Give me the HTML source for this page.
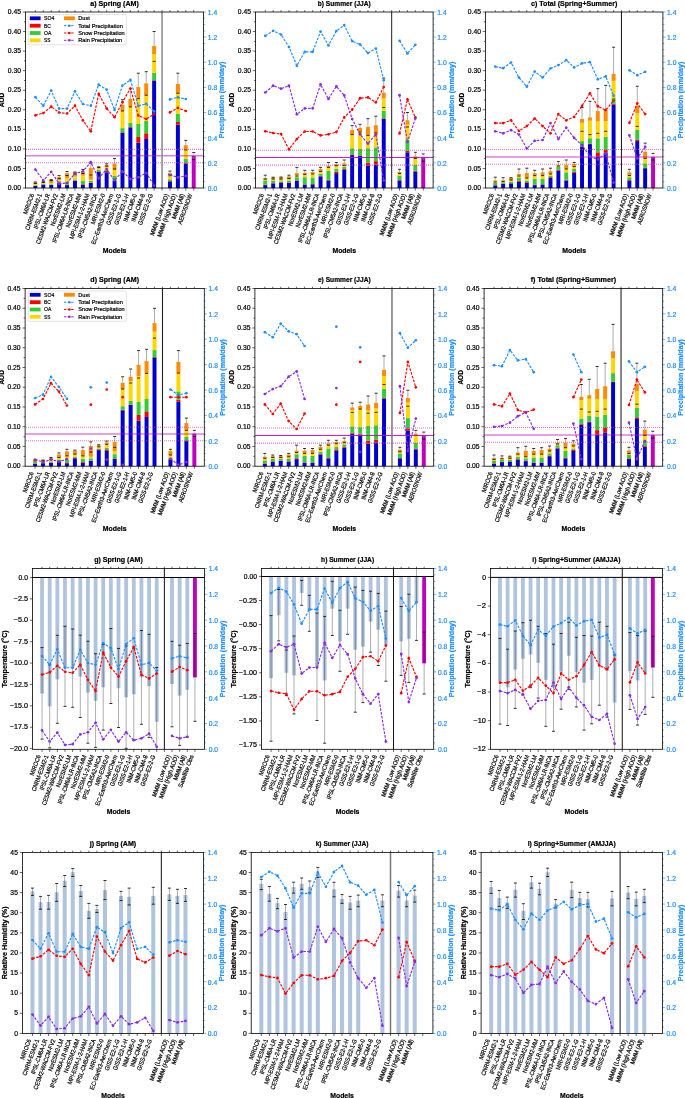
<!DOCTYPE html>
<html><head><meta charset="utf-8"><title>Figure</title>
<style>html,body{margin:0;padding:0;background:#fff;}svg{display:block;font-family:"Liberation Sans",sans-serif;will-change:transform;}</style>
</head><body>
<svg width="685" height="1098" viewBox="0 0 685 1098" font-family="Liberation Sans, sans-serif">
<rect width="685" height="1098" fill="#fff"/>
<path d="M35.39 188.00v2.6 M35.39 12.00v-1.8 M43.31 188.00v2.6 M43.31 12.00v-1.8 M51.23 188.00v2.6 M51.23 12.00v-1.8 M59.14 188.00v2.6 M59.14 12.00v-1.8 M67.06 188.00v2.6 M67.06 12.00v-1.8 M74.97 188.00v2.6 M74.97 12.00v-1.8 M82.89 188.00v2.6 M82.89 12.00v-1.8 M90.80 188.00v2.6 M90.80 12.00v-1.8 M98.72 188.00v2.6 M98.72 12.00v-1.8 M106.63 188.00v2.6 M106.63 12.00v-1.8 M114.55 188.00v2.6 M114.55 12.00v-1.8 M122.47 188.00v2.6 M122.47 12.00v-1.8 M130.38 188.00v2.6 M130.38 12.00v-1.8 M138.30 188.00v2.6 M138.30 12.00v-1.8 M146.21 188.00v2.6 M146.21 12.00v-1.8 M154.13 188.00v2.6 M154.13 12.00v-1.8 M162.04 188.00v2.6 M162.04 12.00v-1.8 M169.96 188.00v2.6 M169.96 12.00v-1.8 M177.87 188.00v2.6 M177.87 12.00v-1.8 M185.79 188.00v2.6 M185.79 12.00v-1.8 M193.71 188.00v2.6 M193.71 12.00v-1.8 M25.50 188.00h-2.6 M25.50 168.44h-2.6 M25.50 148.89h-2.6 M25.50 129.33h-2.6 M25.50 109.78h-2.6 M25.50 90.22h-2.6 M25.50 70.67h-2.6 M25.50 51.11h-2.6 M25.50 31.56h-2.6 M25.50 12.00h-2.6 M25.50 178.22h-1.5 M25.50 158.67h-1.5 M25.50 139.11h-1.5 M25.50 119.56h-1.5 M25.50 100.00h-1.5 M25.50 80.44h-1.5 M25.50 60.89h-1.5 M25.50 41.33h-1.5 M25.50 21.78h-1.5" stroke="#000" stroke-width="0.6" fill="none"/>
<path d="M203.60 188.00h2.6 M203.60 162.86h2.6 M203.60 137.71h2.6 M203.60 112.57h2.6 M203.60 87.43h2.6 M203.60 62.29h2.6 M203.60 37.14h2.6 M203.60 12.00h2.6 M203.60 181.71h1.5 M203.60 175.43h1.5 M203.60 169.14h1.5 M203.60 156.57h1.5 M203.60 150.29h1.5 M203.60 144.00h1.5 M203.60 131.43h1.5 M203.60 125.14h1.5 M203.60 118.86h1.5 M203.60 106.29h1.5 M203.60 100.00h1.5 M203.60 93.71h1.5 M203.60 81.14h1.5 M203.60 74.86h1.5 M203.60 68.57h1.5 M203.60 56.00h1.5 M203.60 49.71h1.5 M203.60 43.43h1.5 M203.60 30.86h1.5 M203.60 24.57h1.5 M203.60 18.29h1.5" stroke="#1e90ff" stroke-width="0.6" fill="none"/>
<text x="21.00" y="190.10" font-size="6.49" text-anchor="end" fill="#000" stroke="#000" stroke-width="0.2" textLength="13.14" lengthAdjust="spacingAndGlyphs">0.00</text>
<text x="21.00" y="170.54" font-size="6.49" text-anchor="end" fill="#000" stroke="#000" stroke-width="0.2" textLength="13.14" lengthAdjust="spacingAndGlyphs">0.05</text>
<text x="21.00" y="150.99" font-size="6.49" text-anchor="end" fill="#000" stroke="#000" stroke-width="0.2" textLength="13.14" lengthAdjust="spacingAndGlyphs">0.10</text>
<text x="21.00" y="131.43" font-size="6.49" text-anchor="end" fill="#000" stroke="#000" stroke-width="0.2" textLength="13.14" lengthAdjust="spacingAndGlyphs">0.15</text>
<text x="21.00" y="111.88" font-size="6.49" text-anchor="end" fill="#000" stroke="#000" stroke-width="0.2" textLength="13.14" lengthAdjust="spacingAndGlyphs">0.20</text>
<text x="21.00" y="92.32" font-size="6.49" text-anchor="end" fill="#000" stroke="#000" stroke-width="0.2" textLength="13.14" lengthAdjust="spacingAndGlyphs">0.25</text>
<text x="21.00" y="72.77" font-size="6.49" text-anchor="end" fill="#000" stroke="#000" stroke-width="0.2" textLength="13.14" lengthAdjust="spacingAndGlyphs">0.30</text>
<text x="21.00" y="53.21" font-size="6.49" text-anchor="end" fill="#000" stroke="#000" stroke-width="0.2" textLength="13.14" lengthAdjust="spacingAndGlyphs">0.35</text>
<text x="21.00" y="33.66" font-size="6.49" text-anchor="end" fill="#000" stroke="#000" stroke-width="0.2" textLength="13.14" lengthAdjust="spacingAndGlyphs">0.40</text>
<text x="21.00" y="14.10" font-size="6.49" text-anchor="end" fill="#000" stroke="#000" stroke-width="0.2" textLength="13.14" lengthAdjust="spacingAndGlyphs">0.45</text>
<text x="207.80" y="190.90" font-size="6.49" text-anchor="start" fill="#1e90ff" stroke="#1e90ff" stroke-width="0.2" textLength="9.38" lengthAdjust="spacingAndGlyphs">0.0</text>
<text x="207.80" y="165.76" font-size="6.49" text-anchor="start" fill="#1e90ff" stroke="#1e90ff" stroke-width="0.2" textLength="9.38" lengthAdjust="spacingAndGlyphs">0.2</text>
<text x="207.80" y="140.61" font-size="6.49" text-anchor="start" fill="#1e90ff" stroke="#1e90ff" stroke-width="0.2" textLength="9.38" lengthAdjust="spacingAndGlyphs">0.4</text>
<text x="207.80" y="115.47" font-size="6.49" text-anchor="start" fill="#1e90ff" stroke="#1e90ff" stroke-width="0.2" textLength="9.38" lengthAdjust="spacingAndGlyphs">0.6</text>
<text x="207.80" y="90.33" font-size="6.49" text-anchor="start" fill="#1e90ff" stroke="#1e90ff" stroke-width="0.2" textLength="9.38" lengthAdjust="spacingAndGlyphs">0.8</text>
<text x="207.80" y="65.19" font-size="6.49" text-anchor="start" fill="#1e90ff" stroke="#1e90ff" stroke-width="0.2" textLength="9.38" lengthAdjust="spacingAndGlyphs">1.0</text>
<text x="207.80" y="40.04" font-size="6.49" text-anchor="start" fill="#1e90ff" stroke="#1e90ff" stroke-width="0.2" textLength="9.38" lengthAdjust="spacingAndGlyphs">1.2</text>
<text x="207.80" y="14.90" font-size="6.49" text-anchor="start" fill="#1e90ff" stroke="#1e90ff" stroke-width="0.2" textLength="9.38" lengthAdjust="spacingAndGlyphs">1.4</text>
<rect x="33.42" y="186.00" width="3.96" height="2.00" fill="#0000cd"/>
<rect x="33.42" y="185.80" width="3.96" height="0.20" fill="#ff0000"/>
<rect x="33.42" y="185.20" width="3.96" height="0.60" fill="#32cd32"/>
<rect x="33.42" y="184.20" width="3.96" height="1.00" fill="#ffd700"/>
<rect x="33.42" y="182.30" width="3.96" height="1.90" fill="#ff8c00"/>
<line x1="35.39" y1="182.30" x2="35.39" y2="182.00" stroke="#000" stroke-opacity="0.55" stroke-width="0.6"/>
<line x1="33.89" y1="182.00" x2="36.89" y2="182.00" stroke="#000" stroke-width="0.8"/>
<line x1="33.89" y1="183.50" x2="36.89" y2="183.50" stroke="#000" stroke-width="0.8"/>
<rect x="41.33" y="184.70" width="3.96" height="3.30" fill="#0000cd"/>
<rect x="41.33" y="184.50" width="3.96" height="0.20" fill="#ff0000"/>
<rect x="41.33" y="183.80" width="3.96" height="0.70" fill="#32cd32"/>
<rect x="41.33" y="183.00" width="3.96" height="0.80" fill="#ffd700"/>
<rect x="41.33" y="181.60" width="3.96" height="1.40" fill="#ff8c00"/>
<line x1="43.31" y1="181.60" x2="43.31" y2="181.30" stroke="#000" stroke-opacity="0.55" stroke-width="0.6"/>
<line x1="41.81" y1="181.30" x2="44.81" y2="181.30" stroke="#000" stroke-width="0.8"/>
<line x1="41.81" y1="182.50" x2="44.81" y2="182.50" stroke="#000" stroke-width="0.8"/>
<rect x="49.25" y="184.90" width="3.96" height="3.10" fill="#0000cd"/>
<rect x="49.25" y="184.70" width="3.96" height="0.20" fill="#ff0000"/>
<rect x="49.25" y="184.30" width="3.96" height="0.40" fill="#32cd32"/>
<rect x="49.25" y="183.10" width="3.96" height="1.20" fill="#ffd700"/>
<rect x="49.25" y="179.80" width="3.96" height="3.30" fill="#ff8c00"/>
<line x1="51.23" y1="179.80" x2="51.23" y2="179.60" stroke="#000" stroke-opacity="0.55" stroke-width="0.6"/>
<line x1="49.73" y1="179.60" x2="52.73" y2="179.60" stroke="#000" stroke-width="0.8"/>
<line x1="49.73" y1="180.50" x2="52.73" y2="180.50" stroke="#000" stroke-width="0.8"/>
<rect x="57.16" y="182.70" width="3.96" height="5.30" fill="#0000cd"/>
<rect x="57.16" y="182.30" width="3.96" height="0.40" fill="#ff0000"/>
<rect x="57.16" y="181.20" width="3.96" height="1.10" fill="#32cd32"/>
<rect x="57.16" y="179.80" width="3.96" height="1.40" fill="#ffd700"/>
<rect x="57.16" y="177.10" width="3.96" height="2.70" fill="#ff8c00"/>
<line x1="59.14" y1="177.10" x2="59.14" y2="175.60" stroke="#000" stroke-opacity="0.55" stroke-width="0.6"/>
<line x1="57.64" y1="175.60" x2="60.64" y2="175.60" stroke="#000" stroke-width="0.8"/>
<line x1="57.64" y1="178.50" x2="60.64" y2="178.50" stroke="#000" stroke-width="0.8"/>
<rect x="65.08" y="185.10" width="3.96" height="2.90" fill="#0000cd"/>
<rect x="65.08" y="184.70" width="3.96" height="0.40" fill="#ff0000"/>
<rect x="65.08" y="182.00" width="3.96" height="2.70" fill="#32cd32"/>
<rect x="65.08" y="178.00" width="3.96" height="4.00" fill="#ffd700"/>
<rect x="65.08" y="173.20" width="3.96" height="4.80" fill="#ff8c00"/>
<line x1="67.06" y1="173.20" x2="67.06" y2="171.50" stroke="#000" stroke-opacity="0.55" stroke-width="0.6"/>
<line x1="65.56" y1="171.50" x2="68.56" y2="171.50" stroke="#000" stroke-width="0.8"/>
<line x1="65.56" y1="175.50" x2="68.56" y2="175.50" stroke="#000" stroke-width="0.8"/>
<rect x="72.99" y="180.70" width="3.96" height="7.30" fill="#0000cd"/>
<rect x="72.99" y="180.40" width="3.96" height="0.30" fill="#ff0000"/>
<rect x="72.99" y="179.40" width="3.96" height="1.00" fill="#32cd32"/>
<rect x="72.99" y="176.50" width="3.96" height="2.90" fill="#ffd700"/>
<rect x="72.99" y="172.10" width="3.96" height="4.40" fill="#ff8c00"/>
<line x1="74.97" y1="172.10" x2="74.97" y2="172.00" stroke="#000" stroke-opacity="0.55" stroke-width="0.6"/>
<line x1="73.47" y1="172.00" x2="76.47" y2="172.00" stroke="#000" stroke-width="0.8"/>
<line x1="73.47" y1="174.00" x2="76.47" y2="174.00" stroke="#000" stroke-width="0.8"/>
<rect x="80.91" y="184.80" width="3.96" height="3.20" fill="#0000cd"/>
<rect x="80.91" y="184.20" width="3.96" height="0.60" fill="#ff0000"/>
<rect x="80.91" y="180.90" width="3.96" height="3.30" fill="#32cd32"/>
<rect x="80.91" y="175.60" width="3.96" height="5.30" fill="#ffd700"/>
<rect x="80.91" y="171.70" width="3.96" height="3.90" fill="#ff8c00"/>
<line x1="82.89" y1="171.70" x2="82.89" y2="169.40" stroke="#000" stroke-opacity="0.55" stroke-width="0.6"/>
<line x1="81.39" y1="169.40" x2="84.39" y2="169.40" stroke="#000" stroke-width="0.8"/>
<line x1="81.39" y1="173.50" x2="84.39" y2="173.50" stroke="#000" stroke-width="0.8"/>
<rect x="88.82" y="182.80" width="3.96" height="5.20" fill="#0000cd"/>
<rect x="88.82" y="182.50" width="3.96" height="0.30" fill="#ff0000"/>
<rect x="88.82" y="180.90" width="3.96" height="1.60" fill="#32cd32"/>
<rect x="88.82" y="179.60" width="3.96" height="1.30" fill="#ffd700"/>
<rect x="88.82" y="168.10" width="3.96" height="11.50" fill="#ff8c00"/>
<line x1="90.80" y1="168.10" x2="90.80" y2="163.10" stroke="#000" stroke-opacity="0.55" stroke-width="0.6"/>
<line x1="89.30" y1="163.10" x2="92.30" y2="163.10" stroke="#000" stroke-width="0.8"/>
<line x1="89.30" y1="175.00" x2="92.30" y2="175.00" stroke="#000" stroke-width="0.8"/>
<rect x="96.74" y="171.70" width="3.96" height="16.30" fill="#0000cd"/>
<rect x="96.74" y="171.30" width="3.96" height="0.40" fill="#ff0000"/>
<rect x="96.74" y="169.70" width="3.96" height="1.60" fill="#32cd32"/>
<rect x="96.74" y="168.40" width="3.96" height="1.30" fill="#ffd700"/>
<rect x="96.74" y="167.10" width="3.96" height="1.30" fill="#ff8c00"/>
<line x1="98.72" y1="167.10" x2="98.72" y2="166.80" stroke="#000" stroke-opacity="0.55" stroke-width="0.6"/>
<line x1="97.22" y1="166.80" x2="100.22" y2="166.80" stroke="#000" stroke-width="0.8"/>
<line x1="97.22" y1="167.50" x2="100.22" y2="167.50" stroke="#000" stroke-width="0.8"/>
<rect x="104.66" y="172.30" width="3.96" height="15.70" fill="#0000cd"/>
<rect x="104.66" y="171.00" width="3.96" height="1.30" fill="#ff0000"/>
<rect x="104.66" y="169.50" width="3.96" height="1.50" fill="#32cd32"/>
<rect x="104.66" y="167.10" width="3.96" height="2.40" fill="#ffd700"/>
<rect x="104.66" y="165.10" width="3.96" height="2.00" fill="#ff8c00"/>
<line x1="106.63" y1="165.10" x2="106.63" y2="163.80" stroke="#000" stroke-opacity="0.55" stroke-width="0.6"/>
<line x1="105.13" y1="163.80" x2="108.13" y2="163.80" stroke="#000" stroke-width="0.8"/>
<line x1="105.13" y1="166.00" x2="108.13" y2="166.00" stroke="#000" stroke-width="0.8"/>
<rect x="112.57" y="180.70" width="3.96" height="7.30" fill="#0000cd"/>
<rect x="112.57" y="180.50" width="3.96" height="0.20" fill="#ff0000"/>
<rect x="112.57" y="175.90" width="3.96" height="4.60" fill="#32cd32"/>
<rect x="112.57" y="170.00" width="3.96" height="5.90" fill="#ffd700"/>
<rect x="112.57" y="163.60" width="3.96" height="6.40" fill="#ff8c00"/>
<line x1="114.55" y1="163.60" x2="114.55" y2="158.60" stroke="#000" stroke-opacity="0.55" stroke-width="0.6"/>
<line x1="113.05" y1="158.60" x2="116.05" y2="158.60" stroke="#000" stroke-width="0.8"/>
<line x1="113.05" y1="169.00" x2="116.05" y2="169.00" stroke="#000" stroke-width="0.8"/>
<rect x="120.49" y="132.60" width="3.96" height="55.40" fill="#0000cd"/>
<rect x="120.49" y="132.20" width="3.96" height="0.40" fill="#ff0000"/>
<rect x="120.49" y="128.10" width="3.96" height="4.10" fill="#32cd32"/>
<rect x="120.49" y="111.00" width="3.96" height="17.10" fill="#ffd700"/>
<rect x="120.49" y="104.90" width="3.96" height="6.10" fill="#ff8c00"/>
<line x1="122.47" y1="104.90" x2="122.47" y2="99.70" stroke="#000" stroke-opacity="0.55" stroke-width="0.6"/>
<line x1="120.97" y1="99.70" x2="123.97" y2="99.70" stroke="#000" stroke-width="0.8"/>
<line x1="120.97" y1="111.00" x2="123.97" y2="111.00" stroke="#000" stroke-width="0.8"/>
<rect x="128.40" y="127.40" width="3.96" height="60.60" fill="#0000cd"/>
<rect x="128.40" y="127.00" width="3.96" height="0.40" fill="#ff0000"/>
<rect x="128.40" y="122.90" width="3.96" height="4.10" fill="#32cd32"/>
<rect x="128.40" y="106.90" width="3.96" height="16.00" fill="#ffd700"/>
<rect x="128.40" y="99.00" width="3.96" height="7.90" fill="#ff8c00"/>
<line x1="130.38" y1="99.00" x2="130.38" y2="88.50" stroke="#000" stroke-opacity="0.55" stroke-width="0.6"/>
<line x1="128.88" y1="88.50" x2="131.88" y2="88.50" stroke="#000" stroke-width="0.8"/>
<line x1="128.88" y1="106.90" x2="131.88" y2="106.90" stroke="#000" stroke-width="0.8"/>
<rect x="136.32" y="142.70" width="3.96" height="45.30" fill="#0000cd"/>
<rect x="136.32" y="137.00" width="3.96" height="5.70" fill="#ff0000"/>
<rect x="136.32" y="124.00" width="3.96" height="13.00" fill="#32cd32"/>
<rect x="136.32" y="98.70" width="3.96" height="25.30" fill="#ffd700"/>
<rect x="136.32" y="87.10" width="3.96" height="11.60" fill="#ff8c00"/>
<line x1="138.30" y1="87.10" x2="138.30" y2="73.20" stroke="#000" stroke-opacity="0.55" stroke-width="0.6"/>
<line x1="136.80" y1="73.20" x2="139.80" y2="73.20" stroke="#000" stroke-width="0.8"/>
<line x1="136.80" y1="98.70" x2="139.80" y2="98.70" stroke="#000" stroke-width="0.8"/>
<rect x="144.23" y="139.00" width="3.96" height="49.00" fill="#0000cd"/>
<rect x="144.23" y="133.30" width="3.96" height="5.70" fill="#ff0000"/>
<rect x="144.23" y="120.90" width="3.96" height="12.40" fill="#32cd32"/>
<rect x="144.23" y="95.30" width="3.96" height="25.60" fill="#ffd700"/>
<rect x="144.23" y="83.40" width="3.96" height="11.90" fill="#ff8c00"/>
<line x1="146.21" y1="83.40" x2="146.21" y2="71.70" stroke="#000" stroke-opacity="0.55" stroke-width="0.6"/>
<line x1="144.71" y1="71.70" x2="147.71" y2="71.70" stroke="#000" stroke-width="0.8"/>
<line x1="144.71" y1="95.30" x2="147.71" y2="95.30" stroke="#000" stroke-width="0.8"/>
<rect x="152.15" y="80.90" width="3.96" height="107.10" fill="#0000cd"/>
<rect x="152.15" y="80.20" width="3.96" height="0.70" fill="#ff0000"/>
<rect x="152.15" y="72.80" width="3.96" height="7.40" fill="#32cd32"/>
<rect x="152.15" y="54.10" width="3.96" height="18.70" fill="#ffd700"/>
<rect x="152.15" y="46.00" width="3.96" height="8.10" fill="#ff8c00"/>
<line x1="154.13" y1="46.00" x2="154.13" y2="31.50" stroke="#000" stroke-opacity="0.55" stroke-width="0.6"/>
<line x1="152.63" y1="31.50" x2="155.63" y2="31.50" stroke="#000" stroke-width="0.8"/>
<line x1="152.63" y1="61.40" x2="155.63" y2="61.40" stroke="#000" stroke-width="0.8"/>
<rect x="167.98" y="181.40" width="3.96" height="6.60" fill="#0000cd"/>
<rect x="167.98" y="181.00" width="3.96" height="0.40" fill="#ff0000"/>
<rect x="167.98" y="179.30" width="3.96" height="1.70" fill="#32cd32"/>
<rect x="167.98" y="176.60" width="3.96" height="2.70" fill="#ffd700"/>
<rect x="167.98" y="173.20" width="3.96" height="3.40" fill="#ff8c00"/>
<line x1="169.96" y1="173.20" x2="169.96" y2="171.10" stroke="#000" stroke-opacity="0.55" stroke-width="0.6"/>
<line x1="168.46" y1="171.10" x2="171.46" y2="171.10" stroke="#000" stroke-width="0.8"/>
<line x1="168.46" y1="174.50" x2="171.46" y2="174.50" stroke="#000" stroke-width="0.8"/>
<rect x="175.90" y="124.70" width="3.96" height="63.30" fill="#0000cd"/>
<rect x="175.90" y="122.00" width="3.96" height="2.70" fill="#ff0000"/>
<rect x="175.90" y="113.80" width="3.96" height="8.20" fill="#32cd32"/>
<rect x="175.90" y="93.30" width="3.96" height="20.50" fill="#ffd700"/>
<rect x="175.90" y="84.00" width="3.96" height="9.30" fill="#ff8c00"/>
<line x1="177.87" y1="84.00" x2="177.87" y2="73.20" stroke="#000" stroke-opacity="0.55" stroke-width="0.6"/>
<line x1="176.37" y1="73.20" x2="179.37" y2="73.20" stroke="#000" stroke-width="0.8"/>
<line x1="176.37" y1="93.30" x2="179.37" y2="93.30" stroke="#000" stroke-width="0.8"/>
<rect x="183.81" y="163.60" width="3.96" height="24.40" fill="#0000cd"/>
<rect x="183.81" y="163.00" width="3.96" height="0.60" fill="#ff0000"/>
<rect x="183.81" y="158.90" width="3.96" height="4.10" fill="#32cd32"/>
<rect x="183.81" y="150.00" width="3.96" height="8.90" fill="#ffd700"/>
<rect x="183.81" y="145.20" width="3.96" height="4.80" fill="#ff8c00"/>
<line x1="185.79" y1="145.20" x2="185.79" y2="140.40" stroke="#000" stroke-opacity="0.55" stroke-width="0.6"/>
<line x1="184.29" y1="140.40" x2="187.29" y2="140.40" stroke="#000" stroke-width="0.8"/>
<line x1="184.29" y1="150.00" x2="187.29" y2="150.00" stroke="#000" stroke-width="0.8"/>
<rect x="191.73" y="155.80" width="3.96" height="32.20" fill="#bf00bf"/>
<line x1="193.71" y1="152.50" x2="193.71" y2="159.50" stroke="#808080" stroke-opacity="0.55" stroke-width="0.8"/>
<line x1="192.21" y1="152.50" x2="195.21" y2="152.50" stroke="#000" stroke-width="0.8"/>
<line x1="192.21" y1="159.50" x2="195.21" y2="159.50" stroke="#000" stroke-width="0.8"/>
<line x1="26.00" y1="149.40" x2="203.60" y2="149.40" stroke="#cc33cc" stroke-opacity="0.7" stroke-width="1.1" stroke-dasharray="1 1"/>
<line x1="26.00" y1="162.70" x2="203.60" y2="162.70" stroke="#cc33cc" stroke-opacity="0.7" stroke-width="1.1" stroke-dasharray="1 1"/>
<line x1="25.50" y1="155.80" x2="203.60" y2="155.80" stroke="#bf00bf" stroke-opacity="0.5" stroke-width="1.6"/>
<line x1="162.04" y1="12.00" x2="162.04" y2="188.00" stroke="#888" stroke-width="1.5"/>
<path d="M35.39 97.20 L43.31 105.70 L51.23 90.60 L59.14 108.60 L67.06 108.60 L74.97 91.30 L82.89 104.00 L90.80 105.70 L98.72 84.70 L106.63 89.60 L114.55 109.90 L122.47 85.50 L130.38 79.90 L138.30 105.80 L146.21 103.90 L154.13 111.40" fill="none" stroke="#1e90ff" stroke-width="1.15" stroke-dasharray="2.6 1.3"/>
<path d="M169.96 99.40 L177.87 97.40 L185.79 99.00" fill="none" stroke="#1e90ff" stroke-width="1.15" stroke-dasharray="2.6 1.3"/>
<circle cx="35.39" cy="97.20" r="1.35" fill="#1e90ff"/>
<circle cx="43.31" cy="105.70" r="1.35" fill="#1e90ff"/>
<circle cx="51.23" cy="90.60" r="1.35" fill="#1e90ff"/>
<circle cx="59.14" cy="108.60" r="1.35" fill="#1e90ff"/>
<circle cx="67.06" cy="108.60" r="1.35" fill="#1e90ff"/>
<circle cx="74.97" cy="91.30" r="1.35" fill="#1e90ff"/>
<circle cx="82.89" cy="104.00" r="1.35" fill="#1e90ff"/>
<circle cx="90.80" cy="105.70" r="1.35" fill="#1e90ff"/>
<circle cx="98.72" cy="84.70" r="1.35" fill="#1e90ff"/>
<circle cx="106.63" cy="89.60" r="1.35" fill="#1e90ff"/>
<circle cx="114.55" cy="109.90" r="1.35" fill="#1e90ff"/>
<circle cx="122.47" cy="85.50" r="1.35" fill="#1e90ff"/>
<circle cx="130.38" cy="79.90" r="1.35" fill="#1e90ff"/>
<circle cx="138.30" cy="105.80" r="1.35" fill="#1e90ff"/>
<circle cx="146.21" cy="103.90" r="1.35" fill="#1e90ff"/>
<circle cx="154.13" cy="111.40" r="1.35" fill="#1e90ff"/>
<circle cx="169.96" cy="99.40" r="1.35" fill="#1e90ff"/>
<circle cx="177.87" cy="97.40" r="1.35" fill="#1e90ff"/>
<circle cx="185.79" cy="99.00" r="1.35" fill="#1e90ff"/>
<path d="M35.39 115.30 L43.31 113.10 L51.23 106.70 L59.14 112.50 L67.06 113.50 L74.97 105.70 L82.89 120.40 L90.80 131.30 L98.72 93.90 L106.63 108.40 L114.55 117.20 L122.47 102.20 L130.38 88.50 L138.30 115.50 L146.21 119.00 L154.13 114.20" fill="none" stroke="#ff0000" stroke-width="1.15" stroke-dasharray="2.6 1.3"/>
<path d="M169.96 112.40 L177.87 107.90 L185.79 111.00" fill="none" stroke="#ff0000" stroke-width="1.15" stroke-dasharray="2.6 1.3"/>
<circle cx="35.39" cy="115.30" r="1.35" fill="#ff0000"/>
<circle cx="43.31" cy="113.10" r="1.35" fill="#ff0000"/>
<circle cx="51.23" cy="106.70" r="1.35" fill="#ff0000"/>
<circle cx="59.14" cy="112.50" r="1.35" fill="#ff0000"/>
<circle cx="67.06" cy="113.50" r="1.35" fill="#ff0000"/>
<circle cx="74.97" cy="105.70" r="1.35" fill="#ff0000"/>
<circle cx="82.89" cy="120.40" r="1.35" fill="#ff0000"/>
<circle cx="90.80" cy="131.30" r="1.35" fill="#ff0000"/>
<circle cx="98.72" cy="93.90" r="1.35" fill="#ff0000"/>
<circle cx="106.63" cy="108.40" r="1.35" fill="#ff0000"/>
<circle cx="114.55" cy="117.20" r="1.35" fill="#ff0000"/>
<circle cx="122.47" cy="102.20" r="1.35" fill="#ff0000"/>
<circle cx="130.38" cy="88.50" r="1.35" fill="#ff0000"/>
<circle cx="138.30" cy="115.50" r="1.35" fill="#ff0000"/>
<circle cx="146.21" cy="119.00" r="1.35" fill="#ff0000"/>
<circle cx="154.13" cy="114.20" r="1.35" fill="#ff0000"/>
<circle cx="169.96" cy="112.40" r="1.35" fill="#ff0000"/>
<circle cx="177.87" cy="107.90" r="1.35" fill="#ff0000"/>
<circle cx="185.79" cy="111.00" r="1.35" fill="#ff0000"/>
<path d="M35.39 169.60 L43.31 180.40 L51.23 171.80 L59.14 183.70 L67.06 183.00 L74.97 173.50 L82.89 171.40 L90.80 162.20 L98.72 178.30 L106.63 169.10 L114.55 180.50 L122.47 171.40 L130.38 179.10 L138.30 177.30 L146.21 172.80 L154.13 185.50" fill="none" stroke="#8a2be2" stroke-width="1.15" stroke-dasharray="2.6 1.3"/>
<path d="M169.96 175.00 L177.87 177.30 L185.79 175.90" fill="none" stroke="#8a2be2" stroke-width="1.15" stroke-dasharray="2.6 1.3"/>
<circle cx="35.39" cy="169.60" r="1.35" fill="#8a2be2"/>
<circle cx="43.31" cy="180.40" r="1.35" fill="#8a2be2"/>
<circle cx="51.23" cy="171.80" r="1.35" fill="#8a2be2"/>
<circle cx="59.14" cy="183.70" r="1.35" fill="#8a2be2"/>
<circle cx="67.06" cy="183.00" r="1.35" fill="#8a2be2"/>
<circle cx="74.97" cy="173.50" r="1.35" fill="#8a2be2"/>
<circle cx="82.89" cy="171.40" r="1.35" fill="#8a2be2"/>
<circle cx="90.80" cy="162.20" r="1.35" fill="#8a2be2"/>
<circle cx="98.72" cy="178.30" r="1.35" fill="#8a2be2"/>
<circle cx="106.63" cy="169.10" r="1.35" fill="#8a2be2"/>
<circle cx="114.55" cy="180.50" r="1.35" fill="#8a2be2"/>
<circle cx="122.47" cy="171.40" r="1.35" fill="#8a2be2"/>
<circle cx="130.38" cy="179.10" r="1.35" fill="#8a2be2"/>
<circle cx="138.30" cy="177.30" r="1.35" fill="#8a2be2"/>
<circle cx="146.21" cy="172.80" r="1.35" fill="#8a2be2"/>
<circle cx="154.13" cy="185.50" r="1.35" fill="#8a2be2"/>
<circle cx="169.96" cy="175.00" r="1.35" fill="#8a2be2"/>
<circle cx="177.87" cy="177.30" r="1.35" fill="#8a2be2"/>
<circle cx="185.79" cy="175.90" r="1.35" fill="#8a2be2"/>
<rect x="25.50" y="12.00" width="178.10" height="176.00" fill="none" stroke="#000" stroke-width="0.8"/>
<text x="114.55" y="5.80" font-size="6.49" font-weight="bold" text-anchor="middle" fill="#000" stroke="#000" stroke-width="0.2" textLength="48.44" lengthAdjust="spacingAndGlyphs">a) Spring (AM)</text>
<text x="4.46" y="100.00" font-size="6.49" font-weight="bold" text-anchor="middle" fill="#000" stroke="#000" stroke-width="0.2" textLength="14.48" lengthAdjust="spacingAndGlyphs" transform="rotate(-90 4.46 100.00)">AOD</text>
<text x="224.10" y="100.00" font-size="6.49" font-weight="bold" text-anchor="middle" fill="#1e90ff" stroke="#1e90ff" stroke-width="0.2" textLength="76.67" lengthAdjust="spacingAndGlyphs" transform="rotate(-90 224.10 100.00)">Precipitation (mm/day)</text>
<text x="114.55" y="252.80" font-size="6.49" font-weight="bold" text-anchor="middle" fill="#000" stroke="#000" stroke-width="0.2" textLength="23.68" lengthAdjust="spacingAndGlyphs">Models</text>
<text x="34.19" y="194.70" font-size="6.21" text-anchor="end" fill="#000" stroke="#000" stroke-width="0.2" textLength="21.26" lengthAdjust="spacingAndGlyphs" transform="rotate(-70 34.19 194.70)">MIROC6</text>
<text x="42.11" y="194.70" font-size="6.21" text-anchor="end" fill="#000" stroke="#000" stroke-width="0.2" textLength="38.13" lengthAdjust="spacingAndGlyphs" transform="rotate(-70 42.11 194.70)">CNRM-ESM2-1</text>
<text x="50.03" y="194.70" font-size="6.21" text-anchor="end" fill="#000" stroke="#000" stroke-width="0.2" textLength="36.94" lengthAdjust="spacingAndGlyphs" transform="rotate(-70 50.03 194.70)">IPSL-CM6A-LR</text>
<text x="57.94" y="194.70" font-size="6.21" text-anchor="end" fill="#000" stroke="#000" stroke-width="0.2" textLength="52.97" lengthAdjust="spacingAndGlyphs" transform="rotate(-70 57.94 194.70)">CESM2-WACCM-FV2</text>
<text x="65.86" y="194.70" font-size="6.21" text-anchor="end" fill="#000" stroke="#000" stroke-width="0.2" textLength="33.80" lengthAdjust="spacingAndGlyphs" transform="rotate(-70 65.86 194.70)">NorESM2-LM</text>
<text x="73.77" y="194.70" font-size="6.21" text-anchor="end" fill="#000" stroke="#000" stroke-width="0.2" textLength="51.63" lengthAdjust="spacingAndGlyphs" transform="rotate(-70 73.77 194.70)">IPSL-CM6A-LR-INCA</text>
<text x="81.69" y="194.70" font-size="6.21" text-anchor="end" fill="#000" stroke="#000" stroke-width="0.2" textLength="35.43" lengthAdjust="spacingAndGlyphs" transform="rotate(-70 81.69 194.70)">NorESM2-MM</text>
<text x="89.60" y="194.70" font-size="6.21" text-anchor="end" fill="#000" stroke="#000" stroke-width="0.2" textLength="47.64" lengthAdjust="spacingAndGlyphs" transform="rotate(-70 89.60 194.70)">MPI-ESM-1-2-HAM</text>
<text x="97.52" y="194.70" font-size="6.21" text-anchor="end" fill="#000" stroke="#000" stroke-width="0.2" textLength="46.74" lengthAdjust="spacingAndGlyphs" transform="rotate(-70 97.52 194.70)">IPSL-CM5A2-INCA</text>
<text x="105.43" y="194.70" font-size="6.21" text-anchor="end" fill="#000" stroke="#000" stroke-width="0.2" textLength="31.97" lengthAdjust="spacingAndGlyphs" transform="rotate(-70 105.43 194.70)">MRI-ESM2-0</text>
<text x="113.35" y="194.70" font-size="6.21" text-anchor="end" fill="#000" stroke="#000" stroke-width="0.2" textLength="53.30" lengthAdjust="spacingAndGlyphs" transform="rotate(-70 113.35 194.70)">EC-Earth3-AerChem</text>
<text x="121.27" y="194.70" font-size="6.21" text-anchor="end" fill="#000" stroke="#000" stroke-width="0.2" textLength="32.84" lengthAdjust="spacingAndGlyphs" transform="rotate(-70 121.27 194.70)">GISS-E2-1-G</text>
<text x="129.18" y="194.70" font-size="6.21" text-anchor="end" fill="#000" stroke="#000" stroke-width="0.2" textLength="32.52" lengthAdjust="spacingAndGlyphs" transform="rotate(-70 129.18 194.70)">GISS-E2-1-H</text>
<text x="137.10" y="194.70" font-size="6.21" text-anchor="end" fill="#000" stroke="#000" stroke-width="0.2" textLength="29.22" lengthAdjust="spacingAndGlyphs" transform="rotate(-70 137.10 194.70)">INM-CM5-0</text>
<text x="145.01" y="194.70" font-size="6.21" text-anchor="end" fill="#000" stroke="#000" stroke-width="0.2" textLength="29.22" lengthAdjust="spacingAndGlyphs" transform="rotate(-70 145.01 194.70)">INM-CM4-8</text>
<text x="152.93" y="194.70" font-size="6.21" text-anchor="end" fill="#000" stroke="#000" stroke-width="0.2" textLength="32.84" lengthAdjust="spacingAndGlyphs" transform="rotate(-70 152.93 194.70)">GISS-E2-2-G</text>
<text x="168.76" y="194.70" font-size="6.21" text-anchor="end" fill="#000" stroke="#000" stroke-width="0.2" textLength="43.86" lengthAdjust="spacingAndGlyphs" transform="rotate(-70 168.76 194.70)">MMM (Low AOD)</text>
<text x="176.67" y="194.70" font-size="6.21" text-anchor="end" fill="#000" stroke="#000" stroke-width="0.2" textLength="45.62" lengthAdjust="spacingAndGlyphs" transform="rotate(-70 176.67 194.70)">MMM (High AOD)</text>
<text x="184.59" y="194.70" font-size="6.21" text-anchor="end" fill="#000" stroke="#000" stroke-width="0.2" textLength="26.36" lengthAdjust="spacingAndGlyphs" transform="rotate(-70 184.59 194.70)">MMM (All)</text>
<text x="192.51" y="194.70" font-size="6.21" text-anchor="end" fill="#000" stroke="#000" stroke-width="0.2" textLength="31.87" lengthAdjust="spacingAndGlyphs" transform="rotate(-70 192.51 194.70)">AEROSNOW</text>
<rect x="28.2" y="14.60" width="98.10" height="30.20" rx="1" fill="#fff" fill-opacity="0.8" stroke="#d0d0d0" stroke-width="0.6"/>
<rect x="29.80" y="16.40" width="10.80" height="3.80" fill="#0000cd"/>
<text x="44.00" y="20.10" font-size="5.50" text-anchor="start" fill="#000" stroke="#000" stroke-width="0.2" textLength="10.29" lengthAdjust="spacingAndGlyphs">SO4</text>
<rect x="29.80" y="23.80" width="10.80" height="3.80" fill="#ff0000"/>
<text x="44.00" y="27.50" font-size="5.50" text-anchor="start" fill="#000" stroke="#000" stroke-width="0.2" textLength="6.83" lengthAdjust="spacingAndGlyphs">BC</text>
<rect x="29.80" y="31.10" width="10.80" height="3.80" fill="#32cd32"/>
<text x="44.00" y="34.80" font-size="5.50" text-anchor="start" fill="#000" stroke="#000" stroke-width="0.2" textLength="7.27" lengthAdjust="spacingAndGlyphs">OA</text>
<rect x="29.80" y="38.40" width="10.80" height="3.80" fill="#ffd700"/>
<text x="44.00" y="42.10" font-size="5.50" text-anchor="start" fill="#000" stroke="#000" stroke-width="0.2" textLength="6.35" lengthAdjust="spacingAndGlyphs">SS</text>
<rect x="64.00" y="16.40" width="10.80" height="3.80" fill="#ff8c00"/>
<text x="78.30" y="20.10" font-size="5.50" text-anchor="start" fill="#000" stroke="#000" stroke-width="0.2" textLength="11.58" lengthAdjust="spacingAndGlyphs">Dust</text>
<line x1="64.0" y1="25.70" x2="74.8" y2="25.70" stroke="#1e90ff" stroke-width="1.0" stroke-dasharray="2.4 1.2"/>
<circle cx="69.4" cy="25.70" r="1.3" fill="#1e90ff"/>
<text x="78.30" y="27.50" font-size="5.50" text-anchor="start" fill="#000" stroke="#000" stroke-width="0.2" textLength="44.52" lengthAdjust="spacingAndGlyphs">Total Precipitation</text>
<line x1="64.0" y1="33.00" x2="74.8" y2="33.00" stroke="#ff0000" stroke-width="1.0" stroke-dasharray="2.4 1.2"/>
<circle cx="69.4" cy="33.00" r="1.3" fill="#ff0000"/>
<text x="78.30" y="34.80" font-size="5.50" text-anchor="start" fill="#000" stroke="#000" stroke-width="0.2" textLength="46.33" lengthAdjust="spacingAndGlyphs">Snow Precipitation</text>
<line x1="64.0" y1="40.30" x2="74.8" y2="40.30" stroke="#8a2be2" stroke-width="1.0" stroke-dasharray="2.4 1.2"/>
<circle cx="69.4" cy="40.30" r="1.3" fill="#8a2be2"/>
<text x="78.30" y="42.10" font-size="5.50" text-anchor="start" fill="#000" stroke="#000" stroke-width="0.2" textLength="43.83" lengthAdjust="spacingAndGlyphs">Rain Precipitation</text>
<path d="M265.27 188.00v2.6 M265.27 12.00v-1.8 M273.17 188.00v2.6 M273.17 12.00v-1.8 M281.07 188.00v2.6 M281.07 12.00v-1.8 M288.97 188.00v2.6 M288.97 12.00v-1.8 M296.86 188.00v2.6 M296.86 12.00v-1.8 M304.76 188.00v2.6 M304.76 12.00v-1.8 M312.66 188.00v2.6 M312.66 12.00v-1.8 M320.56 188.00v2.6 M320.56 12.00v-1.8 M328.45 188.00v2.6 M328.45 12.00v-1.8 M336.35 188.00v2.6 M336.35 12.00v-1.8 M344.25 188.00v2.6 M344.25 12.00v-1.8 M352.15 188.00v2.6 M352.15 12.00v-1.8 M360.05 188.00v2.6 M360.05 12.00v-1.8 M367.94 188.00v2.6 M367.94 12.00v-1.8 M375.84 188.00v2.6 M375.84 12.00v-1.8 M383.74 188.00v2.6 M383.74 12.00v-1.8 M391.64 188.00v2.6 M391.64 12.00v-1.8 M399.53 188.00v2.6 M399.53 12.00v-1.8 M407.43 188.00v2.6 M407.43 12.00v-1.8 M415.33 188.00v2.6 M415.33 12.00v-1.8 M423.23 188.00v2.6 M423.23 12.00v-1.8 M255.40 188.00h-2.6 M255.40 168.44h-2.6 M255.40 148.89h-2.6 M255.40 129.33h-2.6 M255.40 109.78h-2.6 M255.40 90.22h-2.6 M255.40 70.67h-2.6 M255.40 51.11h-2.6 M255.40 31.56h-2.6 M255.40 12.00h-2.6 M255.40 178.22h-1.5 M255.40 158.67h-1.5 M255.40 139.11h-1.5 M255.40 119.56h-1.5 M255.40 100.00h-1.5 M255.40 80.44h-1.5 M255.40 60.89h-1.5 M255.40 41.33h-1.5 M255.40 21.78h-1.5" stroke="#000" stroke-width="0.6" fill="none"/>
<path d="M433.10 188.00h2.6 M433.10 162.86h2.6 M433.10 137.71h2.6 M433.10 112.57h2.6 M433.10 87.43h2.6 M433.10 62.29h2.6 M433.10 37.14h2.6 M433.10 12.00h2.6 M433.10 181.71h1.5 M433.10 175.43h1.5 M433.10 169.14h1.5 M433.10 156.57h1.5 M433.10 150.29h1.5 M433.10 144.00h1.5 M433.10 131.43h1.5 M433.10 125.14h1.5 M433.10 118.86h1.5 M433.10 106.29h1.5 M433.10 100.00h1.5 M433.10 93.71h1.5 M433.10 81.14h1.5 M433.10 74.86h1.5 M433.10 68.57h1.5 M433.10 56.00h1.5 M433.10 49.71h1.5 M433.10 43.43h1.5 M433.10 30.86h1.5 M433.10 24.57h1.5 M433.10 18.29h1.5" stroke="#1e90ff" stroke-width="0.6" fill="none"/>
<text x="250.90" y="190.10" font-size="6.49" text-anchor="end" fill="#000" stroke="#000" stroke-width="0.2" textLength="13.14" lengthAdjust="spacingAndGlyphs">0.00</text>
<text x="250.90" y="170.54" font-size="6.49" text-anchor="end" fill="#000" stroke="#000" stroke-width="0.2" textLength="13.14" lengthAdjust="spacingAndGlyphs">0.05</text>
<text x="250.90" y="150.99" font-size="6.49" text-anchor="end" fill="#000" stroke="#000" stroke-width="0.2" textLength="13.14" lengthAdjust="spacingAndGlyphs">0.10</text>
<text x="250.90" y="131.43" font-size="6.49" text-anchor="end" fill="#000" stroke="#000" stroke-width="0.2" textLength="13.14" lengthAdjust="spacingAndGlyphs">0.15</text>
<text x="250.90" y="111.88" font-size="6.49" text-anchor="end" fill="#000" stroke="#000" stroke-width="0.2" textLength="13.14" lengthAdjust="spacingAndGlyphs">0.20</text>
<text x="250.90" y="92.32" font-size="6.49" text-anchor="end" fill="#000" stroke="#000" stroke-width="0.2" textLength="13.14" lengthAdjust="spacingAndGlyphs">0.25</text>
<text x="250.90" y="72.77" font-size="6.49" text-anchor="end" fill="#000" stroke="#000" stroke-width="0.2" textLength="13.14" lengthAdjust="spacingAndGlyphs">0.30</text>
<text x="250.90" y="53.21" font-size="6.49" text-anchor="end" fill="#000" stroke="#000" stroke-width="0.2" textLength="13.14" lengthAdjust="spacingAndGlyphs">0.35</text>
<text x="250.90" y="33.66" font-size="6.49" text-anchor="end" fill="#000" stroke="#000" stroke-width="0.2" textLength="13.14" lengthAdjust="spacingAndGlyphs">0.40</text>
<text x="250.90" y="14.10" font-size="6.49" text-anchor="end" fill="#000" stroke="#000" stroke-width="0.2" textLength="13.14" lengthAdjust="spacingAndGlyphs">0.45</text>
<text x="437.30" y="190.90" font-size="6.49" text-anchor="start" fill="#1e90ff" stroke="#1e90ff" stroke-width="0.2" textLength="9.38" lengthAdjust="spacingAndGlyphs">0.0</text>
<text x="437.30" y="165.76" font-size="6.49" text-anchor="start" fill="#1e90ff" stroke="#1e90ff" stroke-width="0.2" textLength="9.38" lengthAdjust="spacingAndGlyphs">0.2</text>
<text x="437.30" y="140.61" font-size="6.49" text-anchor="start" fill="#1e90ff" stroke="#1e90ff" stroke-width="0.2" textLength="9.38" lengthAdjust="spacingAndGlyphs">0.4</text>
<text x="437.30" y="115.47" font-size="6.49" text-anchor="start" fill="#1e90ff" stroke="#1e90ff" stroke-width="0.2" textLength="9.38" lengthAdjust="spacingAndGlyphs">0.6</text>
<text x="437.30" y="90.33" font-size="6.49" text-anchor="start" fill="#1e90ff" stroke="#1e90ff" stroke-width="0.2" textLength="9.38" lengthAdjust="spacingAndGlyphs">0.8</text>
<text x="437.30" y="65.19" font-size="6.49" text-anchor="start" fill="#1e90ff" stroke="#1e90ff" stroke-width="0.2" textLength="9.38" lengthAdjust="spacingAndGlyphs">1.0</text>
<text x="437.30" y="40.04" font-size="6.49" text-anchor="start" fill="#1e90ff" stroke="#1e90ff" stroke-width="0.2" textLength="9.38" lengthAdjust="spacingAndGlyphs">1.2</text>
<text x="437.30" y="14.90" font-size="6.49" text-anchor="start" fill="#1e90ff" stroke="#1e90ff" stroke-width="0.2" textLength="9.38" lengthAdjust="spacingAndGlyphs">1.4</text>
<rect x="263.30" y="185.10" width="3.95" height="2.90" fill="#0000cd"/>
<rect x="263.30" y="184.70" width="3.95" height="0.40" fill="#ff0000"/>
<rect x="263.30" y="180.50" width="3.95" height="4.20" fill="#32cd32"/>
<rect x="263.30" y="179.20" width="3.95" height="1.30" fill="#ffd700"/>
<rect x="263.30" y="178.00" width="3.95" height="1.20" fill="#ff8c00"/>
<line x1="265.27" y1="178.00" x2="265.27" y2="175.20" stroke="#000" stroke-opacity="0.55" stroke-width="0.6"/>
<line x1="263.77" y1="175.20" x2="266.77" y2="175.20" stroke="#000" stroke-width="0.8"/>
<line x1="263.77" y1="179.20" x2="266.77" y2="179.20" stroke="#000" stroke-width="0.8"/>
<rect x="271.20" y="183.40" width="3.95" height="4.60" fill="#0000cd"/>
<rect x="271.20" y="183.10" width="3.95" height="0.30" fill="#ff0000"/>
<rect x="271.20" y="180.50" width="3.95" height="2.60" fill="#32cd32"/>
<rect x="271.20" y="179.30" width="3.95" height="1.20" fill="#ffd700"/>
<rect x="271.20" y="177.50" width="3.95" height="1.80" fill="#ff8c00"/>
<line x1="273.17" y1="177.50" x2="273.17" y2="177.20" stroke="#000" stroke-opacity="0.55" stroke-width="0.6"/>
<line x1="271.67" y1="177.20" x2="274.67" y2="177.20" stroke="#000" stroke-width="0.8"/>
<line x1="271.67" y1="179.00" x2="274.67" y2="179.00" stroke="#000" stroke-width="0.8"/>
<rect x="279.09" y="182.50" width="3.95" height="5.50" fill="#0000cd"/>
<rect x="279.09" y="182.20" width="3.95" height="0.30" fill="#ff0000"/>
<rect x="279.09" y="181.30" width="3.95" height="0.90" fill="#32cd32"/>
<rect x="279.09" y="179.50" width="3.95" height="1.80" fill="#ffd700"/>
<rect x="279.09" y="177.20" width="3.95" height="2.30" fill="#ff8c00"/>
<line x1="281.07" y1="177.20" x2="281.07" y2="177.00" stroke="#000" stroke-opacity="0.55" stroke-width="0.6"/>
<line x1="279.57" y1="177.00" x2="282.57" y2="177.00" stroke="#000" stroke-width="0.8"/>
<line x1="279.57" y1="179.00" x2="282.57" y2="179.00" stroke="#000" stroke-width="0.8"/>
<rect x="286.99" y="183.00" width="3.95" height="5.00" fill="#0000cd"/>
<rect x="286.99" y="182.50" width="3.95" height="0.50" fill="#ff0000"/>
<rect x="286.99" y="180.50" width="3.95" height="2.00" fill="#32cd32"/>
<rect x="286.99" y="178.80" width="3.95" height="1.70" fill="#ffd700"/>
<rect x="286.99" y="176.40" width="3.95" height="2.40" fill="#ff8c00"/>
<line x1="288.97" y1="176.40" x2="288.97" y2="175.20" stroke="#000" stroke-opacity="0.55" stroke-width="0.6"/>
<line x1="287.47" y1="175.20" x2="290.47" y2="175.20" stroke="#000" stroke-width="0.8"/>
<line x1="287.47" y1="178.50" x2="290.47" y2="178.50" stroke="#000" stroke-width="0.8"/>
<rect x="294.89" y="180.80" width="3.95" height="7.20" fill="#0000cd"/>
<rect x="294.89" y="180.40" width="3.95" height="0.40" fill="#ff0000"/>
<rect x="294.89" y="177.20" width="3.95" height="3.20" fill="#32cd32"/>
<rect x="294.89" y="175.50" width="3.95" height="1.70" fill="#ffd700"/>
<rect x="294.89" y="173.10" width="3.95" height="2.40" fill="#ff8c00"/>
<line x1="296.86" y1="173.10" x2="296.86" y2="167.40" stroke="#000" stroke-opacity="0.55" stroke-width="0.6"/>
<line x1="295.36" y1="167.40" x2="298.36" y2="167.40" stroke="#000" stroke-width="0.8"/>
<line x1="295.36" y1="176.00" x2="298.36" y2="176.00" stroke="#000" stroke-width="0.8"/>
<rect x="302.79" y="184.60" width="3.95" height="3.40" fill="#0000cd"/>
<rect x="302.79" y="184.30" width="3.95" height="0.30" fill="#ff0000"/>
<rect x="302.79" y="177.20" width="3.95" height="7.10" fill="#32cd32"/>
<rect x="302.79" y="174.40" width="3.95" height="2.80" fill="#ffd700"/>
<rect x="302.79" y="172.80" width="3.95" height="1.60" fill="#ff8c00"/>
<line x1="304.76" y1="172.80" x2="304.76" y2="170.30" stroke="#000" stroke-opacity="0.55" stroke-width="0.6"/>
<line x1="303.26" y1="170.30" x2="306.26" y2="170.30" stroke="#000" stroke-width="0.8"/>
<line x1="303.26" y1="174.40" x2="306.26" y2="174.40" stroke="#000" stroke-width="0.8"/>
<rect x="310.68" y="184.30" width="3.95" height="3.70" fill="#0000cd"/>
<rect x="310.68" y="184.00" width="3.95" height="0.30" fill="#ff0000"/>
<rect x="310.68" y="177.50" width="3.95" height="6.50" fill="#32cd32"/>
<rect x="310.68" y="173.60" width="3.95" height="3.90" fill="#ffd700"/>
<rect x="310.68" y="172.00" width="3.95" height="1.60" fill="#ff8c00"/>
<line x1="312.66" y1="172.00" x2="312.66" y2="170.30" stroke="#000" stroke-opacity="0.55" stroke-width="0.6"/>
<line x1="311.16" y1="170.30" x2="314.16" y2="170.30" stroke="#000" stroke-width="0.8"/>
<line x1="311.16" y1="174.00" x2="314.16" y2="174.00" stroke="#000" stroke-width="0.8"/>
<rect x="318.58" y="176.40" width="3.95" height="11.60" fill="#0000cd"/>
<rect x="318.58" y="175.90" width="3.95" height="0.50" fill="#ff0000"/>
<rect x="318.58" y="173.90" width="3.95" height="2.00" fill="#32cd32"/>
<rect x="318.58" y="171.50" width="3.95" height="2.40" fill="#ffd700"/>
<rect x="318.58" y="169.00" width="3.95" height="2.50" fill="#ff8c00"/>
<line x1="320.56" y1="169.00" x2="320.56" y2="167.40" stroke="#000" stroke-opacity="0.55" stroke-width="0.6"/>
<line x1="319.06" y1="167.40" x2="322.06" y2="167.40" stroke="#000" stroke-width="0.8"/>
<line x1="319.06" y1="171.50" x2="322.06" y2="171.50" stroke="#000" stroke-width="0.8"/>
<rect x="326.48" y="180.50" width="3.95" height="7.50" fill="#0000cd"/>
<rect x="326.48" y="179.70" width="3.95" height="0.80" fill="#ff0000"/>
<rect x="326.48" y="170.70" width="3.95" height="9.00" fill="#32cd32"/>
<rect x="326.48" y="167.40" width="3.95" height="3.30" fill="#ffd700"/>
<rect x="326.48" y="165.70" width="3.95" height="1.70" fill="#ff8c00"/>
<line x1="328.45" y1="165.70" x2="328.45" y2="162.50" stroke="#000" stroke-opacity="0.55" stroke-width="0.6"/>
<line x1="326.95" y1="162.50" x2="329.95" y2="162.50" stroke="#000" stroke-width="0.8"/>
<line x1="326.95" y1="167.40" x2="329.95" y2="167.40" stroke="#000" stroke-width="0.8"/>
<rect x="334.38" y="173.10" width="3.95" height="14.90" fill="#0000cd"/>
<rect x="334.38" y="171.50" width="3.95" height="1.60" fill="#ff0000"/>
<rect x="334.38" y="168.70" width="3.95" height="2.80" fill="#32cd32"/>
<rect x="334.38" y="165.70" width="3.95" height="3.00" fill="#ffd700"/>
<rect x="334.38" y="164.10" width="3.95" height="1.60" fill="#ff8c00"/>
<line x1="336.35" y1="164.10" x2="336.35" y2="162.50" stroke="#000" stroke-opacity="0.55" stroke-width="0.6"/>
<line x1="334.85" y1="162.50" x2="337.85" y2="162.50" stroke="#000" stroke-width="0.8"/>
<line x1="334.85" y1="165.70" x2="337.85" y2="165.70" stroke="#000" stroke-width="0.8"/>
<rect x="342.28" y="169.80" width="3.95" height="18.20" fill="#0000cd"/>
<rect x="342.28" y="169.00" width="3.95" height="0.80" fill="#ff0000"/>
<rect x="342.28" y="166.60" width="3.95" height="2.40" fill="#32cd32"/>
<rect x="342.28" y="164.90" width="3.95" height="1.70" fill="#ffd700"/>
<rect x="342.28" y="163.30" width="3.95" height="1.60" fill="#ff8c00"/>
<line x1="344.25" y1="163.30" x2="344.25" y2="160.00" stroke="#000" stroke-opacity="0.55" stroke-width="0.6"/>
<line x1="342.75" y1="160.00" x2="345.75" y2="160.00" stroke="#000" stroke-width="0.8"/>
<line x1="342.75" y1="165.50" x2="345.75" y2="165.50" stroke="#000" stroke-width="0.8"/>
<rect x="350.17" y="155.10" width="3.95" height="32.90" fill="#0000cd"/>
<rect x="350.17" y="154.40" width="3.95" height="0.70" fill="#ff0000"/>
<rect x="350.17" y="148.20" width="3.95" height="6.20" fill="#32cd32"/>
<rect x="350.17" y="134.60" width="3.95" height="13.60" fill="#ffd700"/>
<rect x="350.17" y="130.00" width="3.95" height="4.60" fill="#ff8c00"/>
<line x1="352.15" y1="130.00" x2="352.15" y2="125.60" stroke="#000" stroke-opacity="0.55" stroke-width="0.6"/>
<line x1="350.65" y1="125.60" x2="353.65" y2="125.60" stroke="#000" stroke-width="0.8"/>
<line x1="350.65" y1="134.60" x2="353.65" y2="134.60" stroke="#000" stroke-width="0.8"/>
<rect x="358.07" y="155.90" width="3.95" height="32.10" fill="#0000cd"/>
<rect x="358.07" y="155.40" width="3.95" height="0.50" fill="#ff0000"/>
<rect x="358.07" y="149.00" width="3.95" height="6.40" fill="#32cd32"/>
<rect x="358.07" y="132.10" width="3.95" height="16.90" fill="#ffd700"/>
<rect x="358.07" y="128.00" width="3.95" height="4.10" fill="#ff8c00"/>
<line x1="360.05" y1="128.00" x2="360.05" y2="124.30" stroke="#000" stroke-opacity="0.55" stroke-width="0.6"/>
<line x1="358.55" y1="124.30" x2="361.55" y2="124.30" stroke="#000" stroke-width="0.8"/>
<line x1="358.55" y1="132.10" x2="361.55" y2="132.10" stroke="#000" stroke-width="0.8"/>
<rect x="365.97" y="165.40" width="3.95" height="22.60" fill="#0000cd"/>
<rect x="365.97" y="162.50" width="3.95" height="2.90" fill="#ff0000"/>
<rect x="365.97" y="148.20" width="3.95" height="14.30" fill="#32cd32"/>
<rect x="365.97" y="135.40" width="3.95" height="12.80" fill="#ffd700"/>
<rect x="365.97" y="126.90" width="3.95" height="8.50" fill="#ff8c00"/>
<line x1="367.94" y1="126.90" x2="367.94" y2="118.70" stroke="#000" stroke-opacity="0.55" stroke-width="0.6"/>
<line x1="366.44" y1="118.70" x2="369.44" y2="118.70" stroke="#000" stroke-width="0.8"/>
<line x1="366.44" y1="135.40" x2="369.44" y2="135.40" stroke="#000" stroke-width="0.8"/>
<rect x="373.87" y="164.60" width="3.95" height="23.40" fill="#0000cd"/>
<rect x="373.87" y="161.10" width="3.95" height="3.50" fill="#ff0000"/>
<rect x="373.87" y="147.40" width="3.95" height="13.70" fill="#32cd32"/>
<rect x="373.87" y="133.00" width="3.95" height="14.40" fill="#ffd700"/>
<rect x="373.87" y="125.20" width="3.95" height="7.80" fill="#ff8c00"/>
<line x1="375.84" y1="125.20" x2="375.84" y2="116.20" stroke="#000" stroke-opacity="0.55" stroke-width="0.6"/>
<line x1="374.34" y1="116.20" x2="377.34" y2="116.20" stroke="#000" stroke-width="0.8"/>
<line x1="374.34" y1="133.00" x2="377.34" y2="133.00" stroke="#000" stroke-width="0.8"/>
<rect x="381.76" y="118.70" width="3.95" height="69.30" fill="#0000cd"/>
<rect x="381.76" y="118.20" width="3.95" height="0.50" fill="#ff0000"/>
<rect x="381.76" y="110.80" width="3.95" height="7.40" fill="#32cd32"/>
<rect x="381.76" y="98.50" width="3.95" height="12.30" fill="#ffd700"/>
<rect x="381.76" y="92.80" width="3.95" height="5.70" fill="#ff8c00"/>
<line x1="383.74" y1="92.80" x2="383.74" y2="78.00" stroke="#000" stroke-opacity="0.55" stroke-width="0.6"/>
<line x1="382.24" y1="78.00" x2="385.24" y2="78.00" stroke="#000" stroke-width="0.8"/>
<line x1="382.24" y1="107.50" x2="385.24" y2="107.50" stroke="#000" stroke-width="0.8"/>
<rect x="397.56" y="180.50" width="3.95" height="7.50" fill="#0000cd"/>
<rect x="397.56" y="180.00" width="3.95" height="0.50" fill="#ff0000"/>
<rect x="397.56" y="175.60" width="3.95" height="4.40" fill="#32cd32"/>
<rect x="397.56" y="173.60" width="3.95" height="2.00" fill="#ffd700"/>
<rect x="397.56" y="172.00" width="3.95" height="1.60" fill="#ff8c00"/>
<line x1="399.53" y1="172.00" x2="399.53" y2="169.30" stroke="#000" stroke-opacity="0.55" stroke-width="0.6"/>
<line x1="398.03" y1="169.30" x2="401.03" y2="169.30" stroke="#000" stroke-width="0.8"/>
<line x1="398.03" y1="173.60" x2="401.03" y2="173.60" stroke="#000" stroke-width="0.8"/>
<rect x="405.46" y="152.30" width="3.95" height="35.70" fill="#0000cd"/>
<rect x="405.46" y="150.70" width="3.95" height="1.60" fill="#ff0000"/>
<rect x="405.46" y="139.50" width="3.95" height="11.20" fill="#32cd32"/>
<rect x="405.46" y="124.80" width="3.95" height="14.70" fill="#ffd700"/>
<rect x="405.46" y="120.30" width="3.95" height="4.50" fill="#ff8c00"/>
<line x1="407.43" y1="120.30" x2="407.43" y2="112.50" stroke="#000" stroke-opacity="0.55" stroke-width="0.6"/>
<line x1="405.93" y1="112.50" x2="408.93" y2="112.50" stroke="#000" stroke-width="0.8"/>
<line x1="405.93" y1="127.00" x2="408.93" y2="127.00" stroke="#000" stroke-width="0.8"/>
<rect x="413.36" y="171.50" width="3.95" height="16.50" fill="#0000cd"/>
<rect x="413.36" y="170.70" width="3.95" height="0.80" fill="#ff0000"/>
<rect x="413.36" y="164.90" width="3.95" height="5.80" fill="#32cd32"/>
<rect x="413.36" y="158.40" width="3.95" height="6.50" fill="#ffd700"/>
<rect x="413.36" y="156.20" width="3.95" height="2.20" fill="#ff8c00"/>
<line x1="415.33" y1="156.20" x2="415.33" y2="152.30" stroke="#000" stroke-opacity="0.55" stroke-width="0.6"/>
<line x1="413.83" y1="152.30" x2="416.83" y2="152.30" stroke="#000" stroke-width="0.8"/>
<line x1="413.83" y1="158.40" x2="416.83" y2="158.40" stroke="#000" stroke-width="0.8"/>
<rect x="421.25" y="157.50" width="3.95" height="30.50" fill="#bf00bf"/>
<line x1="423.23" y1="153.90" x2="423.23" y2="161.10" stroke="#808080" stroke-opacity="0.55" stroke-width="0.8"/>
<line x1="421.73" y1="153.90" x2="424.73" y2="153.90" stroke="#000" stroke-width="0.8"/>
<line x1="421.73" y1="161.10" x2="424.73" y2="161.10" stroke="#000" stroke-width="0.8"/>
<line x1="256.00" y1="150.30" x2="433.10" y2="150.30" stroke="#cc33cc" stroke-opacity="0.7" stroke-width="1.1" stroke-dasharray="1 1"/>
<line x1="256.00" y1="165.10" x2="433.10" y2="165.10" stroke="#cc33cc" stroke-opacity="0.7" stroke-width="1.1" stroke-dasharray="1 1"/>
<line x1="255.40" y1="157.50" x2="433.10" y2="157.50" stroke="#cc00cc" stroke-opacity="0.9" stroke-width="1.0"/>
<line x1="391.64" y1="12.00" x2="391.64" y2="188.00" stroke="#333" stroke-width="1.1"/>
<path d="M265.27 35.90 L273.17 30.80 L281.07 34.60 L288.97 47.00 L296.86 65.70 L304.76 51.80 L312.66 51.80 L320.56 31.50 L328.45 45.40 L336.35 31.00 L344.25 25.10 L352.15 41.10 L360.05 44.40 L367.94 53.10 L375.84 48.50 L383.74 80.20" fill="none" stroke="#1e90ff" stroke-width="1.15" stroke-dasharray="2.6 1.3"/>
<path d="M399.53 40.80 L407.43 53.40 L415.33 44.80" fill="none" stroke="#1e90ff" stroke-width="1.15" stroke-dasharray="2.6 1.3"/>
<circle cx="265.27" cy="35.90" r="1.35" fill="#1e90ff"/>
<circle cx="273.17" cy="30.80" r="1.35" fill="#1e90ff"/>
<circle cx="281.07" cy="34.60" r="1.35" fill="#1e90ff"/>
<circle cx="288.97" cy="47.00" r="1.35" fill="#1e90ff"/>
<circle cx="296.86" cy="65.70" r="1.35" fill="#1e90ff"/>
<circle cx="304.76" cy="51.80" r="1.35" fill="#1e90ff"/>
<circle cx="312.66" cy="51.80" r="1.35" fill="#1e90ff"/>
<circle cx="320.56" cy="31.50" r="1.35" fill="#1e90ff"/>
<circle cx="328.45" cy="45.40" r="1.35" fill="#1e90ff"/>
<circle cx="336.35" cy="31.00" r="1.35" fill="#1e90ff"/>
<circle cx="344.25" cy="25.10" r="1.35" fill="#1e90ff"/>
<circle cx="352.15" cy="41.10" r="1.35" fill="#1e90ff"/>
<circle cx="360.05" cy="44.40" r="1.35" fill="#1e90ff"/>
<circle cx="367.94" cy="53.10" r="1.35" fill="#1e90ff"/>
<circle cx="375.84" cy="48.50" r="1.35" fill="#1e90ff"/>
<circle cx="383.74" cy="80.20" r="1.35" fill="#1e90ff"/>
<circle cx="399.53" cy="40.80" r="1.35" fill="#1e90ff"/>
<circle cx="407.43" cy="53.40" r="1.35" fill="#1e90ff"/>
<circle cx="415.33" cy="44.80" r="1.35" fill="#1e90ff"/>
<path d="M265.27 131.30 L273.17 133.00 L281.07 134.10 L288.97 149.30 L296.86 139.00 L304.76 131.50 L312.66 131.50 L320.56 135.40 L328.45 134.30 L336.35 132.10 L344.25 117.40 L352.15 109.70 L360.05 98.20 L367.94 97.40 L375.84 102.30 L383.74 87.00" fill="none" stroke="#ff0000" stroke-width="1.15" stroke-dasharray="2.6 1.3"/>
<path d="M399.53 133.40 L407.43 99.30 L415.33 117.40" fill="none" stroke="#ff0000" stroke-width="1.15" stroke-dasharray="2.6 1.3"/>
<circle cx="265.27" cy="131.30" r="1.35" fill="#ff0000"/>
<circle cx="273.17" cy="133.00" r="1.35" fill="#ff0000"/>
<circle cx="281.07" cy="134.10" r="1.35" fill="#ff0000"/>
<circle cx="288.97" cy="149.30" r="1.35" fill="#ff0000"/>
<circle cx="296.86" cy="139.00" r="1.35" fill="#ff0000"/>
<circle cx="304.76" cy="131.50" r="1.35" fill="#ff0000"/>
<circle cx="312.66" cy="131.50" r="1.35" fill="#ff0000"/>
<circle cx="320.56" cy="135.40" r="1.35" fill="#ff0000"/>
<circle cx="328.45" cy="134.30" r="1.35" fill="#ff0000"/>
<circle cx="336.35" cy="132.10" r="1.35" fill="#ff0000"/>
<circle cx="344.25" cy="117.40" r="1.35" fill="#ff0000"/>
<circle cx="352.15" cy="109.70" r="1.35" fill="#ff0000"/>
<circle cx="360.05" cy="98.20" r="1.35" fill="#ff0000"/>
<circle cx="367.94" cy="97.40" r="1.35" fill="#ff0000"/>
<circle cx="375.84" cy="102.30" r="1.35" fill="#ff0000"/>
<circle cx="383.74" cy="87.00" r="1.35" fill="#ff0000"/>
<circle cx="399.53" cy="133.40" r="1.35" fill="#ff0000"/>
<circle cx="407.43" cy="99.30" r="1.35" fill="#ff0000"/>
<circle cx="415.33" cy="117.40" r="1.35" fill="#ff0000"/>
<path d="M265.27 92.50 L273.17 85.70 L281.07 88.70 L288.97 85.70 L296.86 114.30 L304.76 108.40 L312.66 108.40 L320.56 84.30 L328.45 99.00 L336.35 86.40 L344.25 95.40 L352.15 119.00 L360.05 134.30 L367.94 143.60 L375.84 134.30 L383.74 180.50" fill="none" stroke="#8a2be2" stroke-width="1.15" stroke-dasharray="2.6 1.3"/>
<path d="M399.53 95.20 L407.43 142.00 L415.33 118.50" fill="none" stroke="#8a2be2" stroke-width="1.15" stroke-dasharray="2.6 1.3"/>
<circle cx="265.27" cy="92.50" r="1.35" fill="#8a2be2"/>
<circle cx="273.17" cy="85.70" r="1.35" fill="#8a2be2"/>
<circle cx="281.07" cy="88.70" r="1.35" fill="#8a2be2"/>
<circle cx="288.97" cy="85.70" r="1.35" fill="#8a2be2"/>
<circle cx="296.86" cy="114.30" r="1.35" fill="#8a2be2"/>
<circle cx="304.76" cy="108.40" r="1.35" fill="#8a2be2"/>
<circle cx="312.66" cy="108.40" r="1.35" fill="#8a2be2"/>
<circle cx="320.56" cy="84.30" r="1.35" fill="#8a2be2"/>
<circle cx="328.45" cy="99.00" r="1.35" fill="#8a2be2"/>
<circle cx="336.35" cy="86.40" r="1.35" fill="#8a2be2"/>
<circle cx="344.25" cy="95.40" r="1.35" fill="#8a2be2"/>
<circle cx="352.15" cy="119.00" r="1.35" fill="#8a2be2"/>
<circle cx="360.05" cy="134.30" r="1.35" fill="#8a2be2"/>
<circle cx="367.94" cy="143.60" r="1.35" fill="#8a2be2"/>
<circle cx="375.84" cy="134.30" r="1.35" fill="#8a2be2"/>
<circle cx="383.74" cy="180.50" r="1.35" fill="#8a2be2"/>
<circle cx="399.53" cy="95.20" r="1.35" fill="#8a2be2"/>
<circle cx="407.43" cy="142.00" r="1.35" fill="#8a2be2"/>
<circle cx="415.33" cy="118.50" r="1.35" fill="#8a2be2"/>
<rect x="255.40" y="12.00" width="177.70" height="176.00" fill="none" stroke="#000" stroke-width="0.8"/>
<text x="344.25" y="5.80" font-size="6.49" font-weight="bold" text-anchor="middle" fill="#000" stroke="#000" stroke-width="0.2" textLength="53.03" lengthAdjust="spacingAndGlyphs">b) Summer (JJA)</text>
<text x="234.36" y="100.00" font-size="6.49" font-weight="bold" text-anchor="middle" fill="#000" stroke="#000" stroke-width="0.2" textLength="14.48" lengthAdjust="spacingAndGlyphs" transform="rotate(-90 234.36 100.00)">AOD</text>
<text x="453.60" y="100.00" font-size="6.49" font-weight="bold" text-anchor="middle" fill="#1e90ff" stroke="#1e90ff" stroke-width="0.2" textLength="76.67" lengthAdjust="spacingAndGlyphs" transform="rotate(-90 453.60 100.00)">Precipitation (mm/day)</text>
<text x="344.25" y="252.80" font-size="6.49" font-weight="bold" text-anchor="middle" fill="#000" stroke="#000" stroke-width="0.2" textLength="23.68" lengthAdjust="spacingAndGlyphs">Models</text>
<text x="264.07" y="194.70" font-size="6.21" text-anchor="end" fill="#000" stroke="#000" stroke-width="0.2" textLength="21.26" lengthAdjust="spacingAndGlyphs" transform="rotate(-70 264.07 194.70)">MIROC6</text>
<text x="271.97" y="194.70" font-size="6.21" text-anchor="end" fill="#000" stroke="#000" stroke-width="0.2" textLength="38.13" lengthAdjust="spacingAndGlyphs" transform="rotate(-70 271.97 194.70)">CNRM-ESM2-1</text>
<text x="279.87" y="194.70" font-size="6.21" text-anchor="end" fill="#000" stroke="#000" stroke-width="0.2" textLength="36.94" lengthAdjust="spacingAndGlyphs" transform="rotate(-70 279.87 194.70)">IPSL-CM6A-LR</text>
<text x="287.77" y="194.70" font-size="6.21" text-anchor="end" fill="#000" stroke="#000" stroke-width="0.2" textLength="47.64" lengthAdjust="spacingAndGlyphs" transform="rotate(-70 287.77 194.70)">MPI-ESM-1-2-HAM</text>
<text x="295.66" y="194.70" font-size="6.21" text-anchor="end" fill="#000" stroke="#000" stroke-width="0.2" textLength="52.97" lengthAdjust="spacingAndGlyphs" transform="rotate(-70 295.66 194.70)">CESM2-WACCM-FV2</text>
<text x="303.56" y="194.70" font-size="6.21" text-anchor="end" fill="#000" stroke="#000" stroke-width="0.2" textLength="33.80" lengthAdjust="spacingAndGlyphs" transform="rotate(-70 303.56 194.70)">NorESM2-LM</text>
<text x="311.46" y="194.70" font-size="6.21" text-anchor="end" fill="#000" stroke="#000" stroke-width="0.2" textLength="35.43" lengthAdjust="spacingAndGlyphs" transform="rotate(-70 311.46 194.70)">NorESM2-MM</text>
<text x="319.36" y="194.70" font-size="6.21" text-anchor="end" fill="#000" stroke="#000" stroke-width="0.2" textLength="51.63" lengthAdjust="spacingAndGlyphs" transform="rotate(-70 319.36 194.70)">IPSL-CM6A-LR-INCA</text>
<text x="327.25" y="194.70" font-size="6.21" text-anchor="end" fill="#000" stroke="#000" stroke-width="0.2" textLength="53.30" lengthAdjust="spacingAndGlyphs" transform="rotate(-70 327.25 194.70)">EC-Earth3-AerChem</text>
<text x="335.15" y="194.70" font-size="6.21" text-anchor="end" fill="#000" stroke="#000" stroke-width="0.2" textLength="31.97" lengthAdjust="spacingAndGlyphs" transform="rotate(-70 335.15 194.70)">MRI-ESM2-0</text>
<text x="343.05" y="194.70" font-size="6.21" text-anchor="end" fill="#000" stroke="#000" stroke-width="0.2" textLength="46.74" lengthAdjust="spacingAndGlyphs" transform="rotate(-70 343.05 194.70)">IPSL-CM5A2-INCA</text>
<text x="350.95" y="194.70" font-size="6.21" text-anchor="end" fill="#000" stroke="#000" stroke-width="0.2" textLength="32.52" lengthAdjust="spacingAndGlyphs" transform="rotate(-70 350.95 194.70)">GISS-E2-1-H</text>
<text x="358.85" y="194.70" font-size="6.21" text-anchor="end" fill="#000" stroke="#000" stroke-width="0.2" textLength="32.84" lengthAdjust="spacingAndGlyphs" transform="rotate(-70 358.85 194.70)">GISS-E2-1-G</text>
<text x="366.74" y="194.70" font-size="6.21" text-anchor="end" fill="#000" stroke="#000" stroke-width="0.2" textLength="29.22" lengthAdjust="spacingAndGlyphs" transform="rotate(-70 366.74 194.70)">INM-CM5-0</text>
<text x="374.64" y="194.70" font-size="6.21" text-anchor="end" fill="#000" stroke="#000" stroke-width="0.2" textLength="29.22" lengthAdjust="spacingAndGlyphs" transform="rotate(-70 374.64 194.70)">INM-CM4-8</text>
<text x="382.54" y="194.70" font-size="6.21" text-anchor="end" fill="#000" stroke="#000" stroke-width="0.2" textLength="32.84" lengthAdjust="spacingAndGlyphs" transform="rotate(-70 382.54 194.70)">GISS-E2-2-G</text>
<text x="398.33" y="194.70" font-size="6.21" text-anchor="end" fill="#000" stroke="#000" stroke-width="0.2" textLength="43.86" lengthAdjust="spacingAndGlyphs" transform="rotate(-70 398.33 194.70)">MMM (Low AOD)</text>
<text x="406.23" y="194.70" font-size="6.21" text-anchor="end" fill="#000" stroke="#000" stroke-width="0.2" textLength="45.62" lengthAdjust="spacingAndGlyphs" transform="rotate(-70 406.23 194.70)">MMM (High AOD)</text>
<text x="414.13" y="194.70" font-size="6.21" text-anchor="end" fill="#000" stroke="#000" stroke-width="0.2" textLength="26.36" lengthAdjust="spacingAndGlyphs" transform="rotate(-70 414.13 194.70)">MMM (All)</text>
<text x="422.03" y="194.70" font-size="6.21" text-anchor="end" fill="#000" stroke="#000" stroke-width="0.2" textLength="31.87" lengthAdjust="spacingAndGlyphs" transform="rotate(-70 422.03 194.70)">AEROSNOW</text>
<path d="M495.26 188.00v2.6 M495.26 12.00v-1.8 M503.15 188.00v2.6 M503.15 12.00v-1.8 M511.04 188.00v2.6 M511.04 12.00v-1.8 M518.93 188.00v2.6 M518.93 12.00v-1.8 M526.82 188.00v2.6 M526.82 12.00v-1.8 M534.71 188.00v2.6 M534.71 12.00v-1.8 M542.59 188.00v2.6 M542.59 12.00v-1.8 M550.48 188.00v2.6 M550.48 12.00v-1.8 M558.37 188.00v2.6 M558.37 12.00v-1.8 M566.26 188.00v2.6 M566.26 12.00v-1.8 M574.15 188.00v2.6 M574.15 12.00v-1.8 M582.04 188.00v2.6 M582.04 12.00v-1.8 M589.93 188.00v2.6 M589.93 12.00v-1.8 M597.82 188.00v2.6 M597.82 12.00v-1.8 M605.71 188.00v2.6 M605.71 12.00v-1.8 M613.59 188.00v2.6 M613.59 12.00v-1.8 M621.48 188.00v2.6 M621.48 12.00v-1.8 M629.37 188.00v2.6 M629.37 12.00v-1.8 M637.26 188.00v2.6 M637.26 12.00v-1.8 M645.15 188.00v2.6 M645.15 12.00v-1.8 M653.04 188.00v2.6 M653.04 12.00v-1.8 M485.40 188.00h-2.6 M485.40 168.44h-2.6 M485.40 148.89h-2.6 M485.40 129.33h-2.6 M485.40 109.78h-2.6 M485.40 90.22h-2.6 M485.40 70.67h-2.6 M485.40 51.11h-2.6 M485.40 31.56h-2.6 M485.40 12.00h-2.6 M485.40 178.22h-1.5 M485.40 158.67h-1.5 M485.40 139.11h-1.5 M485.40 119.56h-1.5 M485.40 100.00h-1.5 M485.40 80.44h-1.5 M485.40 60.89h-1.5 M485.40 41.33h-1.5 M485.40 21.78h-1.5" stroke="#000" stroke-width="0.6" fill="none"/>
<path d="M662.90 188.00h2.6 M662.90 162.86h2.6 M662.90 137.71h2.6 M662.90 112.57h2.6 M662.90 87.43h2.6 M662.90 62.29h2.6 M662.90 37.14h2.6 M662.90 12.00h2.6 M662.90 181.71h1.5 M662.90 175.43h1.5 M662.90 169.14h1.5 M662.90 156.57h1.5 M662.90 150.29h1.5 M662.90 144.00h1.5 M662.90 131.43h1.5 M662.90 125.14h1.5 M662.90 118.86h1.5 M662.90 106.29h1.5 M662.90 100.00h1.5 M662.90 93.71h1.5 M662.90 81.14h1.5 M662.90 74.86h1.5 M662.90 68.57h1.5 M662.90 56.00h1.5 M662.90 49.71h1.5 M662.90 43.43h1.5 M662.90 30.86h1.5 M662.90 24.57h1.5 M662.90 18.29h1.5" stroke="#1e90ff" stroke-width="0.6" fill="none"/>
<text x="480.90" y="190.10" font-size="6.49" text-anchor="end" fill="#000" stroke="#000" stroke-width="0.2" textLength="13.14" lengthAdjust="spacingAndGlyphs">0.00</text>
<text x="480.90" y="170.54" font-size="6.49" text-anchor="end" fill="#000" stroke="#000" stroke-width="0.2" textLength="13.14" lengthAdjust="spacingAndGlyphs">0.05</text>
<text x="480.90" y="150.99" font-size="6.49" text-anchor="end" fill="#000" stroke="#000" stroke-width="0.2" textLength="13.14" lengthAdjust="spacingAndGlyphs">0.10</text>
<text x="480.90" y="131.43" font-size="6.49" text-anchor="end" fill="#000" stroke="#000" stroke-width="0.2" textLength="13.14" lengthAdjust="spacingAndGlyphs">0.15</text>
<text x="480.90" y="111.88" font-size="6.49" text-anchor="end" fill="#000" stroke="#000" stroke-width="0.2" textLength="13.14" lengthAdjust="spacingAndGlyphs">0.20</text>
<text x="480.90" y="92.32" font-size="6.49" text-anchor="end" fill="#000" stroke="#000" stroke-width="0.2" textLength="13.14" lengthAdjust="spacingAndGlyphs">0.25</text>
<text x="480.90" y="72.77" font-size="6.49" text-anchor="end" fill="#000" stroke="#000" stroke-width="0.2" textLength="13.14" lengthAdjust="spacingAndGlyphs">0.30</text>
<text x="480.90" y="53.21" font-size="6.49" text-anchor="end" fill="#000" stroke="#000" stroke-width="0.2" textLength="13.14" lengthAdjust="spacingAndGlyphs">0.35</text>
<text x="480.90" y="33.66" font-size="6.49" text-anchor="end" fill="#000" stroke="#000" stroke-width="0.2" textLength="13.14" lengthAdjust="spacingAndGlyphs">0.40</text>
<text x="480.90" y="14.10" font-size="6.49" text-anchor="end" fill="#000" stroke="#000" stroke-width="0.2" textLength="13.14" lengthAdjust="spacingAndGlyphs">0.45</text>
<text x="667.10" y="190.90" font-size="6.49" text-anchor="start" fill="#1e90ff" stroke="#1e90ff" stroke-width="0.2" textLength="9.38" lengthAdjust="spacingAndGlyphs">0.0</text>
<text x="667.10" y="165.76" font-size="6.49" text-anchor="start" fill="#1e90ff" stroke="#1e90ff" stroke-width="0.2" textLength="9.38" lengthAdjust="spacingAndGlyphs">0.2</text>
<text x="667.10" y="140.61" font-size="6.49" text-anchor="start" fill="#1e90ff" stroke="#1e90ff" stroke-width="0.2" textLength="9.38" lengthAdjust="spacingAndGlyphs">0.4</text>
<text x="667.10" y="115.47" font-size="6.49" text-anchor="start" fill="#1e90ff" stroke="#1e90ff" stroke-width="0.2" textLength="9.38" lengthAdjust="spacingAndGlyphs">0.6</text>
<text x="667.10" y="90.33" font-size="6.49" text-anchor="start" fill="#1e90ff" stroke="#1e90ff" stroke-width="0.2" textLength="9.38" lengthAdjust="spacingAndGlyphs">0.8</text>
<text x="667.10" y="65.19" font-size="6.49" text-anchor="start" fill="#1e90ff" stroke="#1e90ff" stroke-width="0.2" textLength="9.38" lengthAdjust="spacingAndGlyphs">1.0</text>
<text x="667.10" y="40.04" font-size="6.49" text-anchor="start" fill="#1e90ff" stroke="#1e90ff" stroke-width="0.2" textLength="9.38" lengthAdjust="spacingAndGlyphs">1.2</text>
<text x="667.10" y="14.90" font-size="6.49" text-anchor="start" fill="#1e90ff" stroke="#1e90ff" stroke-width="0.2" textLength="9.38" lengthAdjust="spacingAndGlyphs">1.4</text>
<rect x="493.29" y="185.40" width="3.94" height="2.60" fill="#0000cd"/>
<rect x="493.29" y="185.10" width="3.94" height="0.30" fill="#ff0000"/>
<rect x="493.29" y="182.80" width="3.94" height="2.30" fill="#32cd32"/>
<rect x="493.29" y="181.50" width="3.94" height="1.30" fill="#ffd700"/>
<rect x="493.29" y="180.50" width="3.94" height="1.00" fill="#ff8c00"/>
<line x1="495.26" y1="180.50" x2="495.26" y2="177.20" stroke="#000" stroke-opacity="0.55" stroke-width="0.6"/>
<line x1="493.76" y1="177.20" x2="496.76" y2="177.20" stroke="#000" stroke-width="0.8"/>
<line x1="493.76" y1="182.00" x2="496.76" y2="182.00" stroke="#000" stroke-width="0.8"/>
<rect x="501.18" y="183.80" width="3.94" height="4.20" fill="#0000cd"/>
<rect x="501.18" y="183.50" width="3.94" height="0.30" fill="#ff0000"/>
<rect x="501.18" y="182.20" width="3.94" height="1.30" fill="#32cd32"/>
<rect x="501.18" y="181.30" width="3.94" height="0.90" fill="#ffd700"/>
<rect x="501.18" y="180.20" width="3.94" height="1.10" fill="#ff8c00"/>
<line x1="503.15" y1="180.20" x2="503.15" y2="177.70" stroke="#000" stroke-opacity="0.55" stroke-width="0.6"/>
<line x1="501.65" y1="177.70" x2="504.65" y2="177.70" stroke="#000" stroke-width="0.8"/>
<line x1="501.65" y1="181.50" x2="504.65" y2="181.50" stroke="#000" stroke-width="0.8"/>
<rect x="509.07" y="183.40" width="3.94" height="4.60" fill="#0000cd"/>
<rect x="509.07" y="183.10" width="3.94" height="0.30" fill="#ff0000"/>
<rect x="509.07" y="181.80" width="3.94" height="1.30" fill="#32cd32"/>
<rect x="509.07" y="180.50" width="3.94" height="1.30" fill="#ffd700"/>
<rect x="509.07" y="178.00" width="3.94" height="2.50" fill="#ff8c00"/>
<line x1="511.04" y1="178.00" x2="511.04" y2="177.70" stroke="#000" stroke-opacity="0.55" stroke-width="0.6"/>
<line x1="509.54" y1="177.70" x2="512.54" y2="177.70" stroke="#000" stroke-width="0.8"/>
<line x1="509.54" y1="180.00" x2="512.54" y2="180.00" stroke="#000" stroke-width="0.8"/>
<rect x="516.96" y="181.80" width="3.94" height="6.20" fill="#0000cd"/>
<rect x="516.96" y="180.80" width="3.94" height="1.00" fill="#ff0000"/>
<rect x="516.96" y="178.00" width="3.94" height="2.80" fill="#32cd32"/>
<rect x="516.96" y="175.60" width="3.94" height="2.40" fill="#ffd700"/>
<rect x="516.96" y="173.90" width="3.94" height="1.70" fill="#ff8c00"/>
<line x1="518.93" y1="173.90" x2="518.93" y2="169.00" stroke="#000" stroke-opacity="0.55" stroke-width="0.6"/>
<line x1="517.43" y1="169.00" x2="520.43" y2="169.00" stroke="#000" stroke-width="0.8"/>
<line x1="517.43" y1="176.00" x2="520.43" y2="176.00" stroke="#000" stroke-width="0.8"/>
<rect x="524.84" y="183.00" width="3.94" height="5.00" fill="#0000cd"/>
<rect x="524.84" y="182.20" width="3.94" height="0.80" fill="#ff0000"/>
<rect x="524.84" y="180.50" width="3.94" height="1.70" fill="#32cd32"/>
<rect x="524.84" y="178.00" width="3.94" height="2.50" fill="#ffd700"/>
<rect x="524.84" y="173.10" width="3.94" height="4.90" fill="#ff8c00"/>
<line x1="526.82" y1="173.10" x2="526.82" y2="168.20" stroke="#000" stroke-opacity="0.55" stroke-width="0.6"/>
<line x1="525.32" y1="168.20" x2="528.32" y2="168.20" stroke="#000" stroke-width="0.8"/>
<line x1="525.32" y1="178.00" x2="528.32" y2="178.00" stroke="#000" stroke-width="0.8"/>
<rect x="532.73" y="185.10" width="3.94" height="2.90" fill="#0000cd"/>
<rect x="532.73" y="184.60" width="3.94" height="0.50" fill="#ff0000"/>
<rect x="532.73" y="178.90" width="3.94" height="5.70" fill="#32cd32"/>
<rect x="532.73" y="175.60" width="3.94" height="3.30" fill="#ffd700"/>
<rect x="532.73" y="173.10" width="3.94" height="2.50" fill="#ff8c00"/>
<line x1="534.71" y1="173.10" x2="534.71" y2="170.30" stroke="#000" stroke-opacity="0.55" stroke-width="0.6"/>
<line x1="533.21" y1="170.30" x2="536.21" y2="170.30" stroke="#000" stroke-width="0.8"/>
<line x1="533.21" y1="175.60" x2="536.21" y2="175.60" stroke="#000" stroke-width="0.8"/>
<rect x="540.62" y="184.60" width="3.94" height="3.40" fill="#0000cd"/>
<rect x="540.62" y="184.20" width="3.94" height="0.40" fill="#ff0000"/>
<rect x="540.62" y="178.90" width="3.94" height="5.30" fill="#32cd32"/>
<rect x="540.62" y="175.60" width="3.94" height="3.30" fill="#ffd700"/>
<rect x="540.62" y="172.30" width="3.94" height="3.30" fill="#ff8c00"/>
<line x1="542.59" y1="172.30" x2="542.59" y2="169.00" stroke="#000" stroke-opacity="0.55" stroke-width="0.6"/>
<line x1="541.09" y1="169.00" x2="544.09" y2="169.00" stroke="#000" stroke-width="0.8"/>
<line x1="541.09" y1="175.60" x2="544.09" y2="175.60" stroke="#000" stroke-width="0.8"/>
<rect x="548.51" y="178.00" width="3.94" height="10.00" fill="#0000cd"/>
<rect x="548.51" y="177.20" width="3.94" height="0.80" fill="#ff0000"/>
<rect x="548.51" y="175.90" width="3.94" height="1.30" fill="#32cd32"/>
<rect x="548.51" y="173.90" width="3.94" height="2.00" fill="#ffd700"/>
<rect x="548.51" y="171.10" width="3.94" height="2.80" fill="#ff8c00"/>
<line x1="550.48" y1="171.10" x2="550.48" y2="168.20" stroke="#000" stroke-opacity="0.55" stroke-width="0.6"/>
<line x1="548.98" y1="168.20" x2="551.98" y2="168.20" stroke="#000" stroke-width="0.8"/>
<line x1="548.98" y1="174.00" x2="551.98" y2="174.00" stroke="#000" stroke-width="0.8"/>
<rect x="556.40" y="170.70" width="3.94" height="17.30" fill="#0000cd"/>
<rect x="556.40" y="169.90" width="3.94" height="0.80" fill="#ff0000"/>
<rect x="556.40" y="167.00" width="3.94" height="2.90" fill="#32cd32"/>
<rect x="556.40" y="165.70" width="3.94" height="1.30" fill="#ffd700"/>
<rect x="556.40" y="164.90" width="3.94" height="0.80" fill="#ff8c00"/>
<line x1="558.37" y1="164.90" x2="558.37" y2="161.60" stroke="#000" stroke-opacity="0.55" stroke-width="0.6"/>
<line x1="556.87" y1="161.60" x2="559.87" y2="161.60" stroke="#000" stroke-width="0.8"/>
<line x1="556.87" y1="166.00" x2="559.87" y2="166.00" stroke="#000" stroke-width="0.8"/>
<rect x="564.29" y="180.50" width="3.94" height="7.50" fill="#0000cd"/>
<rect x="564.29" y="179.70" width="3.94" height="0.80" fill="#ff0000"/>
<rect x="564.29" y="172.30" width="3.94" height="7.40" fill="#32cd32"/>
<rect x="564.29" y="169.00" width="3.94" height="3.30" fill="#ffd700"/>
<rect x="564.29" y="164.90" width="3.94" height="4.10" fill="#ff8c00"/>
<line x1="566.26" y1="164.90" x2="566.26" y2="160.00" stroke="#000" stroke-opacity="0.55" stroke-width="0.6"/>
<line x1="564.76" y1="160.00" x2="567.76" y2="160.00" stroke="#000" stroke-width="0.8"/>
<line x1="564.76" y1="169.00" x2="567.76" y2="169.00" stroke="#000" stroke-width="0.8"/>
<rect x="572.18" y="172.80" width="3.94" height="15.20" fill="#0000cd"/>
<rect x="572.18" y="171.50" width="3.94" height="1.30" fill="#ff0000"/>
<rect x="572.18" y="169.00" width="3.94" height="2.50" fill="#32cd32"/>
<rect x="572.18" y="166.60" width="3.94" height="2.40" fill="#ffd700"/>
<rect x="572.18" y="164.10" width="3.94" height="2.50" fill="#ff8c00"/>
<line x1="574.15" y1="164.10" x2="574.15" y2="162.50" stroke="#000" stroke-opacity="0.55" stroke-width="0.6"/>
<line x1="572.65" y1="162.50" x2="575.65" y2="162.50" stroke="#000" stroke-width="0.8"/>
<line x1="572.65" y1="166.60" x2="575.65" y2="166.60" stroke="#000" stroke-width="0.8"/>
<rect x="580.07" y="146.90" width="3.94" height="41.10" fill="#0000cd"/>
<rect x="580.07" y="146.20" width="3.94" height="0.70" fill="#ff0000"/>
<rect x="580.07" y="141.10" width="3.94" height="5.10" fill="#32cd32"/>
<rect x="580.07" y="122.80" width="3.94" height="18.30" fill="#ffd700"/>
<rect x="580.07" y="119.00" width="3.94" height="3.80" fill="#ff8c00"/>
<line x1="582.04" y1="119.00" x2="582.04" y2="107.50" stroke="#000" stroke-opacity="0.55" stroke-width="0.6"/>
<line x1="580.54" y1="107.50" x2="583.54" y2="107.50" stroke="#000" stroke-width="0.8"/>
<line x1="580.54" y1="131.30" x2="583.54" y2="131.30" stroke="#000" stroke-width="0.8"/>
<rect x="587.96" y="144.10" width="3.94" height="43.90" fill="#0000cd"/>
<rect x="587.96" y="143.60" width="3.94" height="0.50" fill="#ff0000"/>
<rect x="587.96" y="138.20" width="3.94" height="5.40" fill="#32cd32"/>
<rect x="587.96" y="120.70" width="3.94" height="17.50" fill="#ffd700"/>
<rect x="587.96" y="117.40" width="3.94" height="3.30" fill="#ff8c00"/>
<line x1="589.93" y1="117.40" x2="589.93" y2="101.30" stroke="#000" stroke-opacity="0.55" stroke-width="0.6"/>
<line x1="588.43" y1="101.30" x2="591.43" y2="101.30" stroke="#000" stroke-width="0.8"/>
<line x1="588.43" y1="134.60" x2="591.43" y2="134.60" stroke="#000" stroke-width="0.8"/>
<rect x="595.84" y="156.40" width="3.94" height="31.60" fill="#0000cd"/>
<rect x="595.84" y="152.30" width="3.94" height="4.10" fill="#ff0000"/>
<rect x="595.84" y="138.40" width="3.94" height="13.90" fill="#32cd32"/>
<rect x="595.84" y="121.00" width="3.94" height="17.40" fill="#ffd700"/>
<rect x="595.84" y="111.10" width="3.94" height="9.90" fill="#ff8c00"/>
<line x1="597.82" y1="111.10" x2="597.82" y2="88.70" stroke="#000" stroke-opacity="0.55" stroke-width="0.6"/>
<line x1="596.32" y1="88.70" x2="599.32" y2="88.70" stroke="#000" stroke-width="0.8"/>
<line x1="596.32" y1="133.30" x2="599.32" y2="133.30" stroke="#000" stroke-width="0.8"/>
<rect x="603.73" y="152.60" width="3.94" height="35.40" fill="#0000cd"/>
<rect x="603.73" y="149.80" width="3.94" height="2.80" fill="#ff0000"/>
<rect x="603.73" y="136.70" width="3.94" height="13.10" fill="#32cd32"/>
<rect x="603.73" y="121.00" width="3.94" height="15.70" fill="#ffd700"/>
<rect x="603.73" y="109.70" width="3.94" height="11.30" fill="#ff8c00"/>
<line x1="605.71" y1="109.70" x2="605.71" y2="85.40" stroke="#000" stroke-opacity="0.55" stroke-width="0.6"/>
<line x1="604.21" y1="85.40" x2="607.21" y2="85.40" stroke="#000" stroke-width="0.8"/>
<line x1="604.21" y1="131.30" x2="607.21" y2="131.30" stroke="#000" stroke-width="0.8"/>
<rect x="611.62" y="104.80" width="3.94" height="83.20" fill="#0000cd"/>
<rect x="611.62" y="103.80" width="3.94" height="1.00" fill="#ff0000"/>
<rect x="611.62" y="98.00" width="3.94" height="5.80" fill="#32cd32"/>
<rect x="611.62" y="80.80" width="3.94" height="17.20" fill="#ffd700"/>
<rect x="611.62" y="73.90" width="3.94" height="6.90" fill="#ff8c00"/>
<line x1="613.59" y1="73.90" x2="613.59" y2="47.20" stroke="#000" stroke-opacity="0.55" stroke-width="0.6"/>
<line x1="612.09" y1="47.20" x2="615.09" y2="47.20" stroke="#000" stroke-width="0.8"/>
<rect x="627.40" y="180.50" width="3.94" height="7.50" fill="#0000cd"/>
<rect x="627.40" y="180.00" width="3.94" height="0.50" fill="#ff0000"/>
<rect x="627.40" y="177.20" width="3.94" height="2.80" fill="#32cd32"/>
<rect x="627.40" y="175.50" width="3.94" height="1.70" fill="#ffd700"/>
<rect x="627.40" y="172.30" width="3.94" height="3.20" fill="#ff8c00"/>
<line x1="629.37" y1="172.30" x2="629.37" y2="169.30" stroke="#000" stroke-opacity="0.55" stroke-width="0.6"/>
<line x1="627.87" y1="169.30" x2="630.87" y2="169.30" stroke="#000" stroke-width="0.8"/>
<line x1="627.87" y1="175.50" x2="630.87" y2="175.50" stroke="#000" stroke-width="0.8"/>
<rect x="635.29" y="141.10" width="3.94" height="46.90" fill="#0000cd"/>
<rect x="635.29" y="139.50" width="3.94" height="1.60" fill="#ff0000"/>
<rect x="635.29" y="130.00" width="3.94" height="9.50" fill="#32cd32"/>
<rect x="635.29" y="113.30" width="3.94" height="16.70" fill="#ffd700"/>
<rect x="635.29" y="105.90" width="3.94" height="7.40" fill="#ff8c00"/>
<line x1="637.26" y1="105.90" x2="637.26" y2="86.20" stroke="#000" stroke-opacity="0.55" stroke-width="0.6"/>
<line x1="635.76" y1="86.20" x2="638.76" y2="86.20" stroke="#000" stroke-width="0.8"/>
<line x1="635.76" y1="126.40" x2="638.76" y2="126.40" stroke="#000" stroke-width="0.8"/>
<rect x="643.18" y="168.20" width="3.94" height="19.80" fill="#0000cd"/>
<rect x="643.18" y="167.50" width="3.94" height="0.70" fill="#ff0000"/>
<rect x="643.18" y="163.30" width="3.94" height="4.20" fill="#32cd32"/>
<rect x="643.18" y="158.40" width="3.94" height="4.90" fill="#ffd700"/>
<rect x="643.18" y="151.80" width="3.94" height="6.60" fill="#ff8c00"/>
<line x1="645.15" y1="151.80" x2="645.15" y2="143.10" stroke="#000" stroke-opacity="0.55" stroke-width="0.6"/>
<line x1="643.65" y1="143.10" x2="646.65" y2="143.10" stroke="#000" stroke-width="0.8"/>
<line x1="643.65" y1="158.40" x2="646.65" y2="158.40" stroke="#000" stroke-width="0.8"/>
<rect x="651.07" y="157.00" width="3.94" height="31.00" fill="#bf00bf"/>
<line x1="653.04" y1="153.40" x2="653.04" y2="160.00" stroke="#808080" stroke-opacity="0.55" stroke-width="0.8"/>
<line x1="651.54" y1="153.40" x2="654.54" y2="153.40" stroke="#000" stroke-width="0.8"/>
<line x1="651.54" y1="160.00" x2="654.54" y2="160.00" stroke="#000" stroke-width="0.8"/>
<line x1="486.00" y1="149.50" x2="662.90" y2="149.50" stroke="#cc33cc" stroke-opacity="0.7" stroke-width="1.1" stroke-dasharray="1 1"/>
<line x1="486.00" y1="164.30" x2="662.90" y2="164.30" stroke="#cc33cc" stroke-opacity="0.7" stroke-width="1.1" stroke-dasharray="1 1"/>
<line x1="485.40" y1="157.00" x2="662.90" y2="157.00" stroke="#bf00bf" stroke-opacity="0.5" stroke-width="1.6"/>
<line x1="621.48" y1="12.00" x2="621.48" y2="188.00" stroke="#222" stroke-width="1.1"/>
<path d="M495.26 66.60 L503.15 68.20 L511.04 62.50 L518.93 77.50 L526.82 86.70 L534.71 71.50 L542.59 77.50 L550.48 68.50 L558.37 65.10 L566.26 60.20 L574.15 67.40 L582.04 63.30 L589.93 62.10 L597.82 79.30 L605.71 76.40 L613.59 95.70" fill="none" stroke="#1e90ff" stroke-width="1.15" stroke-dasharray="2.6 1.3"/>
<path d="M629.37 70.30 L637.26 75.20 L645.15 71.80" fill="none" stroke="#1e90ff" stroke-width="1.15" stroke-dasharray="2.6 1.3"/>
<circle cx="495.26" cy="66.60" r="1.35" fill="#1e90ff"/>
<circle cx="503.15" cy="68.20" r="1.35" fill="#1e90ff"/>
<circle cx="511.04" cy="62.50" r="1.35" fill="#1e90ff"/>
<circle cx="518.93" cy="77.50" r="1.35" fill="#1e90ff"/>
<circle cx="526.82" cy="86.70" r="1.35" fill="#1e90ff"/>
<circle cx="534.71" cy="71.50" r="1.35" fill="#1e90ff"/>
<circle cx="542.59" cy="77.50" r="1.35" fill="#1e90ff"/>
<circle cx="550.48" cy="68.50" r="1.35" fill="#1e90ff"/>
<circle cx="558.37" cy="65.10" r="1.35" fill="#1e90ff"/>
<circle cx="566.26" cy="60.20" r="1.35" fill="#1e90ff"/>
<circle cx="574.15" cy="67.40" r="1.35" fill="#1e90ff"/>
<circle cx="582.04" cy="63.30" r="1.35" fill="#1e90ff"/>
<circle cx="589.93" cy="62.10" r="1.35" fill="#1e90ff"/>
<circle cx="597.82" cy="79.30" r="1.35" fill="#1e90ff"/>
<circle cx="605.71" cy="76.40" r="1.35" fill="#1e90ff"/>
<circle cx="613.59" cy="95.70" r="1.35" fill="#1e90ff"/>
<circle cx="629.37" cy="70.30" r="1.35" fill="#1e90ff"/>
<circle cx="637.26" cy="75.20" r="1.35" fill="#1e90ff"/>
<circle cx="645.15" cy="71.80" r="1.35" fill="#1e90ff"/>
<path d="M495.26 123.10 L503.15 123.10 L511.04 120.30 L518.93 131.00 L526.82 126.10 L534.71 118.50 L542.59 126.10 L550.48 133.30 L558.37 114.10 L566.26 120.30 L574.15 116.90 L582.04 105.90 L589.93 93.30 L597.82 106.40 L605.71 110.00 L613.59 100.50" fill="none" stroke="#ff0000" stroke-width="1.15" stroke-dasharray="2.6 1.3"/>
<path d="M629.37 122.80 L637.26 103.40 L645.15 114.10" fill="none" stroke="#ff0000" stroke-width="1.15" stroke-dasharray="2.6 1.3"/>
<circle cx="495.26" cy="123.10" r="1.35" fill="#ff0000"/>
<circle cx="503.15" cy="123.10" r="1.35" fill="#ff0000"/>
<circle cx="511.04" cy="120.30" r="1.35" fill="#ff0000"/>
<circle cx="518.93" cy="131.00" r="1.35" fill="#ff0000"/>
<circle cx="526.82" cy="126.10" r="1.35" fill="#ff0000"/>
<circle cx="534.71" cy="118.50" r="1.35" fill="#ff0000"/>
<circle cx="542.59" cy="126.10" r="1.35" fill="#ff0000"/>
<circle cx="550.48" cy="133.30" r="1.35" fill="#ff0000"/>
<circle cx="558.37" cy="114.10" r="1.35" fill="#ff0000"/>
<circle cx="566.26" cy="120.30" r="1.35" fill="#ff0000"/>
<circle cx="574.15" cy="116.90" r="1.35" fill="#ff0000"/>
<circle cx="582.04" cy="105.90" r="1.35" fill="#ff0000"/>
<circle cx="589.93" cy="93.30" r="1.35" fill="#ff0000"/>
<circle cx="597.82" cy="106.40" r="1.35" fill="#ff0000"/>
<circle cx="605.71" cy="110.00" r="1.35" fill="#ff0000"/>
<circle cx="613.59" cy="100.50" r="1.35" fill="#ff0000"/>
<circle cx="629.37" cy="122.80" r="1.35" fill="#ff0000"/>
<circle cx="637.26" cy="103.40" r="1.35" fill="#ff0000"/>
<circle cx="645.15" cy="114.10" r="1.35" fill="#ff0000"/>
<path d="M495.26 131.30 L503.15 133.30 L511.04 130.20 L518.93 134.60 L526.82 148.50 L534.71 140.80 L542.59 140.00 L550.48 123.10 L558.37 139.00 L566.26 127.70 L574.15 137.90 L582.04 145.20 L589.93 156.40 L597.82 159.50 L605.71 153.40 L613.59 182.60" fill="none" stroke="#8a2be2" stroke-width="1.15" stroke-dasharray="2.6 1.3"/>
<path d="M629.37 135.40 L637.26 158.40 L645.15 146.90" fill="none" stroke="#8a2be2" stroke-width="1.15" stroke-dasharray="2.6 1.3"/>
<circle cx="495.26" cy="131.30" r="1.35" fill="#8a2be2"/>
<circle cx="503.15" cy="133.30" r="1.35" fill="#8a2be2"/>
<circle cx="511.04" cy="130.20" r="1.35" fill="#8a2be2"/>
<circle cx="518.93" cy="134.60" r="1.35" fill="#8a2be2"/>
<circle cx="526.82" cy="148.50" r="1.35" fill="#8a2be2"/>
<circle cx="534.71" cy="140.80" r="1.35" fill="#8a2be2"/>
<circle cx="542.59" cy="140.00" r="1.35" fill="#8a2be2"/>
<circle cx="550.48" cy="123.10" r="1.35" fill="#8a2be2"/>
<circle cx="558.37" cy="139.00" r="1.35" fill="#8a2be2"/>
<circle cx="566.26" cy="127.70" r="1.35" fill="#8a2be2"/>
<circle cx="574.15" cy="137.90" r="1.35" fill="#8a2be2"/>
<circle cx="582.04" cy="145.20" r="1.35" fill="#8a2be2"/>
<circle cx="589.93" cy="156.40" r="1.35" fill="#8a2be2"/>
<circle cx="597.82" cy="159.50" r="1.35" fill="#8a2be2"/>
<circle cx="605.71" cy="153.40" r="1.35" fill="#8a2be2"/>
<circle cx="613.59" cy="182.60" r="1.35" fill="#8a2be2"/>
<circle cx="629.37" cy="135.40" r="1.35" fill="#8a2be2"/>
<circle cx="637.26" cy="158.40" r="1.35" fill="#8a2be2"/>
<circle cx="645.15" cy="146.90" r="1.35" fill="#8a2be2"/>
<rect x="485.40" y="12.00" width="177.50" height="176.00" fill="none" stroke="#000" stroke-width="0.8"/>
<text x="574.15" y="5.80" font-size="6.49" font-weight="bold" text-anchor="middle" fill="#000" stroke="#000" stroke-width="0.2" textLength="86.24" lengthAdjust="spacingAndGlyphs">c) Total (Spring+Summer)</text>
<text x="464.36" y="100.00" font-size="6.49" font-weight="bold" text-anchor="middle" fill="#000" stroke="#000" stroke-width="0.2" textLength="14.48" lengthAdjust="spacingAndGlyphs" transform="rotate(-90 464.36 100.00)">AOD</text>
<text x="683.40" y="100.00" font-size="6.49" font-weight="bold" text-anchor="middle" fill="#1e90ff" stroke="#1e90ff" stroke-width="0.2" textLength="76.67" lengthAdjust="spacingAndGlyphs" transform="rotate(-90 683.40 100.00)">Precipitation (mm/day)</text>
<text x="574.15" y="252.80" font-size="6.49" font-weight="bold" text-anchor="middle" fill="#000" stroke="#000" stroke-width="0.2" textLength="23.68" lengthAdjust="spacingAndGlyphs">Models</text>
<text x="494.06" y="194.70" font-size="6.21" text-anchor="end" fill="#000" stroke="#000" stroke-width="0.2" textLength="21.26" lengthAdjust="spacingAndGlyphs" transform="rotate(-70 494.06 194.70)">MIROC6</text>
<text x="501.95" y="194.70" font-size="6.21" text-anchor="end" fill="#000" stroke="#000" stroke-width="0.2" textLength="38.13" lengthAdjust="spacingAndGlyphs" transform="rotate(-70 501.95 194.70)">CNRM-ESM2-1</text>
<text x="509.84" y="194.70" font-size="6.21" text-anchor="end" fill="#000" stroke="#000" stroke-width="0.2" textLength="36.94" lengthAdjust="spacingAndGlyphs" transform="rotate(-70 509.84 194.70)">IPSL-CM6A-LR</text>
<text x="517.73" y="194.70" font-size="6.21" text-anchor="end" fill="#000" stroke="#000" stroke-width="0.2" textLength="52.97" lengthAdjust="spacingAndGlyphs" transform="rotate(-70 517.73 194.70)">CESM2-WACCM-FV2</text>
<text x="525.62" y="194.70" font-size="6.21" text-anchor="end" fill="#000" stroke="#000" stroke-width="0.2" textLength="47.64" lengthAdjust="spacingAndGlyphs" transform="rotate(-70 525.62 194.70)">MPI-ESM-1-2-HAM</text>
<text x="533.51" y="194.70" font-size="6.21" text-anchor="end" fill="#000" stroke="#000" stroke-width="0.2" textLength="33.80" lengthAdjust="spacingAndGlyphs" transform="rotate(-70 533.51 194.70)">NorESM2-LM</text>
<text x="541.39" y="194.70" font-size="6.21" text-anchor="end" fill="#000" stroke="#000" stroke-width="0.2" textLength="35.43" lengthAdjust="spacingAndGlyphs" transform="rotate(-70 541.39 194.70)">NorESM2-MM</text>
<text x="549.28" y="194.70" font-size="6.21" text-anchor="end" fill="#000" stroke="#000" stroke-width="0.2" textLength="51.63" lengthAdjust="spacingAndGlyphs" transform="rotate(-70 549.28 194.70)">IPSL-CM6A-LR-INCA</text>
<text x="557.17" y="194.70" font-size="6.21" text-anchor="end" fill="#000" stroke="#000" stroke-width="0.2" textLength="46.74" lengthAdjust="spacingAndGlyphs" transform="rotate(-70 557.17 194.70)">IPSL-CM5A2-INCA</text>
<text x="565.06" y="194.70" font-size="6.21" text-anchor="end" fill="#000" stroke="#000" stroke-width="0.2" textLength="53.30" lengthAdjust="spacingAndGlyphs" transform="rotate(-70 565.06 194.70)">EC-Earth3-AerChem</text>
<text x="572.95" y="194.70" font-size="6.21" text-anchor="end" fill="#000" stroke="#000" stroke-width="0.2" textLength="31.97" lengthAdjust="spacingAndGlyphs" transform="rotate(-70 572.95 194.70)">MRI-ESM2-0</text>
<text x="580.84" y="194.70" font-size="6.21" text-anchor="end" fill="#000" stroke="#000" stroke-width="0.2" textLength="32.84" lengthAdjust="spacingAndGlyphs" transform="rotate(-70 580.84 194.70)">GISS-E2-1-G</text>
<text x="588.73" y="194.70" font-size="6.21" text-anchor="end" fill="#000" stroke="#000" stroke-width="0.2" textLength="32.52" lengthAdjust="spacingAndGlyphs" transform="rotate(-70 588.73 194.70)">GISS-E2-1-H</text>
<text x="596.62" y="194.70" font-size="6.21" text-anchor="end" fill="#000" stroke="#000" stroke-width="0.2" textLength="29.22" lengthAdjust="spacingAndGlyphs" transform="rotate(-70 596.62 194.70)">INM-CM5-0</text>
<text x="604.51" y="194.70" font-size="6.21" text-anchor="end" fill="#000" stroke="#000" stroke-width="0.2" textLength="29.22" lengthAdjust="spacingAndGlyphs" transform="rotate(-70 604.51 194.70)">INM-CM4-8</text>
<text x="612.39" y="194.70" font-size="6.21" text-anchor="end" fill="#000" stroke="#000" stroke-width="0.2" textLength="32.84" lengthAdjust="spacingAndGlyphs" transform="rotate(-70 612.39 194.70)">GISS-E2-2-G</text>
<text x="628.17" y="194.70" font-size="6.21" text-anchor="end" fill="#000" stroke="#000" stroke-width="0.2" textLength="43.86" lengthAdjust="spacingAndGlyphs" transform="rotate(-70 628.17 194.70)">MMM (Low AOD)</text>
<text x="636.06" y="194.70" font-size="6.21" text-anchor="end" fill="#000" stroke="#000" stroke-width="0.2" textLength="45.62" lengthAdjust="spacingAndGlyphs" transform="rotate(-70 636.06 194.70)">MMM (High AOD)</text>
<text x="643.95" y="194.70" font-size="6.21" text-anchor="end" fill="#000" stroke="#000" stroke-width="0.2" textLength="26.36" lengthAdjust="spacingAndGlyphs" transform="rotate(-70 643.95 194.70)">MMM (All)</text>
<text x="651.84" y="194.70" font-size="6.21" text-anchor="end" fill="#000" stroke="#000" stroke-width="0.2" textLength="31.87" lengthAdjust="spacingAndGlyphs" transform="rotate(-70 651.84 194.70)">AEROSNOW</text>
<path d="M35.06 466.20v2.6 M35.06 288.50v-1.8 M43.02 466.20v2.6 M43.02 288.50v-1.8 M50.98 466.20v2.6 M50.98 288.50v-1.8 M58.95 466.20v2.6 M58.95 288.50v-1.8 M66.91 466.20v2.6 M66.91 288.50v-1.8 M74.88 466.20v2.6 M74.88 288.50v-1.8 M82.84 466.20v2.6 M82.84 288.50v-1.8 M90.81 466.20v2.6 M90.81 288.50v-1.8 M98.77 466.20v2.6 M98.77 288.50v-1.8 M106.74 466.20v2.6 M106.74 288.50v-1.8 M114.70 466.20v2.6 M114.70 288.50v-1.8 M122.66 466.20v2.6 M122.66 288.50v-1.8 M130.63 466.20v2.6 M130.63 288.50v-1.8 M138.59 466.20v2.6 M138.59 288.50v-1.8 M146.56 466.20v2.6 M146.56 288.50v-1.8 M154.52 466.20v2.6 M154.52 288.50v-1.8 M162.49 466.20v2.6 M162.49 288.50v-1.8 M170.45 466.20v2.6 M170.45 288.50v-1.8 M178.42 466.20v2.6 M178.42 288.50v-1.8 M186.38 466.20v2.6 M186.38 288.50v-1.8 M194.34 466.20v2.6 M194.34 288.50v-1.8 M25.10 466.20h-2.6 M25.10 446.46h-2.6 M25.10 426.71h-2.6 M25.10 406.97h-2.6 M25.10 387.22h-2.6 M25.10 367.48h-2.6 M25.10 347.73h-2.6 M25.10 327.99h-2.6 M25.10 308.24h-2.6 M25.10 288.50h-2.6 M25.10 456.33h-1.5 M25.10 436.58h-1.5 M25.10 416.84h-1.5 M25.10 397.09h-1.5 M25.10 377.35h-1.5 M25.10 357.61h-1.5 M25.10 337.86h-1.5 M25.10 318.12h-1.5 M25.10 298.37h-1.5" stroke="#000" stroke-width="0.6" fill="none"/>
<path d="M204.30 466.20h2.6 M204.30 440.81h2.6 M204.30 415.43h2.6 M204.30 390.04h2.6 M204.30 364.66h2.6 M204.30 339.27h2.6 M204.30 313.89h2.6 M204.30 288.50h2.6 M204.30 459.85h1.5 M204.30 453.51h1.5 M204.30 447.16h1.5 M204.30 434.47h1.5 M204.30 428.12h1.5 M204.30 421.77h1.5 M204.30 409.08h1.5 M204.30 402.74h1.5 M204.30 396.39h1.5 M204.30 383.70h1.5 M204.30 377.35h1.5 M204.30 371.00h1.5 M204.30 358.31h1.5 M204.30 351.96h1.5 M204.30 345.62h1.5 M204.30 332.92h1.5 M204.30 326.58h1.5 M204.30 320.23h1.5 M204.30 307.54h1.5 M204.30 301.19h1.5 M204.30 294.85h1.5" stroke="#1e90ff" stroke-width="0.6" fill="none"/>
<text x="20.60" y="468.30" font-size="6.49" text-anchor="end" fill="#000" stroke="#000" stroke-width="0.2" textLength="13.14" lengthAdjust="spacingAndGlyphs">0.00</text>
<text x="20.60" y="448.56" font-size="6.49" text-anchor="end" fill="#000" stroke="#000" stroke-width="0.2" textLength="13.14" lengthAdjust="spacingAndGlyphs">0.05</text>
<text x="20.60" y="428.81" font-size="6.49" text-anchor="end" fill="#000" stroke="#000" stroke-width="0.2" textLength="13.14" lengthAdjust="spacingAndGlyphs">0.10</text>
<text x="20.60" y="409.07" font-size="6.49" text-anchor="end" fill="#000" stroke="#000" stroke-width="0.2" textLength="13.14" lengthAdjust="spacingAndGlyphs">0.15</text>
<text x="20.60" y="389.32" font-size="6.49" text-anchor="end" fill="#000" stroke="#000" stroke-width="0.2" textLength="13.14" lengthAdjust="spacingAndGlyphs">0.20</text>
<text x="20.60" y="369.58" font-size="6.49" text-anchor="end" fill="#000" stroke="#000" stroke-width="0.2" textLength="13.14" lengthAdjust="spacingAndGlyphs">0.25</text>
<text x="20.60" y="349.83" font-size="6.49" text-anchor="end" fill="#000" stroke="#000" stroke-width="0.2" textLength="13.14" lengthAdjust="spacingAndGlyphs">0.30</text>
<text x="20.60" y="330.09" font-size="6.49" text-anchor="end" fill="#000" stroke="#000" stroke-width="0.2" textLength="13.14" lengthAdjust="spacingAndGlyphs">0.35</text>
<text x="20.60" y="310.34" font-size="6.49" text-anchor="end" fill="#000" stroke="#000" stroke-width="0.2" textLength="13.14" lengthAdjust="spacingAndGlyphs">0.40</text>
<text x="20.60" y="290.60" font-size="6.49" text-anchor="end" fill="#000" stroke="#000" stroke-width="0.2" textLength="13.14" lengthAdjust="spacingAndGlyphs">0.45</text>
<text x="208.50" y="469.10" font-size="6.49" text-anchor="start" fill="#1e90ff" stroke="#1e90ff" stroke-width="0.2" textLength="9.38" lengthAdjust="spacingAndGlyphs">0.0</text>
<text x="208.50" y="443.71" font-size="6.49" text-anchor="start" fill="#1e90ff" stroke="#1e90ff" stroke-width="0.2" textLength="9.38" lengthAdjust="spacingAndGlyphs">0.2</text>
<text x="208.50" y="418.33" font-size="6.49" text-anchor="start" fill="#1e90ff" stroke="#1e90ff" stroke-width="0.2" textLength="9.38" lengthAdjust="spacingAndGlyphs">0.4</text>
<text x="208.50" y="392.94" font-size="6.49" text-anchor="start" fill="#1e90ff" stroke="#1e90ff" stroke-width="0.2" textLength="9.38" lengthAdjust="spacingAndGlyphs">0.6</text>
<text x="208.50" y="367.56" font-size="6.49" text-anchor="start" fill="#1e90ff" stroke="#1e90ff" stroke-width="0.2" textLength="9.38" lengthAdjust="spacingAndGlyphs">0.8</text>
<text x="208.50" y="342.17" font-size="6.49" text-anchor="start" fill="#1e90ff" stroke="#1e90ff" stroke-width="0.2" textLength="9.38" lengthAdjust="spacingAndGlyphs">1.0</text>
<text x="208.50" y="316.79" font-size="6.49" text-anchor="start" fill="#1e90ff" stroke="#1e90ff" stroke-width="0.2" textLength="9.38" lengthAdjust="spacingAndGlyphs">1.2</text>
<text x="208.50" y="291.40" font-size="6.49" text-anchor="start" fill="#1e90ff" stroke="#1e90ff" stroke-width="0.2" textLength="9.38" lengthAdjust="spacingAndGlyphs">1.4</text>
<rect x="33.06" y="463.70" width="3.98" height="2.50" fill="#0000cd"/>
<rect x="33.06" y="463.40" width="3.98" height="0.30" fill="#ff0000"/>
<rect x="33.06" y="462.00" width="3.98" height="1.40" fill="#32cd32"/>
<rect x="33.06" y="461.00" width="3.98" height="1.00" fill="#ffd700"/>
<rect x="33.06" y="460.00" width="3.98" height="1.00" fill="#ff8c00"/>
<line x1="35.06" y1="460.00" x2="35.06" y2="459.60" stroke="#000" stroke-opacity="0.55" stroke-width="0.6"/>
<line x1="33.56" y1="459.60" x2="36.56" y2="459.60" stroke="#000" stroke-width="0.8"/>
<line x1="33.56" y1="461.00" x2="36.56" y2="461.00" stroke="#000" stroke-width="0.8"/>
<rect x="41.03" y="463.20" width="3.98" height="3.00" fill="#0000cd"/>
<rect x="41.03" y="463.00" width="3.98" height="0.20" fill="#ff0000"/>
<rect x="41.03" y="462.00" width="3.98" height="1.00" fill="#32cd32"/>
<rect x="41.03" y="461.00" width="3.98" height="1.00" fill="#ffd700"/>
<rect x="41.03" y="460.00" width="3.98" height="1.00" fill="#ff8c00"/>
<line x1="43.02" y1="460.00" x2="43.02" y2="460.00" stroke="#000" stroke-opacity="0.55" stroke-width="0.6"/>
<line x1="41.52" y1="460.00" x2="44.52" y2="460.00" stroke="#000" stroke-width="0.8"/>
<line x1="41.52" y1="461.00" x2="44.52" y2="461.00" stroke="#000" stroke-width="0.8"/>
<rect x="48.99" y="462.70" width="3.98" height="3.50" fill="#0000cd"/>
<rect x="48.99" y="462.50" width="3.98" height="0.20" fill="#ff0000"/>
<rect x="48.99" y="461.50" width="3.98" height="1.00" fill="#32cd32"/>
<rect x="48.99" y="459.50" width="3.98" height="2.00" fill="#ffd700"/>
<rect x="48.99" y="457.80" width="3.98" height="1.70" fill="#ff8c00"/>
<line x1="50.98" y1="457.80" x2="50.98" y2="457.50" stroke="#000" stroke-opacity="0.55" stroke-width="0.6"/>
<line x1="49.48" y1="457.50" x2="52.48" y2="457.50" stroke="#000" stroke-width="0.8"/>
<line x1="49.48" y1="459.50" x2="52.48" y2="459.50" stroke="#000" stroke-width="0.8"/>
<rect x="56.96" y="462.10" width="3.98" height="4.10" fill="#0000cd"/>
<rect x="56.96" y="461.10" width="3.98" height="1.00" fill="#ff0000"/>
<rect x="56.96" y="459.50" width="3.98" height="1.60" fill="#32cd32"/>
<rect x="56.96" y="457.50" width="3.98" height="2.00" fill="#ffd700"/>
<rect x="56.96" y="454.50" width="3.98" height="3.00" fill="#ff8c00"/>
<line x1="58.95" y1="454.50" x2="58.95" y2="452.90" stroke="#000" stroke-opacity="0.55" stroke-width="0.6"/>
<line x1="57.45" y1="452.90" x2="60.45" y2="452.90" stroke="#000" stroke-width="0.8"/>
<line x1="57.45" y1="457.50" x2="60.45" y2="457.50" stroke="#000" stroke-width="0.8"/>
<rect x="64.92" y="463.20" width="3.98" height="3.00" fill="#0000cd"/>
<rect x="64.92" y="462.40" width="3.98" height="0.80" fill="#ff0000"/>
<rect x="64.92" y="460.00" width="3.98" height="2.40" fill="#32cd32"/>
<rect x="64.92" y="455.90" width="3.98" height="4.10" fill="#ffd700"/>
<rect x="64.92" y="451.30" width="3.98" height="4.60" fill="#ff8c00"/>
<line x1="66.91" y1="451.30" x2="66.91" y2="449.30" stroke="#000" stroke-opacity="0.55" stroke-width="0.6"/>
<line x1="65.41" y1="449.30" x2="68.41" y2="449.30" stroke="#000" stroke-width="0.8"/>
<line x1="65.41" y1="455.90" x2="68.41" y2="455.90" stroke="#000" stroke-width="0.8"/>
<rect x="72.89" y="458.30" width="3.98" height="7.90" fill="#0000cd"/>
<rect x="72.89" y="457.50" width="3.98" height="0.80" fill="#ff0000"/>
<rect x="72.89" y="456.70" width="3.98" height="0.80" fill="#32cd32"/>
<rect x="72.89" y="454.20" width="3.98" height="2.50" fill="#ffd700"/>
<rect x="72.89" y="450.90" width="3.98" height="3.30" fill="#ff8c00"/>
<line x1="74.88" y1="450.90" x2="74.88" y2="450.10" stroke="#000" stroke-opacity="0.55" stroke-width="0.6"/>
<line x1="73.38" y1="450.10" x2="76.38" y2="450.10" stroke="#000" stroke-width="0.8"/>
<line x1="73.38" y1="454.20" x2="76.38" y2="454.20" stroke="#000" stroke-width="0.8"/>
<rect x="80.85" y="462.70" width="3.98" height="3.50" fill="#0000cd"/>
<rect x="80.85" y="462.00" width="3.98" height="0.70" fill="#ff0000"/>
<rect x="80.85" y="458.80" width="3.98" height="3.20" fill="#32cd32"/>
<rect x="80.85" y="455.90" width="3.98" height="2.90" fill="#ffd700"/>
<rect x="80.85" y="450.10" width="3.98" height="5.80" fill="#ff8c00"/>
<line x1="82.84" y1="450.10" x2="82.84" y2="447.20" stroke="#000" stroke-opacity="0.55" stroke-width="0.6"/>
<line x1="81.34" y1="447.20" x2="84.34" y2="447.20" stroke="#000" stroke-width="0.8"/>
<line x1="81.34" y1="455.90" x2="84.34" y2="455.90" stroke="#000" stroke-width="0.8"/>
<rect x="88.82" y="460.80" width="3.98" height="5.40" fill="#0000cd"/>
<rect x="88.82" y="460.50" width="3.98" height="0.30" fill="#ff0000"/>
<rect x="88.82" y="458.30" width="3.98" height="2.20" fill="#32cd32"/>
<rect x="88.82" y="456.70" width="3.98" height="1.60" fill="#ffd700"/>
<rect x="88.82" y="446.00" width="3.98" height="10.70" fill="#ff8c00"/>
<line x1="90.81" y1="446.00" x2="90.81" y2="441.90" stroke="#000" stroke-opacity="0.55" stroke-width="0.6"/>
<line x1="89.31" y1="441.90" x2="92.31" y2="441.90" stroke="#000" stroke-width="0.8"/>
<line x1="89.31" y1="452.00" x2="92.31" y2="452.00" stroke="#000" stroke-width="0.8"/>
<rect x="96.78" y="450.10" width="3.98" height="16.10" fill="#0000cd"/>
<rect x="96.78" y="449.30" width="3.98" height="0.80" fill="#ff0000"/>
<rect x="96.78" y="448.50" width="3.98" height="0.80" fill="#32cd32"/>
<rect x="96.78" y="446.80" width="3.98" height="1.70" fill="#ffd700"/>
<rect x="96.78" y="445.20" width="3.98" height="1.60" fill="#ff8c00"/>
<line x1="98.77" y1="445.20" x2="98.77" y2="444.70" stroke="#000" stroke-opacity="0.55" stroke-width="0.6"/>
<line x1="97.27" y1="444.70" x2="100.27" y2="444.70" stroke="#000" stroke-width="0.8"/>
<line x1="97.27" y1="446.80" x2="100.27" y2="446.80" stroke="#000" stroke-width="0.8"/>
<rect x="104.74" y="450.90" width="3.98" height="15.30" fill="#0000cd"/>
<rect x="104.74" y="449.30" width="3.98" height="1.60" fill="#ff0000"/>
<rect x="104.74" y="447.70" width="3.98" height="1.60" fill="#32cd32"/>
<rect x="104.74" y="444.40" width="3.98" height="3.30" fill="#ffd700"/>
<rect x="104.74" y="442.40" width="3.98" height="2.00" fill="#ff8c00"/>
<line x1="106.74" y1="442.40" x2="106.74" y2="441.10" stroke="#000" stroke-opacity="0.55" stroke-width="0.6"/>
<line x1="105.24" y1="441.10" x2="108.24" y2="441.10" stroke="#000" stroke-width="0.8"/>
<line x1="105.24" y1="444.40" x2="108.24" y2="444.40" stroke="#000" stroke-width="0.8"/>
<rect x="112.71" y="458.80" width="3.98" height="7.40" fill="#0000cd"/>
<rect x="112.71" y="458.30" width="3.98" height="0.50" fill="#ff0000"/>
<rect x="112.71" y="454.20" width="3.98" height="4.10" fill="#32cd32"/>
<rect x="112.71" y="451.00" width="3.98" height="3.20" fill="#ffd700"/>
<rect x="112.71" y="441.90" width="3.98" height="9.10" fill="#ff8c00"/>
<line x1="114.70" y1="441.90" x2="114.70" y2="436.50" stroke="#000" stroke-opacity="0.55" stroke-width="0.6"/>
<line x1="113.20" y1="436.50" x2="116.20" y2="436.50" stroke="#000" stroke-width="0.8"/>
<line x1="113.20" y1="447.30" x2="116.20" y2="447.30" stroke="#000" stroke-width="0.8"/>
<rect x="120.67" y="410.30" width="3.98" height="55.90" fill="#0000cd"/>
<rect x="120.67" y="409.60" width="3.98" height="0.70" fill="#ff0000"/>
<rect x="120.67" y="406.20" width="3.98" height="3.40" fill="#32cd32"/>
<rect x="120.67" y="389.00" width="3.98" height="17.20" fill="#ffd700"/>
<rect x="120.67" y="382.90" width="3.98" height="6.10" fill="#ff8c00"/>
<line x1="122.66" y1="382.90" x2="122.66" y2="376.80" stroke="#000" stroke-opacity="0.55" stroke-width="0.6"/>
<line x1="121.16" y1="376.80" x2="124.16" y2="376.80" stroke="#000" stroke-width="0.8"/>
<line x1="121.16" y1="389.00" x2="124.16" y2="389.00" stroke="#000" stroke-width="0.8"/>
<rect x="128.64" y="405.00" width="3.98" height="61.20" fill="#0000cd"/>
<rect x="128.64" y="404.50" width="3.98" height="0.50" fill="#ff0000"/>
<rect x="128.64" y="400.90" width="3.98" height="3.60" fill="#32cd32"/>
<rect x="128.64" y="381.30" width="3.98" height="19.60" fill="#ffd700"/>
<rect x="128.64" y="376.80" width="3.98" height="4.50" fill="#ff8c00"/>
<line x1="130.63" y1="376.80" x2="130.63" y2="369.00" stroke="#000" stroke-opacity="0.55" stroke-width="0.6"/>
<line x1="129.13" y1="369.00" x2="132.13" y2="369.00" stroke="#000" stroke-width="0.8"/>
<line x1="129.13" y1="383.00" x2="132.13" y2="383.00" stroke="#000" stroke-width="0.8"/>
<rect x="136.60" y="420.60" width="3.98" height="45.60" fill="#0000cd"/>
<rect x="136.60" y="414.90" width="3.98" height="5.70" fill="#ff0000"/>
<rect x="136.60" y="401.80" width="3.98" height="13.10" fill="#32cd32"/>
<rect x="136.60" y="376.30" width="3.98" height="25.50" fill="#ffd700"/>
<rect x="136.60" y="364.90" width="3.98" height="11.40" fill="#ff8c00"/>
<line x1="138.59" y1="364.90" x2="138.59" y2="350.60" stroke="#000" stroke-opacity="0.55" stroke-width="0.6"/>
<line x1="137.09" y1="350.60" x2="140.09" y2="350.60" stroke="#000" stroke-width="0.8"/>
<line x1="137.09" y1="378.00" x2="140.09" y2="378.00" stroke="#000" stroke-width="0.8"/>
<rect x="144.57" y="417.00" width="3.98" height="49.20" fill="#0000cd"/>
<rect x="144.57" y="411.30" width="3.98" height="5.70" fill="#ff0000"/>
<rect x="144.57" y="399.00" width="3.98" height="12.30" fill="#32cd32"/>
<rect x="144.57" y="373.40" width="3.98" height="25.60" fill="#ffd700"/>
<rect x="144.57" y="361.10" width="3.98" height="12.30" fill="#ff8c00"/>
<line x1="146.56" y1="361.10" x2="146.56" y2="349.30" stroke="#000" stroke-opacity="0.55" stroke-width="0.6"/>
<line x1="145.06" y1="349.30" x2="148.06" y2="349.30" stroke="#000" stroke-width="0.8"/>
<line x1="145.06" y1="373.40" x2="148.06" y2="373.40" stroke="#000" stroke-width="0.8"/>
<rect x="152.53" y="357.50" width="3.98" height="108.70" fill="#0000cd"/>
<rect x="152.53" y="357.00" width="3.98" height="0.50" fill="#ff0000"/>
<rect x="152.53" y="350.10" width="3.98" height="6.90" fill="#32cd32"/>
<rect x="152.53" y="331.60" width="3.98" height="18.50" fill="#ffd700"/>
<rect x="152.53" y="323.10" width="3.98" height="8.50" fill="#ff8c00"/>
<line x1="154.52" y1="323.10" x2="154.52" y2="308.30" stroke="#000" stroke-opacity="0.55" stroke-width="0.6"/>
<line x1="153.02" y1="308.30" x2="156.02" y2="308.30" stroke="#000" stroke-width="0.8"/>
<line x1="153.02" y1="338.10" x2="156.02" y2="338.10" stroke="#000" stroke-width="0.8"/>
<rect x="168.46" y="459.60" width="3.98" height="6.60" fill="#0000cd"/>
<rect x="168.46" y="459.00" width="3.98" height="0.60" fill="#ff0000"/>
<rect x="168.46" y="457.50" width="3.98" height="1.50" fill="#32cd32"/>
<rect x="168.46" y="455.00" width="3.98" height="2.50" fill="#ffd700"/>
<rect x="168.46" y="450.90" width="3.98" height="4.10" fill="#ff8c00"/>
<line x1="170.45" y1="450.90" x2="170.45" y2="449.30" stroke="#000" stroke-opacity="0.55" stroke-width="0.6"/>
<line x1="168.95" y1="449.30" x2="171.95" y2="449.30" stroke="#000" stroke-width="0.8"/>
<line x1="168.95" y1="455.00" x2="171.95" y2="455.00" stroke="#000" stroke-width="0.8"/>
<rect x="176.42" y="401.80" width="3.98" height="64.40" fill="#0000cd"/>
<rect x="176.42" y="399.80" width="3.98" height="2.00" fill="#ff0000"/>
<rect x="176.42" y="391.40" width="3.98" height="8.40" fill="#32cd32"/>
<rect x="176.42" y="373.10" width="3.98" height="18.30" fill="#ffd700"/>
<rect x="176.42" y="361.90" width="3.98" height="11.20" fill="#ff8c00"/>
<line x1="178.42" y1="361.90" x2="178.42" y2="350.60" stroke="#000" stroke-opacity="0.55" stroke-width="0.6"/>
<line x1="176.92" y1="350.60" x2="179.92" y2="350.60" stroke="#000" stroke-width="0.8"/>
<line x1="176.92" y1="373.10" x2="179.92" y2="373.10" stroke="#000" stroke-width="0.8"/>
<rect x="184.39" y="441.10" width="3.98" height="25.10" fill="#0000cd"/>
<rect x="184.39" y="440.30" width="3.98" height="0.80" fill="#ff0000"/>
<rect x="184.39" y="437.00" width="3.98" height="3.30" fill="#32cd32"/>
<rect x="184.39" y="430.40" width="3.98" height="6.60" fill="#ffd700"/>
<rect x="184.39" y="423.10" width="3.98" height="7.30" fill="#ff8c00"/>
<line x1="186.38" y1="423.10" x2="186.38" y2="418.10" stroke="#000" stroke-opacity="0.55" stroke-width="0.6"/>
<line x1="184.88" y1="418.10" x2="187.88" y2="418.10" stroke="#000" stroke-width="0.8"/>
<line x1="184.88" y1="430.40" x2="187.88" y2="430.40" stroke="#000" stroke-width="0.8"/>
<rect x="192.35" y="433.70" width="3.98" height="32.50" fill="#bf00bf"/>
<line x1="194.34" y1="430.40" x2="194.34" y2="436.50" stroke="#808080" stroke-opacity="0.55" stroke-width="0.8"/>
<line x1="192.84" y1="430.40" x2="195.84" y2="430.40" stroke="#000" stroke-width="0.8"/>
<line x1="192.84" y1="436.50" x2="195.84" y2="436.50" stroke="#000" stroke-width="0.8"/>
<line x1="26.00" y1="427.20" x2="204.30" y2="427.20" stroke="#cc33cc" stroke-opacity="0.7" stroke-width="1.1" stroke-dasharray="1 1"/>
<line x1="26.00" y1="440.80" x2="204.30" y2="440.80" stroke="#cc33cc" stroke-opacity="0.7" stroke-width="1.1" stroke-dasharray="1 1"/>
<line x1="25.10" y1="434.00" x2="204.30" y2="434.00" stroke="#bf00bf" stroke-opacity="0.5" stroke-width="1.6"/>
<line x1="162.49" y1="288.50" x2="162.49" y2="466.20" stroke="#222" stroke-width="1.1"/>
<path d="M35.06 398.00 L43.02 394.70 L50.98 376.80 L58.95 387.00 L66.91 398.80" fill="none" stroke="#1e90ff" stroke-width="1.15" stroke-dasharray="2.6 1.3"/>
<path d="M170.45 389.50 L178.42 395.00 L186.38 393.20" fill="none" stroke="#1e90ff" stroke-width="1.15" stroke-dasharray="2.6 1.3"/>
<circle cx="35.06" cy="398.00" r="1.35" fill="#1e90ff"/>
<circle cx="43.02" cy="394.70" r="1.35" fill="#1e90ff"/>
<circle cx="50.98" cy="376.80" r="1.35" fill="#1e90ff"/>
<circle cx="58.95" cy="387.00" r="1.35" fill="#1e90ff"/>
<circle cx="66.91" cy="398.80" r="1.35" fill="#1e90ff"/>
<circle cx="90.81" cy="387.30" r="1.35" fill="#1e90ff"/>
<circle cx="106.74" cy="382.60" r="1.35" fill="#1e90ff"/>
<circle cx="170.45" cy="389.50" r="1.35" fill="#1e90ff"/>
<circle cx="178.42" cy="395.00" r="1.35" fill="#1e90ff"/>
<circle cx="186.38" cy="393.20" r="1.35" fill="#1e90ff"/>
<path d="M35.06 404.40 L43.02 399.00 L50.98 383.20 L58.95 391.60 L66.91 405.50" fill="none" stroke="#ff0000" stroke-width="1.15" stroke-dasharray="2.6 1.3"/>
<path d="M170.45 397.20 L178.42 397.20 L186.38 397.20" fill="none" stroke="#ff0000" stroke-width="1.15" stroke-dasharray="2.6 1.3"/>
<circle cx="35.06" cy="404.40" r="1.35" fill="#ff0000"/>
<circle cx="43.02" cy="399.00" r="1.35" fill="#ff0000"/>
<circle cx="50.98" cy="383.20" r="1.35" fill="#ff0000"/>
<circle cx="58.95" cy="391.60" r="1.35" fill="#ff0000"/>
<circle cx="66.91" cy="405.50" r="1.35" fill="#ff0000"/>
<circle cx="90.81" cy="404.70" r="1.35" fill="#ff0000"/>
<circle cx="106.74" cy="389.50" r="1.35" fill="#ff0000"/>
<circle cx="122.66" cy="397.20" r="1.35" fill="#ff0000"/>
<circle cx="170.45" cy="397.20" r="1.35" fill="#ff0000"/>
<circle cx="178.42" cy="397.20" r="1.35" fill="#ff0000"/>
<circle cx="186.38" cy="397.20" r="1.35" fill="#ff0000"/>
<path d="M35.06 459.60 L43.02 462.10 L50.98 459.60 L58.95 461.60 L66.91 459.10" fill="none" stroke="#8a2be2" stroke-width="1.15" stroke-dasharray="2.6 1.3"/>
<path d="M170.45 458.80 L178.42 464.90 L186.38 462.10" fill="none" stroke="#8a2be2" stroke-width="1.15" stroke-dasharray="2.6 1.3"/>
<circle cx="35.06" cy="459.60" r="1.35" fill="#8a2be2"/>
<circle cx="43.02" cy="462.10" r="1.35" fill="#8a2be2"/>
<circle cx="50.98" cy="459.60" r="1.35" fill="#8a2be2"/>
<circle cx="58.95" cy="461.60" r="1.35" fill="#8a2be2"/>
<circle cx="66.91" cy="459.10" r="1.35" fill="#8a2be2"/>
<circle cx="90.81" cy="448.50" r="1.35" fill="#8a2be2"/>
<circle cx="106.74" cy="459.60" r="1.35" fill="#8a2be2"/>
<circle cx="122.66" cy="464.90" r="1.35" fill="#8a2be2"/>
<circle cx="170.45" cy="458.80" r="1.35" fill="#8a2be2"/>
<circle cx="178.42" cy="464.90" r="1.35" fill="#8a2be2"/>
<circle cx="186.38" cy="462.10" r="1.35" fill="#8a2be2"/>
<rect x="25.10" y="288.50" width="179.20" height="177.70" fill="none" stroke="#000" stroke-width="0.8"/>
<text x="114.70" y="282.30" font-size="6.49" font-weight="bold" text-anchor="middle" fill="#000" stroke="#000" stroke-width="0.2" textLength="48.69" lengthAdjust="spacingAndGlyphs">d) Spring (AM)</text>
<text x="4.06" y="377.35" font-size="6.49" font-weight="bold" text-anchor="middle" fill="#000" stroke="#000" stroke-width="0.2" textLength="14.48" lengthAdjust="spacingAndGlyphs" transform="rotate(-90 4.06 377.35)">AOD</text>
<text x="224.80" y="377.35" font-size="6.49" font-weight="bold" text-anchor="middle" fill="#1e90ff" stroke="#1e90ff" stroke-width="0.2" textLength="76.67" lengthAdjust="spacingAndGlyphs" transform="rotate(-90 224.80 377.35)">Precipitation (mm/day)</text>
<text x="114.70" y="531.00" font-size="6.49" font-weight="bold" text-anchor="middle" fill="#000" stroke="#000" stroke-width="0.2" textLength="23.68" lengthAdjust="spacingAndGlyphs">Models</text>
<text x="33.86" y="472.90" font-size="6.21" text-anchor="end" fill="#000" stroke="#000" stroke-width="0.2" textLength="21.26" lengthAdjust="spacingAndGlyphs" transform="rotate(-70 33.86 472.90)">MIROC6</text>
<text x="41.82" y="472.90" font-size="6.21" text-anchor="end" fill="#000" stroke="#000" stroke-width="0.2" textLength="38.13" lengthAdjust="spacingAndGlyphs" transform="rotate(-70 41.82 472.90)">CNRM-ESM2-1</text>
<text x="49.78" y="472.90" font-size="6.21" text-anchor="end" fill="#000" stroke="#000" stroke-width="0.2" textLength="36.94" lengthAdjust="spacingAndGlyphs" transform="rotate(-70 49.78 472.90)">IPSL-CM6A-LR</text>
<text x="57.75" y="472.90" font-size="6.21" text-anchor="end" fill="#000" stroke="#000" stroke-width="0.2" textLength="52.97" lengthAdjust="spacingAndGlyphs" transform="rotate(-70 57.75 472.90)">CESM2-WACCM-FV2</text>
<text x="65.71" y="472.90" font-size="6.21" text-anchor="end" fill="#000" stroke="#000" stroke-width="0.2" textLength="33.80" lengthAdjust="spacingAndGlyphs" transform="rotate(-70 65.71 472.90)">NorESM2-LM</text>
<text x="73.68" y="472.90" font-size="6.21" text-anchor="end" fill="#000" stroke="#000" stroke-width="0.2" textLength="51.63" lengthAdjust="spacingAndGlyphs" transform="rotate(-70 73.68 472.90)">IPSL-CM6A-LR-INCA</text>
<text x="81.64" y="472.90" font-size="6.21" text-anchor="end" fill="#000" stroke="#000" stroke-width="0.2" textLength="35.43" lengthAdjust="spacingAndGlyphs" transform="rotate(-70 81.64 472.90)">NorESM2-MM</text>
<text x="89.61" y="472.90" font-size="6.21" text-anchor="end" fill="#000" stroke="#000" stroke-width="0.2" textLength="47.64" lengthAdjust="spacingAndGlyphs" transform="rotate(-70 89.61 472.90)">MPI-ESM-1-2-HAM</text>
<text x="97.57" y="472.90" font-size="6.21" text-anchor="end" fill="#000" stroke="#000" stroke-width="0.2" textLength="46.74" lengthAdjust="spacingAndGlyphs" transform="rotate(-70 97.57 472.90)">IPSL-CM5A2-INCA</text>
<text x="105.54" y="472.90" font-size="6.21" text-anchor="end" fill="#000" stroke="#000" stroke-width="0.2" textLength="31.97" lengthAdjust="spacingAndGlyphs" transform="rotate(-70 105.54 472.90)">MRI-ESM2-0</text>
<text x="113.50" y="472.90" font-size="6.21" text-anchor="end" fill="#000" stroke="#000" stroke-width="0.2" textLength="53.30" lengthAdjust="spacingAndGlyphs" transform="rotate(-70 113.50 472.90)">EC-Earth3-AerChem</text>
<text x="121.46" y="472.90" font-size="6.21" text-anchor="end" fill="#000" stroke="#000" stroke-width="0.2" textLength="32.84" lengthAdjust="spacingAndGlyphs" transform="rotate(-70 121.46 472.90)">GISS-E2-1-G</text>
<text x="129.43" y="472.90" font-size="6.21" text-anchor="end" fill="#000" stroke="#000" stroke-width="0.2" textLength="32.52" lengthAdjust="spacingAndGlyphs" transform="rotate(-70 129.43 472.90)">GISS-E2-1-H</text>
<text x="137.39" y="472.90" font-size="6.21" text-anchor="end" fill="#000" stroke="#000" stroke-width="0.2" textLength="29.22" lengthAdjust="spacingAndGlyphs" transform="rotate(-70 137.39 472.90)">INM-CM5-0</text>
<text x="145.36" y="472.90" font-size="6.21" text-anchor="end" fill="#000" stroke="#000" stroke-width="0.2" textLength="29.22" lengthAdjust="spacingAndGlyphs" transform="rotate(-70 145.36 472.90)">INM-CM4-8</text>
<text x="153.32" y="472.90" font-size="6.21" text-anchor="end" fill="#000" stroke="#000" stroke-width="0.2" textLength="32.84" lengthAdjust="spacingAndGlyphs" transform="rotate(-70 153.32 472.90)">GISS-E2-2-G</text>
<text x="169.25" y="472.90" font-size="6.21" text-anchor="end" fill="#000" stroke="#000" stroke-width="0.2" textLength="43.86" lengthAdjust="spacingAndGlyphs" transform="rotate(-70 169.25 472.90)">MMM (Low AOD)</text>
<text x="177.22" y="472.90" font-size="6.21" text-anchor="end" fill="#000" stroke="#000" stroke-width="0.2" textLength="45.62" lengthAdjust="spacingAndGlyphs" transform="rotate(-70 177.22 472.90)">MMM (High AOD)</text>
<text x="185.18" y="472.90" font-size="6.21" text-anchor="end" fill="#000" stroke="#000" stroke-width="0.2" textLength="26.36" lengthAdjust="spacingAndGlyphs" transform="rotate(-70 185.18 472.90)">MMM (All)</text>
<text x="193.14" y="472.90" font-size="6.21" text-anchor="end" fill="#000" stroke="#000" stroke-width="0.2" textLength="31.87" lengthAdjust="spacingAndGlyphs" transform="rotate(-70 193.14 472.90)">AEROSNOW</text>
<rect x="28.2" y="291.10" width="98.10" height="30.20" rx="1" fill="#fff" fill-opacity="0.8" stroke="#d0d0d0" stroke-width="0.6"/>
<rect x="29.80" y="292.90" width="10.80" height="3.80" fill="#0000cd"/>
<text x="44.00" y="296.60" font-size="5.50" text-anchor="start" fill="#000" stroke="#000" stroke-width="0.2" textLength="10.29" lengthAdjust="spacingAndGlyphs">SO4</text>
<rect x="29.80" y="300.30" width="10.80" height="3.80" fill="#ff0000"/>
<text x="44.00" y="304.00" font-size="5.50" text-anchor="start" fill="#000" stroke="#000" stroke-width="0.2" textLength="6.83" lengthAdjust="spacingAndGlyphs">BC</text>
<rect x="29.80" y="307.60" width="10.80" height="3.80" fill="#32cd32"/>
<text x="44.00" y="311.30" font-size="5.50" text-anchor="start" fill="#000" stroke="#000" stroke-width="0.2" textLength="7.27" lengthAdjust="spacingAndGlyphs">OA</text>
<rect x="29.80" y="314.90" width="10.80" height="3.80" fill="#ffd700"/>
<text x="44.00" y="318.60" font-size="5.50" text-anchor="start" fill="#000" stroke="#000" stroke-width="0.2" textLength="6.35" lengthAdjust="spacingAndGlyphs">SS</text>
<rect x="64.00" y="292.90" width="10.80" height="3.80" fill="#ff8c00"/>
<text x="78.30" y="296.60" font-size="5.50" text-anchor="start" fill="#000" stroke="#000" stroke-width="0.2" textLength="11.58" lengthAdjust="spacingAndGlyphs">Dust</text>
<line x1="64.0" y1="302.20" x2="74.8" y2="302.20" stroke="#1e90ff" stroke-width="1.0" stroke-dasharray="2.4 1.2"/>
<circle cx="69.4" cy="302.20" r="1.3" fill="#1e90ff"/>
<text x="78.30" y="304.00" font-size="5.50" text-anchor="start" fill="#000" stroke="#000" stroke-width="0.2" textLength="44.52" lengthAdjust="spacingAndGlyphs">Total Precipitation</text>
<line x1="64.0" y1="309.50" x2="74.8" y2="309.50" stroke="#ff0000" stroke-width="1.0" stroke-dasharray="2.4 1.2"/>
<circle cx="69.4" cy="309.50" r="1.3" fill="#ff0000"/>
<text x="78.30" y="311.30" font-size="5.50" text-anchor="start" fill="#000" stroke="#000" stroke-width="0.2" textLength="46.33" lengthAdjust="spacingAndGlyphs">Snow Precipitation</text>
<line x1="64.0" y1="316.80" x2="74.8" y2="316.80" stroke="#8a2be2" stroke-width="1.0" stroke-dasharray="2.4 1.2"/>
<circle cx="69.4" cy="316.80" r="1.3" fill="#8a2be2"/>
<text x="78.30" y="318.60" font-size="5.50" text-anchor="start" fill="#000" stroke="#000" stroke-width="0.2" textLength="43.83" lengthAdjust="spacingAndGlyphs">Rain Precipitation</text>
<path d="M264.83 466.20v2.6 M264.83 288.50v-1.8 M272.78 466.20v2.6 M272.78 288.50v-1.8 M280.73 466.20v2.6 M280.73 288.50v-1.8 M288.67 466.20v2.6 M288.67 288.50v-1.8 M296.62 466.20v2.6 M296.62 288.50v-1.8 M304.57 466.20v2.6 M304.57 288.50v-1.8 M312.51 466.20v2.6 M312.51 288.50v-1.8 M320.46 466.20v2.6 M320.46 288.50v-1.8 M328.41 466.20v2.6 M328.41 288.50v-1.8 M336.35 466.20v2.6 M336.35 288.50v-1.8 M344.30 466.20v2.6 M344.30 288.50v-1.8 M352.25 466.20v2.6 M352.25 288.50v-1.8 M360.19 466.20v2.6 M360.19 288.50v-1.8 M368.14 466.20v2.6 M368.14 288.50v-1.8 M376.09 466.20v2.6 M376.09 288.50v-1.8 M384.03 466.20v2.6 M384.03 288.50v-1.8 M391.98 466.20v2.6 M391.98 288.50v-1.8 M399.93 466.20v2.6 M399.93 288.50v-1.8 M407.87 466.20v2.6 M407.87 288.50v-1.8 M415.82 466.20v2.6 M415.82 288.50v-1.8 M423.77 466.20v2.6 M423.77 288.50v-1.8 M254.90 466.20h-2.6 M254.90 446.46h-2.6 M254.90 426.71h-2.6 M254.90 406.97h-2.6 M254.90 387.22h-2.6 M254.90 367.48h-2.6 M254.90 347.73h-2.6 M254.90 327.99h-2.6 M254.90 308.24h-2.6 M254.90 288.50h-2.6 M254.90 456.33h-1.5 M254.90 436.58h-1.5 M254.90 416.84h-1.5 M254.90 397.09h-1.5 M254.90 377.35h-1.5 M254.90 357.61h-1.5 M254.90 337.86h-1.5 M254.90 318.12h-1.5 M254.90 298.37h-1.5" stroke="#000" stroke-width="0.6" fill="none"/>
<path d="M433.70 466.20h2.6 M433.70 440.81h2.6 M433.70 415.43h2.6 M433.70 390.04h2.6 M433.70 364.66h2.6 M433.70 339.27h2.6 M433.70 313.89h2.6 M433.70 288.50h2.6 M433.70 459.85h1.5 M433.70 453.51h1.5 M433.70 447.16h1.5 M433.70 434.47h1.5 M433.70 428.12h1.5 M433.70 421.77h1.5 M433.70 409.08h1.5 M433.70 402.74h1.5 M433.70 396.39h1.5 M433.70 383.70h1.5 M433.70 377.35h1.5 M433.70 371.00h1.5 M433.70 358.31h1.5 M433.70 351.96h1.5 M433.70 345.62h1.5 M433.70 332.92h1.5 M433.70 326.58h1.5 M433.70 320.23h1.5 M433.70 307.54h1.5 M433.70 301.19h1.5 M433.70 294.85h1.5" stroke="#1e90ff" stroke-width="0.6" fill="none"/>
<text x="250.40" y="468.30" font-size="6.49" text-anchor="end" fill="#000" stroke="#000" stroke-width="0.2" textLength="13.14" lengthAdjust="spacingAndGlyphs">0.00</text>
<text x="250.40" y="448.56" font-size="6.49" text-anchor="end" fill="#000" stroke="#000" stroke-width="0.2" textLength="13.14" lengthAdjust="spacingAndGlyphs">0.05</text>
<text x="250.40" y="428.81" font-size="6.49" text-anchor="end" fill="#000" stroke="#000" stroke-width="0.2" textLength="13.14" lengthAdjust="spacingAndGlyphs">0.10</text>
<text x="250.40" y="409.07" font-size="6.49" text-anchor="end" fill="#000" stroke="#000" stroke-width="0.2" textLength="13.14" lengthAdjust="spacingAndGlyphs">0.15</text>
<text x="250.40" y="389.32" font-size="6.49" text-anchor="end" fill="#000" stroke="#000" stroke-width="0.2" textLength="13.14" lengthAdjust="spacingAndGlyphs">0.20</text>
<text x="250.40" y="369.58" font-size="6.49" text-anchor="end" fill="#000" stroke="#000" stroke-width="0.2" textLength="13.14" lengthAdjust="spacingAndGlyphs">0.25</text>
<text x="250.40" y="349.83" font-size="6.49" text-anchor="end" fill="#000" stroke="#000" stroke-width="0.2" textLength="13.14" lengthAdjust="spacingAndGlyphs">0.30</text>
<text x="250.40" y="330.09" font-size="6.49" text-anchor="end" fill="#000" stroke="#000" stroke-width="0.2" textLength="13.14" lengthAdjust="spacingAndGlyphs">0.35</text>
<text x="250.40" y="310.34" font-size="6.49" text-anchor="end" fill="#000" stroke="#000" stroke-width="0.2" textLength="13.14" lengthAdjust="spacingAndGlyphs">0.40</text>
<text x="250.40" y="290.60" font-size="6.49" text-anchor="end" fill="#000" stroke="#000" stroke-width="0.2" textLength="13.14" lengthAdjust="spacingAndGlyphs">0.45</text>
<text x="437.90" y="469.10" font-size="6.49" text-anchor="start" fill="#1e90ff" stroke="#1e90ff" stroke-width="0.2" textLength="9.38" lengthAdjust="spacingAndGlyphs">0.0</text>
<text x="437.90" y="443.71" font-size="6.49" text-anchor="start" fill="#1e90ff" stroke="#1e90ff" stroke-width="0.2" textLength="9.38" lengthAdjust="spacingAndGlyphs">0.2</text>
<text x="437.90" y="418.33" font-size="6.49" text-anchor="start" fill="#1e90ff" stroke="#1e90ff" stroke-width="0.2" textLength="9.38" lengthAdjust="spacingAndGlyphs">0.4</text>
<text x="437.90" y="392.94" font-size="6.49" text-anchor="start" fill="#1e90ff" stroke="#1e90ff" stroke-width="0.2" textLength="9.38" lengthAdjust="spacingAndGlyphs">0.6</text>
<text x="437.90" y="367.56" font-size="6.49" text-anchor="start" fill="#1e90ff" stroke="#1e90ff" stroke-width="0.2" textLength="9.38" lengthAdjust="spacingAndGlyphs">0.8</text>
<text x="437.90" y="342.17" font-size="6.49" text-anchor="start" fill="#1e90ff" stroke="#1e90ff" stroke-width="0.2" textLength="9.38" lengthAdjust="spacingAndGlyphs">1.0</text>
<text x="437.90" y="316.79" font-size="6.49" text-anchor="start" fill="#1e90ff" stroke="#1e90ff" stroke-width="0.2" textLength="9.38" lengthAdjust="spacingAndGlyphs">1.2</text>
<text x="437.90" y="291.40" font-size="6.49" text-anchor="start" fill="#1e90ff" stroke="#1e90ff" stroke-width="0.2" textLength="9.38" lengthAdjust="spacingAndGlyphs">1.4</text>
<rect x="262.85" y="463.70" width="3.97" height="2.50" fill="#0000cd"/>
<rect x="262.85" y="463.30" width="3.97" height="0.40" fill="#ff0000"/>
<rect x="262.85" y="460.40" width="3.97" height="2.90" fill="#32cd32"/>
<rect x="262.85" y="458.30" width="3.97" height="2.10" fill="#ffd700"/>
<rect x="262.85" y="456.70" width="3.97" height="1.60" fill="#ff8c00"/>
<line x1="264.83" y1="456.70" x2="264.83" y2="453.40" stroke="#000" stroke-opacity="0.55" stroke-width="0.6"/>
<line x1="263.33" y1="453.40" x2="266.33" y2="453.40" stroke="#000" stroke-width="0.8"/>
<line x1="263.33" y1="458.30" x2="266.33" y2="458.30" stroke="#000" stroke-width="0.8"/>
<rect x="270.79" y="461.60" width="3.97" height="4.60" fill="#0000cd"/>
<rect x="270.79" y="461.30" width="3.97" height="0.30" fill="#ff0000"/>
<rect x="270.79" y="458.80" width="3.97" height="2.50" fill="#32cd32"/>
<rect x="270.79" y="457.50" width="3.97" height="1.30" fill="#ffd700"/>
<rect x="270.79" y="455.90" width="3.97" height="1.60" fill="#ff8c00"/>
<line x1="272.78" y1="455.90" x2="272.78" y2="455.00" stroke="#000" stroke-opacity="0.55" stroke-width="0.6"/>
<line x1="271.28" y1="455.00" x2="274.28" y2="455.00" stroke="#000" stroke-width="0.8"/>
<line x1="271.28" y1="457.50" x2="274.28" y2="457.50" stroke="#000" stroke-width="0.8"/>
<rect x="278.74" y="460.80" width="3.97" height="5.40" fill="#0000cd"/>
<rect x="278.74" y="460.50" width="3.97" height="0.30" fill="#ff0000"/>
<rect x="278.74" y="458.80" width="3.97" height="1.70" fill="#32cd32"/>
<rect x="278.74" y="457.50" width="3.97" height="1.30" fill="#ffd700"/>
<rect x="278.74" y="455.90" width="3.97" height="1.60" fill="#ff8c00"/>
<line x1="280.73" y1="455.90" x2="280.73" y2="455.50" stroke="#000" stroke-opacity="0.55" stroke-width="0.6"/>
<line x1="279.23" y1="455.50" x2="282.23" y2="455.50" stroke="#000" stroke-width="0.8"/>
<line x1="279.23" y1="457.50" x2="282.23" y2="457.50" stroke="#000" stroke-width="0.8"/>
<rect x="286.69" y="461.60" width="3.97" height="4.60" fill="#0000cd"/>
<rect x="286.69" y="461.20" width="3.97" height="0.40" fill="#ff0000"/>
<rect x="286.69" y="458.80" width="3.97" height="2.40" fill="#32cd32"/>
<rect x="286.69" y="456.80" width="3.97" height="2.00" fill="#ffd700"/>
<rect x="286.69" y="454.50" width="3.97" height="2.30" fill="#ff8c00"/>
<line x1="288.67" y1="454.50" x2="288.67" y2="453.40" stroke="#000" stroke-opacity="0.55" stroke-width="0.6"/>
<line x1="287.17" y1="453.40" x2="290.17" y2="453.40" stroke="#000" stroke-width="0.8"/>
<line x1="287.17" y1="456.80" x2="290.17" y2="456.80" stroke="#000" stroke-width="0.8"/>
<rect x="294.63" y="459.10" width="3.97" height="7.10" fill="#0000cd"/>
<rect x="294.63" y="458.30" width="3.97" height="0.80" fill="#ff0000"/>
<rect x="294.63" y="454.20" width="3.97" height="4.10" fill="#32cd32"/>
<rect x="294.63" y="452.50" width="3.97" height="1.70" fill="#ffd700"/>
<rect x="294.63" y="450.60" width="3.97" height="1.90" fill="#ff8c00"/>
<line x1="296.62" y1="450.60" x2="296.62" y2="445.20" stroke="#000" stroke-opacity="0.55" stroke-width="0.6"/>
<line x1="295.12" y1="445.20" x2="298.12" y2="445.20" stroke="#000" stroke-width="0.8"/>
<line x1="295.12" y1="452.50" x2="298.12" y2="452.50" stroke="#000" stroke-width="0.8"/>
<rect x="302.58" y="462.70" width="3.97" height="3.50" fill="#0000cd"/>
<rect x="302.58" y="462.30" width="3.97" height="0.40" fill="#ff0000"/>
<rect x="302.58" y="455.90" width="3.97" height="6.40" fill="#32cd32"/>
<rect x="302.58" y="453.40" width="3.97" height="2.50" fill="#ffd700"/>
<rect x="302.58" y="450.60" width="3.97" height="2.80" fill="#ff8c00"/>
<line x1="304.57" y1="450.60" x2="304.57" y2="448.50" stroke="#000" stroke-opacity="0.55" stroke-width="0.6"/>
<line x1="303.07" y1="448.50" x2="306.07" y2="448.50" stroke="#000" stroke-width="0.8"/>
<line x1="303.07" y1="453.40" x2="306.07" y2="453.40" stroke="#000" stroke-width="0.8"/>
<rect x="310.53" y="462.70" width="3.97" height="3.50" fill="#0000cd"/>
<rect x="310.53" y="462.30" width="3.97" height="0.40" fill="#ff0000"/>
<rect x="310.53" y="455.90" width="3.97" height="6.40" fill="#32cd32"/>
<rect x="310.53" y="453.40" width="3.97" height="2.50" fill="#ffd700"/>
<rect x="310.53" y="450.10" width="3.97" height="3.30" fill="#ff8c00"/>
<line x1="312.51" y1="450.10" x2="312.51" y2="448.50" stroke="#000" stroke-opacity="0.55" stroke-width="0.6"/>
<line x1="311.01" y1="448.50" x2="314.01" y2="448.50" stroke="#000" stroke-width="0.8"/>
<line x1="311.01" y1="453.40" x2="314.01" y2="453.40" stroke="#000" stroke-width="0.8"/>
<rect x="318.47" y="454.50" width="3.97" height="11.70" fill="#0000cd"/>
<rect x="318.47" y="453.90" width="3.97" height="0.60" fill="#ff0000"/>
<rect x="318.47" y="451.80" width="3.97" height="2.10" fill="#32cd32"/>
<rect x="318.47" y="449.30" width="3.97" height="2.50" fill="#ffd700"/>
<rect x="318.47" y="446.80" width="3.97" height="2.50" fill="#ff8c00"/>
<line x1="320.46" y1="446.80" x2="320.46" y2="445.20" stroke="#000" stroke-opacity="0.55" stroke-width="0.6"/>
<line x1="318.96" y1="445.20" x2="321.96" y2="445.20" stroke="#000" stroke-width="0.8"/>
<line x1="318.96" y1="449.30" x2="321.96" y2="449.30" stroke="#000" stroke-width="0.8"/>
<rect x="326.42" y="458.30" width="3.97" height="7.90" fill="#0000cd"/>
<rect x="326.42" y="457.50" width="3.97" height="0.80" fill="#ff0000"/>
<rect x="326.42" y="448.50" width="3.97" height="9.00" fill="#32cd32"/>
<rect x="326.42" y="445.20" width="3.97" height="3.30" fill="#ffd700"/>
<rect x="326.42" y="443.60" width="3.97" height="1.60" fill="#ff8c00"/>
<line x1="328.41" y1="443.60" x2="328.41" y2="440.30" stroke="#000" stroke-opacity="0.55" stroke-width="0.6"/>
<line x1="326.91" y1="440.30" x2="329.91" y2="440.30" stroke="#000" stroke-width="0.8"/>
<line x1="326.91" y1="445.20" x2="329.91" y2="445.20" stroke="#000" stroke-width="0.8"/>
<rect x="334.37" y="450.90" width="3.97" height="15.30" fill="#0000cd"/>
<rect x="334.37" y="449.30" width="3.97" height="1.60" fill="#ff0000"/>
<rect x="334.37" y="446.80" width="3.97" height="2.50" fill="#32cd32"/>
<rect x="334.37" y="443.60" width="3.97" height="3.20" fill="#ffd700"/>
<rect x="334.37" y="441.90" width="3.97" height="1.70" fill="#ff8c00"/>
<line x1="336.35" y1="441.90" x2="336.35" y2="440.30" stroke="#000" stroke-opacity="0.55" stroke-width="0.6"/>
<line x1="334.85" y1="440.30" x2="337.85" y2="440.30" stroke="#000" stroke-width="0.8"/>
<line x1="334.85" y1="443.60" x2="337.85" y2="443.60" stroke="#000" stroke-width="0.8"/>
<rect x="342.31" y="447.70" width="3.97" height="18.50" fill="#0000cd"/>
<rect x="342.31" y="446.90" width="3.97" height="0.80" fill="#ff0000"/>
<rect x="342.31" y="444.40" width="3.97" height="2.50" fill="#32cd32"/>
<rect x="342.31" y="442.40" width="3.97" height="2.00" fill="#ffd700"/>
<rect x="342.31" y="441.10" width="3.97" height="1.30" fill="#ff8c00"/>
<line x1="344.30" y1="441.10" x2="344.30" y2="438.10" stroke="#000" stroke-opacity="0.55" stroke-width="0.6"/>
<line x1="342.80" y1="438.10" x2="345.80" y2="438.10" stroke="#000" stroke-width="0.8"/>
<line x1="342.80" y1="442.40" x2="345.80" y2="442.40" stroke="#000" stroke-width="0.8"/>
<rect x="350.26" y="433.70" width="3.97" height="32.50" fill="#0000cd"/>
<rect x="350.26" y="432.90" width="3.97" height="0.80" fill="#ff0000"/>
<rect x="350.26" y="426.30" width="3.97" height="6.60" fill="#32cd32"/>
<rect x="350.26" y="410.00" width="3.97" height="16.30" fill="#ffd700"/>
<rect x="350.26" y="407.50" width="3.97" height="2.50" fill="#ff8c00"/>
<line x1="352.25" y1="407.50" x2="352.25" y2="403.10" stroke="#000" stroke-opacity="0.55" stroke-width="0.6"/>
<line x1="350.75" y1="403.10" x2="353.75" y2="403.10" stroke="#000" stroke-width="0.8"/>
<line x1="350.75" y1="412.40" x2="353.75" y2="412.40" stroke="#000" stroke-width="0.8"/>
<rect x="358.21" y="434.50" width="3.97" height="31.70" fill="#0000cd"/>
<rect x="358.21" y="433.70" width="3.97" height="0.80" fill="#ff0000"/>
<rect x="358.21" y="427.20" width="3.97" height="6.50" fill="#32cd32"/>
<rect x="358.21" y="409.10" width="3.97" height="18.10" fill="#ffd700"/>
<rect x="358.21" y="405.90" width="3.97" height="3.20" fill="#ff8c00"/>
<line x1="360.19" y1="405.90" x2="360.19" y2="402.20" stroke="#000" stroke-opacity="0.55" stroke-width="0.6"/>
<line x1="358.69" y1="402.20" x2="361.69" y2="402.20" stroke="#000" stroke-width="0.8"/>
<line x1="358.69" y1="409.10" x2="361.69" y2="409.10" stroke="#000" stroke-width="0.8"/>
<rect x="366.15" y="443.60" width="3.97" height="22.60" fill="#0000cd"/>
<rect x="366.15" y="440.60" width="3.97" height="3.00" fill="#ff0000"/>
<rect x="366.15" y="426.00" width="3.97" height="14.60" fill="#32cd32"/>
<rect x="366.15" y="410.50" width="3.97" height="15.50" fill="#ffd700"/>
<rect x="366.15" y="404.50" width="3.97" height="6.00" fill="#ff8c00"/>
<line x1="368.14" y1="404.50" x2="368.14" y2="396.00" stroke="#000" stroke-opacity="0.55" stroke-width="0.6"/>
<line x1="366.64" y1="396.00" x2="369.64" y2="396.00" stroke="#000" stroke-width="0.8"/>
<line x1="366.64" y1="413.20" x2="369.64" y2="413.20" stroke="#000" stroke-width="0.8"/>
<rect x="374.10" y="442.40" width="3.97" height="23.80" fill="#0000cd"/>
<rect x="374.10" y="439.50" width="3.97" height="2.90" fill="#ff0000"/>
<rect x="374.10" y="425.20" width="3.97" height="14.30" fill="#32cd32"/>
<rect x="374.10" y="408.50" width="3.97" height="16.70" fill="#ffd700"/>
<rect x="374.10" y="402.90" width="3.97" height="5.60" fill="#ff8c00"/>
<line x1="376.09" y1="402.90" x2="376.09" y2="393.20" stroke="#000" stroke-opacity="0.55" stroke-width="0.6"/>
<line x1="374.59" y1="393.20" x2="377.59" y2="393.20" stroke="#000" stroke-width="0.8"/>
<line x1="374.59" y1="412.40" x2="377.59" y2="412.40" stroke="#000" stroke-width="0.8"/>
<rect x="382.05" y="398.50" width="3.97" height="67.70" fill="#0000cd"/>
<rect x="382.05" y="397.90" width="3.97" height="0.60" fill="#ff0000"/>
<rect x="382.05" y="388.60" width="3.97" height="9.30" fill="#32cd32"/>
<rect x="382.05" y="376.30" width="3.97" height="12.30" fill="#ffd700"/>
<rect x="382.05" y="369.80" width="3.97" height="6.50" fill="#ff8c00"/>
<line x1="384.03" y1="369.80" x2="384.03" y2="355.90" stroke="#000" stroke-opacity="0.55" stroke-width="0.6"/>
<line x1="382.53" y1="355.90" x2="385.53" y2="355.90" stroke="#000" stroke-width="0.8"/>
<line x1="382.53" y1="384.50" x2="385.53" y2="384.50" stroke="#000" stroke-width="0.8"/>
<rect x="397.94" y="458.30" width="3.97" height="7.90" fill="#0000cd"/>
<rect x="397.94" y="457.80" width="3.97" height="0.50" fill="#ff0000"/>
<rect x="397.94" y="453.40" width="3.97" height="4.40" fill="#32cd32"/>
<rect x="397.94" y="451.80" width="3.97" height="1.60" fill="#ffd700"/>
<rect x="397.94" y="449.80" width="3.97" height="2.00" fill="#ff8c00"/>
<line x1="399.93" y1="449.80" x2="399.93" y2="447.30" stroke="#000" stroke-opacity="0.55" stroke-width="0.6"/>
<line x1="398.43" y1="447.30" x2="401.43" y2="447.30" stroke="#000" stroke-width="0.8"/>
<line x1="398.43" y1="451.80" x2="401.43" y2="451.80" stroke="#000" stroke-width="0.8"/>
<rect x="405.89" y="430.40" width="3.97" height="35.80" fill="#0000cd"/>
<rect x="405.89" y="428.30" width="3.97" height="2.10" fill="#ff0000"/>
<rect x="405.89" y="418.10" width="3.97" height="10.20" fill="#32cd32"/>
<rect x="405.89" y="402.50" width="3.97" height="15.60" fill="#ffd700"/>
<rect x="405.89" y="398.10" width="3.97" height="4.40" fill="#ff8c00"/>
<line x1="407.87" y1="398.10" x2="407.87" y2="390.30" stroke="#000" stroke-opacity="0.55" stroke-width="0.6"/>
<line x1="406.37" y1="390.30" x2="409.37" y2="390.30" stroke="#000" stroke-width="0.8"/>
<line x1="406.37" y1="406.20" x2="409.37" y2="406.20" stroke="#000" stroke-width="0.8"/>
<rect x="413.83" y="449.30" width="3.97" height="16.90" fill="#0000cd"/>
<rect x="413.83" y="448.50" width="3.97" height="0.80" fill="#ff0000"/>
<rect x="413.83" y="442.70" width="3.97" height="5.80" fill="#32cd32"/>
<rect x="413.83" y="435.40" width="3.97" height="7.30" fill="#ffd700"/>
<rect x="413.83" y="433.70" width="3.97" height="1.70" fill="#ff8c00"/>
<line x1="415.82" y1="433.70" x2="415.82" y2="430.40" stroke="#000" stroke-opacity="0.55" stroke-width="0.6"/>
<line x1="414.32" y1="430.40" x2="417.32" y2="430.40" stroke="#000" stroke-width="0.8"/>
<line x1="414.32" y1="435.40" x2="417.32" y2="435.40" stroke="#000" stroke-width="0.8"/>
<rect x="421.78" y="435.50" width="3.97" height="30.70" fill="#bf00bf"/>
<line x1="423.77" y1="432.10" x2="423.77" y2="439.10" stroke="#808080" stroke-opacity="0.55" stroke-width="0.8"/>
<line x1="422.27" y1="432.10" x2="425.27" y2="432.10" stroke="#000" stroke-width="0.8"/>
<line x1="422.27" y1="439.10" x2="425.27" y2="439.10" stroke="#000" stroke-width="0.8"/>
<line x1="255.00" y1="428.00" x2="433.70" y2="428.00" stroke="#cc33cc" stroke-opacity="0.7" stroke-width="1.1" stroke-dasharray="1 1"/>
<line x1="255.00" y1="443.10" x2="433.70" y2="443.10" stroke="#cc33cc" stroke-opacity="0.7" stroke-width="1.1" stroke-dasharray="1 1"/>
<line x1="254.90" y1="435.50" x2="433.70" y2="435.50" stroke="#cc00cc" stroke-opacity="0.9" stroke-width="1.0"/>
<line x1="391.98" y1="288.50" x2="391.98" y2="466.20" stroke="#777" stroke-width="1.5"/>
<path d="M264.83 332.20 L272.78 337.20 L280.73 323.70 L288.67 331.30 L296.62 334.20 L304.57 346.00" fill="none" stroke="#1e90ff" stroke-width="1.15" stroke-dasharray="2.6 1.3"/>
<path d="M399.93 333.20 L407.87 347.70 L415.82 340.30" fill="none" stroke="#1e90ff" stroke-width="1.15" stroke-dasharray="2.6 1.3"/>
<circle cx="264.83" cy="332.20" r="1.35" fill="#1e90ff"/>
<circle cx="272.78" cy="337.20" r="1.35" fill="#1e90ff"/>
<circle cx="280.73" cy="323.70" r="1.35" fill="#1e90ff"/>
<circle cx="288.67" cy="331.30" r="1.35" fill="#1e90ff"/>
<circle cx="296.62" cy="334.20" r="1.35" fill="#1e90ff"/>
<circle cx="304.57" cy="346.00" r="1.35" fill="#1e90ff"/>
<circle cx="336.35" cy="326.70" r="1.35" fill="#1e90ff"/>
<circle cx="360.19" cy="347.30" r="1.35" fill="#1e90ff"/>
<circle cx="399.93" cy="333.20" r="1.35" fill="#1e90ff"/>
<circle cx="407.87" cy="347.70" r="1.35" fill="#1e90ff"/>
<circle cx="415.82" cy="340.30" r="1.35" fill="#1e90ff"/>
<path d="M264.83 404.40 L272.78 414.00 L280.73 403.70 L288.67 421.10 L296.62 429.00 L304.57 413.60" fill="none" stroke="#ff0000" stroke-width="1.15" stroke-dasharray="2.6 1.3"/>
<path d="M399.93 412.90 L407.87 361.90 L415.82 387.30" fill="none" stroke="#ff0000" stroke-width="1.15" stroke-dasharray="2.6 1.3"/>
<circle cx="264.83" cy="404.40" r="1.35" fill="#ff0000"/>
<circle cx="272.78" cy="414.00" r="1.35" fill="#ff0000"/>
<circle cx="280.73" cy="403.70" r="1.35" fill="#ff0000"/>
<circle cx="288.67" cy="421.10" r="1.35" fill="#ff0000"/>
<circle cx="296.62" cy="429.00" r="1.35" fill="#ff0000"/>
<circle cx="304.57" cy="413.60" r="1.35" fill="#ff0000"/>
<circle cx="336.35" cy="404.70" r="1.35" fill="#ff0000"/>
<circle cx="360.19" cy="361.90" r="1.35" fill="#ff0000"/>
<circle cx="399.93" cy="412.90" r="1.35" fill="#ff0000"/>
<circle cx="407.87" cy="361.90" r="1.35" fill="#ff0000"/>
<circle cx="415.82" cy="387.30" r="1.35" fill="#ff0000"/>
<path d="M264.83 394.00 L272.78 389.10 L280.73 386.20 L288.67 376.70 L296.62 371.40 L304.57 399.00" fill="none" stroke="#8a2be2" stroke-width="1.15" stroke-dasharray="2.6 1.3"/>
<path d="M399.93 386.20 L407.87 450.90 L415.82 418.60" fill="none" stroke="#8a2be2" stroke-width="1.15" stroke-dasharray="2.6 1.3"/>
<circle cx="264.83" cy="394.00" r="1.35" fill="#8a2be2"/>
<circle cx="272.78" cy="389.10" r="1.35" fill="#8a2be2"/>
<circle cx="280.73" cy="386.20" r="1.35" fill="#8a2be2"/>
<circle cx="288.67" cy="376.70" r="1.35" fill="#8a2be2"/>
<circle cx="296.62" cy="371.40" r="1.35" fill="#8a2be2"/>
<circle cx="304.57" cy="399.00" r="1.35" fill="#8a2be2"/>
<circle cx="336.35" cy="388.10" r="1.35" fill="#8a2be2"/>
<circle cx="360.19" cy="451.80" r="1.35" fill="#8a2be2"/>
<circle cx="399.93" cy="386.20" r="1.35" fill="#8a2be2"/>
<circle cx="407.87" cy="450.90" r="1.35" fill="#8a2be2"/>
<circle cx="415.82" cy="418.60" r="1.35" fill="#8a2be2"/>
<rect x="254.90" y="288.50" width="178.80" height="177.70" fill="none" stroke="#000" stroke-width="0.8"/>
<text x="344.30" y="282.30" font-size="6.49" font-weight="bold" text-anchor="middle" fill="#000" stroke="#000" stroke-width="0.2" textLength="52.81" lengthAdjust="spacingAndGlyphs">e) Summer (JJA)</text>
<text x="233.86" y="377.35" font-size="6.49" font-weight="bold" text-anchor="middle" fill="#000" stroke="#000" stroke-width="0.2" textLength="14.48" lengthAdjust="spacingAndGlyphs" transform="rotate(-90 233.86 377.35)">AOD</text>
<text x="454.20" y="377.35" font-size="6.49" font-weight="bold" text-anchor="middle" fill="#1e90ff" stroke="#1e90ff" stroke-width="0.2" textLength="76.67" lengthAdjust="spacingAndGlyphs" transform="rotate(-90 454.20 377.35)">Precipitation (mm/day)</text>
<text x="344.30" y="531.00" font-size="6.49" font-weight="bold" text-anchor="middle" fill="#000" stroke="#000" stroke-width="0.2" textLength="23.68" lengthAdjust="spacingAndGlyphs">Models</text>
<text x="263.63" y="472.90" font-size="6.21" text-anchor="end" fill="#000" stroke="#000" stroke-width="0.2" textLength="21.26" lengthAdjust="spacingAndGlyphs" transform="rotate(-70 263.63 472.90)">MIROC6</text>
<text x="271.58" y="472.90" font-size="6.21" text-anchor="end" fill="#000" stroke="#000" stroke-width="0.2" textLength="38.13" lengthAdjust="spacingAndGlyphs" transform="rotate(-70 271.58 472.90)">CNRM-ESM2-1</text>
<text x="279.53" y="472.90" font-size="6.21" text-anchor="end" fill="#000" stroke="#000" stroke-width="0.2" textLength="36.94" lengthAdjust="spacingAndGlyphs" transform="rotate(-70 279.53 472.90)">IPSL-CM6A-LR</text>
<text x="287.47" y="472.90" font-size="6.21" text-anchor="end" fill="#000" stroke="#000" stroke-width="0.2" textLength="47.64" lengthAdjust="spacingAndGlyphs" transform="rotate(-70 287.47 472.90)">MPI-ESM-1-2-HAM</text>
<text x="295.42" y="472.90" font-size="6.21" text-anchor="end" fill="#000" stroke="#000" stroke-width="0.2" textLength="52.97" lengthAdjust="spacingAndGlyphs" transform="rotate(-70 295.42 472.90)">CESM2-WACCM-FV2</text>
<text x="303.37" y="472.90" font-size="6.21" text-anchor="end" fill="#000" stroke="#000" stroke-width="0.2" textLength="33.80" lengthAdjust="spacingAndGlyphs" transform="rotate(-70 303.37 472.90)">NorESM2-LM</text>
<text x="311.31" y="472.90" font-size="6.21" text-anchor="end" fill="#000" stroke="#000" stroke-width="0.2" textLength="35.43" lengthAdjust="spacingAndGlyphs" transform="rotate(-70 311.31 472.90)">NorESM2-MM</text>
<text x="319.26" y="472.90" font-size="6.21" text-anchor="end" fill="#000" stroke="#000" stroke-width="0.2" textLength="51.63" lengthAdjust="spacingAndGlyphs" transform="rotate(-70 319.26 472.90)">IPSL-CM6A-LR-INCA</text>
<text x="327.21" y="472.90" font-size="6.21" text-anchor="end" fill="#000" stroke="#000" stroke-width="0.2" textLength="53.30" lengthAdjust="spacingAndGlyphs" transform="rotate(-70 327.21 472.90)">EC-Earth3-AerChem</text>
<text x="335.15" y="472.90" font-size="6.21" text-anchor="end" fill="#000" stroke="#000" stroke-width="0.2" textLength="31.97" lengthAdjust="spacingAndGlyphs" transform="rotate(-70 335.15 472.90)">MRI-ESM2-0</text>
<text x="343.10" y="472.90" font-size="6.21" text-anchor="end" fill="#000" stroke="#000" stroke-width="0.2" textLength="46.74" lengthAdjust="spacingAndGlyphs" transform="rotate(-70 343.10 472.90)">IPSL-CM5A2-INCA</text>
<text x="351.05" y="472.90" font-size="6.21" text-anchor="end" fill="#000" stroke="#000" stroke-width="0.2" textLength="32.52" lengthAdjust="spacingAndGlyphs" transform="rotate(-70 351.05 472.90)">GISS-E2-1-H</text>
<text x="358.99" y="472.90" font-size="6.21" text-anchor="end" fill="#000" stroke="#000" stroke-width="0.2" textLength="32.84" lengthAdjust="spacingAndGlyphs" transform="rotate(-70 358.99 472.90)">GISS-E2-1-G</text>
<text x="366.94" y="472.90" font-size="6.21" text-anchor="end" fill="#000" stroke="#000" stroke-width="0.2" textLength="29.22" lengthAdjust="spacingAndGlyphs" transform="rotate(-70 366.94 472.90)">INM-CM5-0</text>
<text x="374.89" y="472.90" font-size="6.21" text-anchor="end" fill="#000" stroke="#000" stroke-width="0.2" textLength="29.22" lengthAdjust="spacingAndGlyphs" transform="rotate(-70 374.89 472.90)">INM-CM4-8</text>
<text x="382.83" y="472.90" font-size="6.21" text-anchor="end" fill="#000" stroke="#000" stroke-width="0.2" textLength="32.84" lengthAdjust="spacingAndGlyphs" transform="rotate(-70 382.83 472.90)">GISS-E2-2-G</text>
<text x="398.73" y="472.90" font-size="6.21" text-anchor="end" fill="#000" stroke="#000" stroke-width="0.2" textLength="43.86" lengthAdjust="spacingAndGlyphs" transform="rotate(-70 398.73 472.90)">MMM (Low AOD)</text>
<text x="406.67" y="472.90" font-size="6.21" text-anchor="end" fill="#000" stroke="#000" stroke-width="0.2" textLength="45.62" lengthAdjust="spacingAndGlyphs" transform="rotate(-70 406.67 472.90)">MMM (High AOD)</text>
<text x="414.62" y="472.90" font-size="6.21" text-anchor="end" fill="#000" stroke="#000" stroke-width="0.2" textLength="26.36" lengthAdjust="spacingAndGlyphs" transform="rotate(-70 414.62 472.90)">MMM (All)</text>
<text x="422.57" y="472.90" font-size="6.21" text-anchor="end" fill="#000" stroke="#000" stroke-width="0.2" textLength="31.87" lengthAdjust="spacingAndGlyphs" transform="rotate(-70 422.57 472.90)">AEROSNOW</text>
<path d="M494.02 466.20v2.6 M494.02 288.50v-1.8 M501.96 466.20v2.6 M501.96 288.50v-1.8 M509.90 466.20v2.6 M509.90 288.50v-1.8 M517.84 466.20v2.6 M517.84 288.50v-1.8 M525.77 466.20v2.6 M525.77 288.50v-1.8 M533.71 466.20v2.6 M533.71 288.50v-1.8 M541.65 466.20v2.6 M541.65 288.50v-1.8 M549.59 466.20v2.6 M549.59 288.50v-1.8 M557.52 466.20v2.6 M557.52 288.50v-1.8 M565.46 466.20v2.6 M565.46 288.50v-1.8 M573.40 466.20v2.6 M573.40 288.50v-1.8 M581.34 466.20v2.6 M581.34 288.50v-1.8 M589.28 466.20v2.6 M589.28 288.50v-1.8 M597.21 466.20v2.6 M597.21 288.50v-1.8 M605.15 466.20v2.6 M605.15 288.50v-1.8 M613.09 466.20v2.6 M613.09 288.50v-1.8 M621.03 466.20v2.6 M621.03 288.50v-1.8 M628.96 466.20v2.6 M628.96 288.50v-1.8 M636.90 466.20v2.6 M636.90 288.50v-1.8 M644.84 466.20v2.6 M644.84 288.50v-1.8 M652.78 466.20v2.6 M652.78 288.50v-1.8 M484.10 466.20h-2.6 M484.10 446.46h-2.6 M484.10 426.71h-2.6 M484.10 406.97h-2.6 M484.10 387.22h-2.6 M484.10 367.48h-2.6 M484.10 347.73h-2.6 M484.10 327.99h-2.6 M484.10 308.24h-2.6 M484.10 288.50h-2.6 M484.10 456.33h-1.5 M484.10 436.58h-1.5 M484.10 416.84h-1.5 M484.10 397.09h-1.5 M484.10 377.35h-1.5 M484.10 357.61h-1.5 M484.10 337.86h-1.5 M484.10 318.12h-1.5 M484.10 298.37h-1.5" stroke="#000" stroke-width="0.6" fill="none"/>
<path d="M662.70 466.20h2.6 M662.70 440.81h2.6 M662.70 415.43h2.6 M662.70 390.04h2.6 M662.70 364.66h2.6 M662.70 339.27h2.6 M662.70 313.89h2.6 M662.70 288.50h2.6 M662.70 459.85h1.5 M662.70 453.51h1.5 M662.70 447.16h1.5 M662.70 434.47h1.5 M662.70 428.12h1.5 M662.70 421.77h1.5 M662.70 409.08h1.5 M662.70 402.74h1.5 M662.70 396.39h1.5 M662.70 383.70h1.5 M662.70 377.35h1.5 M662.70 371.00h1.5 M662.70 358.31h1.5 M662.70 351.96h1.5 M662.70 345.62h1.5 M662.70 332.92h1.5 M662.70 326.58h1.5 M662.70 320.23h1.5 M662.70 307.54h1.5 M662.70 301.19h1.5 M662.70 294.85h1.5" stroke="#1e90ff" stroke-width="0.6" fill="none"/>
<text x="479.60" y="468.30" font-size="6.49" text-anchor="end" fill="#000" stroke="#000" stroke-width="0.2" textLength="13.14" lengthAdjust="spacingAndGlyphs">0.00</text>
<text x="479.60" y="448.56" font-size="6.49" text-anchor="end" fill="#000" stroke="#000" stroke-width="0.2" textLength="13.14" lengthAdjust="spacingAndGlyphs">0.05</text>
<text x="479.60" y="428.81" font-size="6.49" text-anchor="end" fill="#000" stroke="#000" stroke-width="0.2" textLength="13.14" lengthAdjust="spacingAndGlyphs">0.10</text>
<text x="479.60" y="409.07" font-size="6.49" text-anchor="end" fill="#000" stroke="#000" stroke-width="0.2" textLength="13.14" lengthAdjust="spacingAndGlyphs">0.15</text>
<text x="479.60" y="389.32" font-size="6.49" text-anchor="end" fill="#000" stroke="#000" stroke-width="0.2" textLength="13.14" lengthAdjust="spacingAndGlyphs">0.20</text>
<text x="479.60" y="369.58" font-size="6.49" text-anchor="end" fill="#000" stroke="#000" stroke-width="0.2" textLength="13.14" lengthAdjust="spacingAndGlyphs">0.25</text>
<text x="479.60" y="349.83" font-size="6.49" text-anchor="end" fill="#000" stroke="#000" stroke-width="0.2" textLength="13.14" lengthAdjust="spacingAndGlyphs">0.30</text>
<text x="479.60" y="330.09" font-size="6.49" text-anchor="end" fill="#000" stroke="#000" stroke-width="0.2" textLength="13.14" lengthAdjust="spacingAndGlyphs">0.35</text>
<text x="479.60" y="310.34" font-size="6.49" text-anchor="end" fill="#000" stroke="#000" stroke-width="0.2" textLength="13.14" lengthAdjust="spacingAndGlyphs">0.40</text>
<text x="479.60" y="290.60" font-size="6.49" text-anchor="end" fill="#000" stroke="#000" stroke-width="0.2" textLength="13.14" lengthAdjust="spacingAndGlyphs">0.45</text>
<text x="666.90" y="469.10" font-size="6.49" text-anchor="start" fill="#1e90ff" stroke="#1e90ff" stroke-width="0.2" textLength="9.38" lengthAdjust="spacingAndGlyphs">0.0</text>
<text x="666.90" y="443.71" font-size="6.49" text-anchor="start" fill="#1e90ff" stroke="#1e90ff" stroke-width="0.2" textLength="9.38" lengthAdjust="spacingAndGlyphs">0.2</text>
<text x="666.90" y="418.33" font-size="6.49" text-anchor="start" fill="#1e90ff" stroke="#1e90ff" stroke-width="0.2" textLength="9.38" lengthAdjust="spacingAndGlyphs">0.4</text>
<text x="666.90" y="392.94" font-size="6.49" text-anchor="start" fill="#1e90ff" stroke="#1e90ff" stroke-width="0.2" textLength="9.38" lengthAdjust="spacingAndGlyphs">0.6</text>
<text x="666.90" y="367.56" font-size="6.49" text-anchor="start" fill="#1e90ff" stroke="#1e90ff" stroke-width="0.2" textLength="9.38" lengthAdjust="spacingAndGlyphs">0.8</text>
<text x="666.90" y="342.17" font-size="6.49" text-anchor="start" fill="#1e90ff" stroke="#1e90ff" stroke-width="0.2" textLength="9.38" lengthAdjust="spacingAndGlyphs">1.0</text>
<text x="666.90" y="316.79" font-size="6.49" text-anchor="start" fill="#1e90ff" stroke="#1e90ff" stroke-width="0.2" textLength="9.38" lengthAdjust="spacingAndGlyphs">1.2</text>
<text x="666.90" y="291.40" font-size="6.49" text-anchor="start" fill="#1e90ff" stroke="#1e90ff" stroke-width="0.2" textLength="9.38" lengthAdjust="spacingAndGlyphs">1.4</text>
<rect x="492.04" y="463.70" width="3.97" height="2.50" fill="#0000cd"/>
<rect x="492.04" y="463.30" width="3.97" height="0.40" fill="#ff0000"/>
<rect x="492.04" y="461.00" width="3.97" height="2.30" fill="#32cd32"/>
<rect x="492.04" y="459.50" width="3.97" height="1.50" fill="#ffd700"/>
<rect x="492.04" y="458.00" width="3.97" height="1.50" fill="#ff8c00"/>
<line x1="494.02" y1="458.00" x2="494.02" y2="455.00" stroke="#000" stroke-opacity="0.55" stroke-width="0.6"/>
<line x1="492.52" y1="455.00" x2="495.52" y2="455.00" stroke="#000" stroke-width="0.8"/>
<line x1="492.52" y1="459.50" x2="495.52" y2="459.50" stroke="#000" stroke-width="0.8"/>
<rect x="499.98" y="462.10" width="3.97" height="4.10" fill="#0000cd"/>
<rect x="499.98" y="461.80" width="3.97" height="0.30" fill="#ff0000"/>
<rect x="499.98" y="460.00" width="3.97" height="1.80" fill="#32cd32"/>
<rect x="499.98" y="458.80" width="3.97" height="1.20" fill="#ffd700"/>
<rect x="499.98" y="457.80" width="3.97" height="1.00" fill="#ff8c00"/>
<line x1="501.96" y1="457.80" x2="501.96" y2="455.90" stroke="#000" stroke-opacity="0.55" stroke-width="0.6"/>
<line x1="500.46" y1="455.90" x2="503.46" y2="455.90" stroke="#000" stroke-width="0.8"/>
<line x1="500.46" y1="458.80" x2="503.46" y2="458.80" stroke="#000" stroke-width="0.8"/>
<rect x="507.91" y="461.60" width="3.97" height="4.60" fill="#0000cd"/>
<rect x="507.91" y="461.30" width="3.97" height="0.30" fill="#ff0000"/>
<rect x="507.91" y="460.00" width="3.97" height="1.30" fill="#32cd32"/>
<rect x="507.91" y="458.30" width="3.97" height="1.70" fill="#ffd700"/>
<rect x="507.91" y="456.70" width="3.97" height="1.60" fill="#ff8c00"/>
<line x1="509.90" y1="456.70" x2="509.90" y2="456.20" stroke="#000" stroke-opacity="0.55" stroke-width="0.6"/>
<line x1="508.40" y1="456.20" x2="511.40" y2="456.20" stroke="#000" stroke-width="0.8"/>
<line x1="508.40" y1="458.30" x2="511.40" y2="458.30" stroke="#000" stroke-width="0.8"/>
<rect x="515.85" y="459.90" width="3.97" height="6.30" fill="#0000cd"/>
<rect x="515.85" y="459.10" width="3.97" height="0.80" fill="#ff0000"/>
<rect x="515.85" y="456.70" width="3.97" height="2.40" fill="#32cd32"/>
<rect x="515.85" y="454.20" width="3.97" height="2.50" fill="#ffd700"/>
<rect x="515.85" y="452.60" width="3.97" height="1.60" fill="#ff8c00"/>
<line x1="517.84" y1="452.60" x2="517.84" y2="447.70" stroke="#000" stroke-opacity="0.55" stroke-width="0.6"/>
<line x1="516.34" y1="447.70" x2="519.34" y2="447.70" stroke="#000" stroke-width="0.8"/>
<line x1="516.34" y1="454.20" x2="519.34" y2="454.20" stroke="#000" stroke-width="0.8"/>
<rect x="523.79" y="461.10" width="3.97" height="5.10" fill="#0000cd"/>
<rect x="523.79" y="460.50" width="3.97" height="0.60" fill="#ff0000"/>
<rect x="523.79" y="458.30" width="3.97" height="2.20" fill="#32cd32"/>
<rect x="523.79" y="456.70" width="3.97" height="1.60" fill="#ffd700"/>
<rect x="523.79" y="450.90" width="3.97" height="5.80" fill="#ff8c00"/>
<line x1="525.77" y1="450.90" x2="525.77" y2="446.30" stroke="#000" stroke-opacity="0.55" stroke-width="0.6"/>
<line x1="524.27" y1="446.30" x2="527.27" y2="446.30" stroke="#000" stroke-width="0.8"/>
<line x1="524.27" y1="456.70" x2="527.27" y2="456.70" stroke="#000" stroke-width="0.8"/>
<rect x="531.73" y="462.90" width="3.97" height="3.30" fill="#0000cd"/>
<rect x="531.73" y="462.40" width="3.97" height="0.50" fill="#ff0000"/>
<rect x="531.73" y="457.50" width="3.97" height="4.90" fill="#32cd32"/>
<rect x="531.73" y="454.20" width="3.97" height="3.30" fill="#ffd700"/>
<rect x="531.73" y="450.90" width="3.97" height="3.30" fill="#ff8c00"/>
<line x1="533.71" y1="450.90" x2="533.71" y2="448.50" stroke="#000" stroke-opacity="0.55" stroke-width="0.6"/>
<line x1="532.21" y1="448.50" x2="535.21" y2="448.50" stroke="#000" stroke-width="0.8"/>
<line x1="532.21" y1="454.20" x2="535.21" y2="454.20" stroke="#000" stroke-width="0.8"/>
<rect x="539.66" y="462.70" width="3.97" height="3.50" fill="#0000cd"/>
<rect x="539.66" y="462.30" width="3.97" height="0.40" fill="#ff0000"/>
<rect x="539.66" y="457.50" width="3.97" height="4.80" fill="#32cd32"/>
<rect x="539.66" y="454.20" width="3.97" height="3.30" fill="#ffd700"/>
<rect x="539.66" y="450.10" width="3.97" height="4.10" fill="#ff8c00"/>
<line x1="541.65" y1="450.10" x2="541.65" y2="447.70" stroke="#000" stroke-opacity="0.55" stroke-width="0.6"/>
<line x1="540.15" y1="447.70" x2="543.15" y2="447.70" stroke="#000" stroke-width="0.8"/>
<line x1="540.15" y1="454.20" x2="543.15" y2="454.20" stroke="#000" stroke-width="0.8"/>
<rect x="547.60" y="456.20" width="3.97" height="10.00" fill="#0000cd"/>
<rect x="547.60" y="455.50" width="3.97" height="0.70" fill="#ff0000"/>
<rect x="547.60" y="453.40" width="3.97" height="2.10" fill="#32cd32"/>
<rect x="547.60" y="451.00" width="3.97" height="2.40" fill="#ffd700"/>
<rect x="547.60" y="448.80" width="3.97" height="2.20" fill="#ff8c00"/>
<line x1="549.59" y1="448.80" x2="549.59" y2="446.00" stroke="#000" stroke-opacity="0.55" stroke-width="0.6"/>
<line x1="548.09" y1="446.00" x2="551.09" y2="446.00" stroke="#000" stroke-width="0.8"/>
<line x1="548.09" y1="451.00" x2="551.09" y2="451.00" stroke="#000" stroke-width="0.8"/>
<rect x="555.54" y="448.50" width="3.97" height="17.70" fill="#0000cd"/>
<rect x="555.54" y="447.70" width="3.97" height="0.80" fill="#ff0000"/>
<rect x="555.54" y="445.20" width="3.97" height="2.50" fill="#32cd32"/>
<rect x="555.54" y="444.00" width="3.97" height="1.20" fill="#ffd700"/>
<rect x="555.54" y="442.70" width="3.97" height="1.30" fill="#ff8c00"/>
<line x1="557.52" y1="442.70" x2="557.52" y2="439.50" stroke="#000" stroke-opacity="0.55" stroke-width="0.6"/>
<line x1="556.02" y1="439.50" x2="559.02" y2="439.50" stroke="#000" stroke-width="0.8"/>
<line x1="556.02" y1="444.00" x2="559.02" y2="444.00" stroke="#000" stroke-width="0.8"/>
<rect x="563.48" y="458.30" width="3.97" height="7.90" fill="#0000cd"/>
<rect x="563.48" y="457.50" width="3.97" height="0.80" fill="#ff0000"/>
<rect x="563.48" y="450.90" width="3.97" height="6.60" fill="#32cd32"/>
<rect x="563.48" y="447.70" width="3.97" height="3.20" fill="#ffd700"/>
<rect x="563.48" y="442.70" width="3.97" height="5.00" fill="#ff8c00"/>
<line x1="565.46" y1="442.70" x2="565.46" y2="438.60" stroke="#000" stroke-opacity="0.55" stroke-width="0.6"/>
<line x1="563.96" y1="438.60" x2="566.96" y2="438.60" stroke="#000" stroke-width="0.8"/>
<line x1="563.96" y1="447.70" x2="566.96" y2="447.70" stroke="#000" stroke-width="0.8"/>
<rect x="571.42" y="451.00" width="3.97" height="15.20" fill="#0000cd"/>
<rect x="571.42" y="449.60" width="3.97" height="1.40" fill="#ff0000"/>
<rect x="571.42" y="448.50" width="3.97" height="1.10" fill="#32cd32"/>
<rect x="571.42" y="446.00" width="3.97" height="2.50" fill="#ffd700"/>
<rect x="571.42" y="443.60" width="3.97" height="2.40" fill="#ff8c00"/>
<line x1="573.40" y1="443.60" x2="573.40" y2="440.80" stroke="#000" stroke-opacity="0.55" stroke-width="0.6"/>
<line x1="571.90" y1="440.80" x2="574.90" y2="440.80" stroke="#000" stroke-width="0.8"/>
<line x1="571.90" y1="446.00" x2="574.90" y2="446.00" stroke="#000" stroke-width="0.8"/>
<rect x="579.35" y="424.70" width="3.97" height="41.50" fill="#0000cd"/>
<rect x="579.35" y="423.90" width="3.97" height="0.80" fill="#ff0000"/>
<rect x="579.35" y="418.50" width="3.97" height="5.40" fill="#32cd32"/>
<rect x="579.35" y="400.10" width="3.97" height="18.40" fill="#ffd700"/>
<rect x="579.35" y="396.80" width="3.97" height="3.30" fill="#ff8c00"/>
<line x1="581.34" y1="396.80" x2="581.34" y2="384.50" stroke="#000" stroke-opacity="0.55" stroke-width="0.6"/>
<line x1="579.84" y1="384.50" x2="582.84" y2="384.50" stroke="#000" stroke-width="0.8"/>
<line x1="579.84" y1="409.10" x2="582.84" y2="409.10" stroke="#000" stroke-width="0.8"/>
<rect x="587.29" y="422.20" width="3.97" height="44.00" fill="#0000cd"/>
<rect x="587.29" y="421.50" width="3.97" height="0.70" fill="#ff0000"/>
<rect x="587.29" y="416.00" width="3.97" height="5.50" fill="#32cd32"/>
<rect x="587.29" y="398.80" width="3.97" height="17.20" fill="#ffd700"/>
<rect x="587.29" y="395.20" width="3.97" height="3.60" fill="#ff8c00"/>
<line x1="589.28" y1="395.20" x2="589.28" y2="379.30" stroke="#000" stroke-opacity="0.55" stroke-width="0.6"/>
<line x1="587.78" y1="379.30" x2="590.78" y2="379.30" stroke="#000" stroke-width="0.8"/>
<line x1="587.78" y1="412.00" x2="590.78" y2="412.00" stroke="#000" stroke-width="0.8"/>
<rect x="595.23" y="434.50" width="3.97" height="31.70" fill="#0000cd"/>
<rect x="595.23" y="430.10" width="3.97" height="4.40" fill="#ff0000"/>
<rect x="595.23" y="416.50" width="3.97" height="13.60" fill="#32cd32"/>
<rect x="595.23" y="399.00" width="3.97" height="17.50" fill="#ffd700"/>
<rect x="595.23" y="389.00" width="3.97" height="10.00" fill="#ff8c00"/>
<line x1="597.21" y1="389.00" x2="597.21" y2="366.50" stroke="#000" stroke-opacity="0.55" stroke-width="0.6"/>
<line x1="595.71" y1="366.50" x2="598.71" y2="366.50" stroke="#000" stroke-width="0.8"/>
<line x1="595.71" y1="411.30" x2="598.71" y2="411.30" stroke="#000" stroke-width="0.8"/>
<rect x="603.17" y="432.40" width="3.97" height="33.80" fill="#0000cd"/>
<rect x="603.17" y="427.50" width="3.97" height="4.90" fill="#ff0000"/>
<rect x="603.17" y="414.90" width="3.97" height="12.60" fill="#32cd32"/>
<rect x="603.17" y="399.00" width="3.97" height="15.90" fill="#ffd700"/>
<rect x="603.17" y="386.20" width="3.97" height="12.80" fill="#ff8c00"/>
<line x1="605.15" y1="386.20" x2="605.15" y2="363.20" stroke="#000" stroke-opacity="0.55" stroke-width="0.6"/>
<line x1="603.65" y1="363.20" x2="606.65" y2="363.20" stroke="#000" stroke-width="0.8"/>
<line x1="603.65" y1="409.10" x2="606.65" y2="409.10" stroke="#000" stroke-width="0.8"/>
<rect x="611.10" y="382.10" width="3.97" height="84.10" fill="#0000cd"/>
<rect x="611.10" y="381.50" width="3.97" height="0.60" fill="#ff0000"/>
<rect x="611.10" y="373.10" width="3.97" height="8.40" fill="#32cd32"/>
<rect x="611.10" y="358.30" width="3.97" height="14.80" fill="#ffd700"/>
<rect x="611.10" y="351.30" width="3.97" height="7.00" fill="#ff8c00"/>
<line x1="613.09" y1="351.30" x2="613.09" y2="324.40" stroke="#000" stroke-opacity="0.55" stroke-width="0.6"/>
<line x1="611.59" y1="324.40" x2="614.59" y2="324.40" stroke="#000" stroke-width="0.8"/>
<rect x="626.98" y="458.80" width="3.97" height="7.40" fill="#0000cd"/>
<rect x="626.98" y="458.30" width="3.97" height="0.50" fill="#ff0000"/>
<rect x="626.98" y="455.00" width="3.97" height="3.30" fill="#32cd32"/>
<rect x="626.98" y="453.50" width="3.97" height="1.50" fill="#ffd700"/>
<rect x="626.98" y="450.40" width="3.97" height="3.10" fill="#ff8c00"/>
<line x1="628.96" y1="450.40" x2="628.96" y2="447.30" stroke="#000" stroke-opacity="0.55" stroke-width="0.6"/>
<line x1="627.46" y1="447.30" x2="630.46" y2="447.30" stroke="#000" stroke-width="0.8"/>
<line x1="627.46" y1="453.50" x2="630.46" y2="453.50" stroke="#000" stroke-width="0.8"/>
<rect x="634.92" y="419.00" width="3.97" height="47.20" fill="#0000cd"/>
<rect x="634.92" y="417.30" width="3.97" height="1.70" fill="#ff0000"/>
<rect x="634.92" y="408.00" width="3.97" height="9.30" fill="#32cd32"/>
<rect x="634.92" y="391.10" width="3.97" height="16.90" fill="#ffd700"/>
<rect x="634.92" y="383.70" width="3.97" height="7.40" fill="#ff8c00"/>
<line x1="636.90" y1="383.70" x2="636.90" y2="363.20" stroke="#000" stroke-opacity="0.55" stroke-width="0.6"/>
<line x1="635.40" y1="363.20" x2="638.40" y2="363.20" stroke="#000" stroke-width="0.8"/>
<line x1="635.40" y1="404.20" x2="638.40" y2="404.20" stroke="#000" stroke-width="0.8"/>
<rect x="642.86" y="446.80" width="3.97" height="19.40" fill="#0000cd"/>
<rect x="642.86" y="445.90" width="3.97" height="0.90" fill="#ff0000"/>
<rect x="642.86" y="440.30" width="3.97" height="5.60" fill="#32cd32"/>
<rect x="642.86" y="435.40" width="3.97" height="4.90" fill="#ffd700"/>
<rect x="642.86" y="429.60" width="3.97" height="5.80" fill="#ff8c00"/>
<line x1="644.84" y1="429.60" x2="644.84" y2="421.10" stroke="#000" stroke-opacity="0.55" stroke-width="0.6"/>
<line x1="643.34" y1="421.10" x2="646.34" y2="421.10" stroke="#000" stroke-width="0.8"/>
<line x1="643.34" y1="435.40" x2="646.34" y2="435.40" stroke="#000" stroke-width="0.8"/>
<rect x="650.79" y="435.00" width="3.97" height="31.20" fill="#bf00bf"/>
<line x1="652.78" y1="431.30" x2="652.78" y2="438.10" stroke="#808080" stroke-opacity="0.55" stroke-width="0.8"/>
<line x1="651.28" y1="431.30" x2="654.28" y2="431.30" stroke="#000" stroke-width="0.8"/>
<line x1="651.28" y1="438.10" x2="654.28" y2="438.10" stroke="#000" stroke-width="0.8"/>
<line x1="485.00" y1="427.50" x2="662.70" y2="427.50" stroke="#cc33cc" stroke-opacity="0.7" stroke-width="1.1" stroke-dasharray="1 1"/>
<line x1="485.00" y1="442.20" x2="662.70" y2="442.20" stroke="#cc33cc" stroke-opacity="0.7" stroke-width="1.1" stroke-dasharray="1 1"/>
<line x1="484.10" y1="435.00" x2="662.70" y2="435.00" stroke="#bf00bf" stroke-opacity="0.5" stroke-width="1.6"/>
<line x1="621.03" y1="288.50" x2="621.03" y2="466.20" stroke="#222" stroke-width="1.1"/>
<path d="M494.02 365.20 L501.96 366.20 L509.90 350.10 L517.84 360.40 L525.77 359.10 L533.71 372.20" fill="none" stroke="#1e90ff" stroke-width="1.15" stroke-dasharray="2.6 1.3"/>
<path d="M573.40 354.50 L581.34 372.20" fill="none" stroke="#1e90ff" stroke-width="1.15" stroke-dasharray="2.6 1.3"/>
<path d="M628.96 361.30 L636.90 372.20 L644.84 366.80" fill="none" stroke="#1e90ff" stroke-width="1.15" stroke-dasharray="2.6 1.3"/>
<circle cx="494.02" cy="365.20" r="1.35" fill="#1e90ff"/>
<circle cx="501.96" cy="366.20" r="1.35" fill="#1e90ff"/>
<circle cx="509.90" cy="350.10" r="1.35" fill="#1e90ff"/>
<circle cx="517.84" cy="360.40" r="1.35" fill="#1e90ff"/>
<circle cx="525.77" cy="359.10" r="1.35" fill="#1e90ff"/>
<circle cx="533.71" cy="372.20" r="1.35" fill="#1e90ff"/>
<circle cx="573.40" cy="354.50" r="1.35" fill="#1e90ff"/>
<circle cx="581.34" cy="372.20" r="1.35" fill="#1e90ff"/>
<circle cx="628.96" cy="361.30" r="1.35" fill="#1e90ff"/>
<circle cx="636.90" cy="372.20" r="1.35" fill="#1e90ff"/>
<circle cx="644.84" cy="366.80" r="1.35" fill="#1e90ff"/>
<path d="M494.02 404.40 L501.96 406.30 L509.90 393.60 L517.84 410.00 L525.77 412.40 L533.71 409.60" fill="none" stroke="#ff0000" stroke-width="1.15" stroke-dasharray="2.6 1.3"/>
<path d="M573.40 397.20 L581.34 379.60" fill="none" stroke="#ff0000" stroke-width="1.15" stroke-dasharray="2.6 1.3"/>
<path d="M628.96 405.00 L636.90 379.60 L644.84 392.40" fill="none" stroke="#ff0000" stroke-width="1.15" stroke-dasharray="2.6 1.3"/>
<circle cx="494.02" cy="404.40" r="1.35" fill="#ff0000"/>
<circle cx="501.96" cy="406.30" r="1.35" fill="#ff0000"/>
<circle cx="509.90" cy="393.60" r="1.35" fill="#ff0000"/>
<circle cx="517.84" cy="410.00" r="1.35" fill="#ff0000"/>
<circle cx="525.77" cy="412.40" r="1.35" fill="#ff0000"/>
<circle cx="533.71" cy="409.60" r="1.35" fill="#ff0000"/>
<circle cx="573.40" cy="397.20" r="1.35" fill="#ff0000"/>
<circle cx="581.34" cy="379.60" r="1.35" fill="#ff0000"/>
<circle cx="628.96" cy="405.00" r="1.35" fill="#ff0000"/>
<circle cx="636.90" cy="379.60" r="1.35" fill="#ff0000"/>
<circle cx="644.84" cy="392.40" r="1.35" fill="#ff0000"/>
<path d="M494.02 426.80 L501.96 426.00 L509.90 422.70 L517.84 416.20 L525.77 412.40 L533.71 428.80" fill="none" stroke="#8a2be2" stroke-width="1.15" stroke-dasharray="2.6 1.3"/>
<path d="M573.40 423.60 L581.34 459.10" fill="none" stroke="#8a2be2" stroke-width="1.15" stroke-dasharray="2.6 1.3"/>
<path d="M628.96 422.70 L636.90 459.10 L644.84 441.10" fill="none" stroke="#8a2be2" stroke-width="1.15" stroke-dasharray="2.6 1.3"/>
<circle cx="494.02" cy="426.80" r="1.35" fill="#8a2be2"/>
<circle cx="501.96" cy="426.00" r="1.35" fill="#8a2be2"/>
<circle cx="509.90" cy="422.70" r="1.35" fill="#8a2be2"/>
<circle cx="517.84" cy="416.20" r="1.35" fill="#8a2be2"/>
<circle cx="525.77" cy="412.40" r="1.35" fill="#8a2be2"/>
<circle cx="533.71" cy="428.80" r="1.35" fill="#8a2be2"/>
<circle cx="573.40" cy="423.60" r="1.35" fill="#8a2be2"/>
<circle cx="581.34" cy="459.10" r="1.35" fill="#8a2be2"/>
<circle cx="628.96" cy="422.70" r="1.35" fill="#8a2be2"/>
<circle cx="636.90" cy="459.10" r="1.35" fill="#8a2be2"/>
<circle cx="644.84" cy="441.10" r="1.35" fill="#8a2be2"/>
<rect x="484.10" y="288.50" width="178.60" height="177.70" fill="none" stroke="#000" stroke-width="0.8"/>
<text x="573.40" y="282.30" font-size="6.49" font-weight="bold" text-anchor="middle" fill="#000" stroke="#000" stroke-width="0.2" textLength="85.31" lengthAdjust="spacingAndGlyphs">f) Total (Spring+Summer)</text>
<text x="463.06" y="377.35" font-size="6.49" font-weight="bold" text-anchor="middle" fill="#000" stroke="#000" stroke-width="0.2" textLength="14.48" lengthAdjust="spacingAndGlyphs" transform="rotate(-90 463.06 377.35)">AOD</text>
<text x="683.20" y="377.35" font-size="6.49" font-weight="bold" text-anchor="middle" fill="#1e90ff" stroke="#1e90ff" stroke-width="0.2" textLength="76.67" lengthAdjust="spacingAndGlyphs" transform="rotate(-90 683.20 377.35)">Precipitation (mm/day)</text>
<text x="573.40" y="531.00" font-size="6.49" font-weight="bold" text-anchor="middle" fill="#000" stroke="#000" stroke-width="0.2" textLength="23.68" lengthAdjust="spacingAndGlyphs">Models</text>
<text x="492.82" y="472.90" font-size="6.21" text-anchor="end" fill="#000" stroke="#000" stroke-width="0.2" textLength="21.26" lengthAdjust="spacingAndGlyphs" transform="rotate(-70 492.82 472.90)">MIROC6</text>
<text x="500.76" y="472.90" font-size="6.21" text-anchor="end" fill="#000" stroke="#000" stroke-width="0.2" textLength="38.13" lengthAdjust="spacingAndGlyphs" transform="rotate(-70 500.76 472.90)">CNRM-ESM2-1</text>
<text x="508.70" y="472.90" font-size="6.21" text-anchor="end" fill="#000" stroke="#000" stroke-width="0.2" textLength="36.94" lengthAdjust="spacingAndGlyphs" transform="rotate(-70 508.70 472.90)">IPSL-CM6A-LR</text>
<text x="516.64" y="472.90" font-size="6.21" text-anchor="end" fill="#000" stroke="#000" stroke-width="0.2" textLength="52.97" lengthAdjust="spacingAndGlyphs" transform="rotate(-70 516.64 472.90)">CESM2-WACCM-FV2</text>
<text x="524.57" y="472.90" font-size="6.21" text-anchor="end" fill="#000" stroke="#000" stroke-width="0.2" textLength="47.64" lengthAdjust="spacingAndGlyphs" transform="rotate(-70 524.57 472.90)">MPI-ESM-1-2-HAM</text>
<text x="532.51" y="472.90" font-size="6.21" text-anchor="end" fill="#000" stroke="#000" stroke-width="0.2" textLength="33.80" lengthAdjust="spacingAndGlyphs" transform="rotate(-70 532.51 472.90)">NorESM2-LM</text>
<text x="540.45" y="472.90" font-size="6.21" text-anchor="end" fill="#000" stroke="#000" stroke-width="0.2" textLength="35.43" lengthAdjust="spacingAndGlyphs" transform="rotate(-70 540.45 472.90)">NorESM2-MM</text>
<text x="548.39" y="472.90" font-size="6.21" text-anchor="end" fill="#000" stroke="#000" stroke-width="0.2" textLength="51.63" lengthAdjust="spacingAndGlyphs" transform="rotate(-70 548.39 472.90)">IPSL-CM6A-LR-INCA</text>
<text x="556.32" y="472.90" font-size="6.21" text-anchor="end" fill="#000" stroke="#000" stroke-width="0.2" textLength="46.74" lengthAdjust="spacingAndGlyphs" transform="rotate(-70 556.32 472.90)">IPSL-CM5A2-INCA</text>
<text x="564.26" y="472.90" font-size="6.21" text-anchor="end" fill="#000" stroke="#000" stroke-width="0.2" textLength="53.30" lengthAdjust="spacingAndGlyphs" transform="rotate(-70 564.26 472.90)">EC-Earth3-AerChem</text>
<text x="572.20" y="472.90" font-size="6.21" text-anchor="end" fill="#000" stroke="#000" stroke-width="0.2" textLength="31.97" lengthAdjust="spacingAndGlyphs" transform="rotate(-70 572.20 472.90)">MRI-ESM2-0</text>
<text x="580.14" y="472.90" font-size="6.21" text-anchor="end" fill="#000" stroke="#000" stroke-width="0.2" textLength="32.84" lengthAdjust="spacingAndGlyphs" transform="rotate(-70 580.14 472.90)">GISS-E2-1-G</text>
<text x="588.08" y="472.90" font-size="6.21" text-anchor="end" fill="#000" stroke="#000" stroke-width="0.2" textLength="32.52" lengthAdjust="spacingAndGlyphs" transform="rotate(-70 588.08 472.90)">GISS-E2-1-H</text>
<text x="596.01" y="472.90" font-size="6.21" text-anchor="end" fill="#000" stroke="#000" stroke-width="0.2" textLength="29.22" lengthAdjust="spacingAndGlyphs" transform="rotate(-70 596.01 472.90)">INM-CM5-0</text>
<text x="603.95" y="472.90" font-size="6.21" text-anchor="end" fill="#000" stroke="#000" stroke-width="0.2" textLength="29.22" lengthAdjust="spacingAndGlyphs" transform="rotate(-70 603.95 472.90)">INM-CM4-8</text>
<text x="611.89" y="472.90" font-size="6.21" text-anchor="end" fill="#000" stroke="#000" stroke-width="0.2" textLength="32.84" lengthAdjust="spacingAndGlyphs" transform="rotate(-70 611.89 472.90)">GISS-E2-2-G</text>
<text x="627.76" y="472.90" font-size="6.21" text-anchor="end" fill="#000" stroke="#000" stroke-width="0.2" textLength="43.86" lengthAdjust="spacingAndGlyphs" transform="rotate(-70 627.76 472.90)">MMM (Low AOD)</text>
<text x="635.70" y="472.90" font-size="6.21" text-anchor="end" fill="#000" stroke="#000" stroke-width="0.2" textLength="45.62" lengthAdjust="spacingAndGlyphs" transform="rotate(-70 635.70 472.90)">MMM (High AOD)</text>
<text x="643.64" y="472.90" font-size="6.21" text-anchor="end" fill="#000" stroke="#000" stroke-width="0.2" textLength="26.36" lengthAdjust="spacingAndGlyphs" transform="rotate(-70 643.64 472.90)">MMM (All)</text>
<text x="651.58" y="472.90" font-size="6.21" text-anchor="end" fill="#000" stroke="#000" stroke-width="0.2" textLength="31.87" lengthAdjust="spacingAndGlyphs" transform="rotate(-70 651.58 472.90)">AEROSNOW</text>
<path d="M42.06 749.30v2.6 M42.06 568.50v-1.8 M49.70 749.30v2.6 M49.70 568.50v-1.8 M57.34 749.30v2.6 M57.34 568.50v-1.8 M64.99 749.30v2.6 M64.99 568.50v-1.8 M72.63 749.30v2.6 M72.63 568.50v-1.8 M80.28 749.30v2.6 M80.28 568.50v-1.8 M87.92 749.30v2.6 M87.92 568.50v-1.8 M95.57 749.30v2.6 M95.57 568.50v-1.8 M103.21 749.30v2.6 M103.21 568.50v-1.8 M110.86 749.30v2.6 M110.86 568.50v-1.8 M118.50 749.30v2.6 M118.50 568.50v-1.8 M126.14 749.30v2.6 M126.14 568.50v-1.8 M133.79 749.30v2.6 M133.79 568.50v-1.8 M141.43 749.30v2.6 M141.43 568.50v-1.8 M149.08 749.30v2.6 M149.08 568.50v-1.8 M156.72 749.30v2.6 M156.72 568.50v-1.8 M164.37 749.30v2.6 M164.37 568.50v-1.8 M172.01 749.30v2.6 M172.01 568.50v-1.8 M179.66 749.30v2.6 M179.66 568.50v-1.8 M187.30 749.30v2.6 M187.30 568.50v-1.8 M194.94 749.30v2.6 M194.94 568.50v-1.8 M32.50 577.50h-2.6 M32.50 598.89h-2.6 M32.50 620.27h-2.6 M32.50 641.66h-2.6 M32.50 663.05h-2.6 M32.50 684.44h-2.6 M32.50 705.83h-2.6 M32.50 727.21h-2.6 M32.50 748.60h-2.6" stroke="#000" stroke-width="0.6" fill="none"/>
<path d="M204.50 749.30h2.6 M204.50 723.47h2.6 M204.50 697.64h2.6 M204.50 671.81h2.6 M204.50 645.99h2.6 M204.50 620.16h2.6 M204.50 594.33h2.6 M204.50 568.50h2.6 M204.50 742.84h1.5 M204.50 736.39h1.5 M204.50 729.93h1.5 M204.50 717.01h1.5 M204.50 710.56h1.5 M204.50 704.10h1.5 M204.50 691.19h1.5 M204.50 684.73h1.5 M204.50 678.27h1.5 M204.50 665.36h1.5 M204.50 658.90h1.5 M204.50 652.44h1.5 M204.50 639.53h1.5 M204.50 633.07h1.5 M204.50 626.61h1.5 M204.50 613.70h1.5 M204.50 607.24h1.5 M204.50 600.79h1.5 M204.50 587.87h1.5 M204.50 581.41h1.5 M204.50 574.96h1.5" stroke="#1e90ff" stroke-width="0.6" fill="none"/>
<text x="28.00" y="579.60" font-size="6.49" text-anchor="end" fill="#000" stroke="#000" stroke-width="0.2" textLength="9.38" lengthAdjust="spacingAndGlyphs">0.0</text>
<text x="28.00" y="600.99" font-size="6.49" text-anchor="end" fill="#000" stroke="#000" stroke-width="0.2" textLength="14.33" lengthAdjust="spacingAndGlyphs">−2.5</text>
<text x="28.00" y="622.38" font-size="6.49" text-anchor="end" fill="#000" stroke="#000" stroke-width="0.2" textLength="14.33" lengthAdjust="spacingAndGlyphs">−5.0</text>
<text x="28.00" y="643.76" font-size="6.49" text-anchor="end" fill="#000" stroke="#000" stroke-width="0.2" textLength="14.33" lengthAdjust="spacingAndGlyphs">−7.5</text>
<text x="28.00" y="665.15" font-size="6.49" text-anchor="end" fill="#000" stroke="#000" stroke-width="0.2" textLength="18.08" lengthAdjust="spacingAndGlyphs">−10.0</text>
<text x="28.00" y="686.54" font-size="6.49" text-anchor="end" fill="#000" stroke="#000" stroke-width="0.2" textLength="18.08" lengthAdjust="spacingAndGlyphs">−12.5</text>
<text x="28.00" y="707.93" font-size="6.49" text-anchor="end" fill="#000" stroke="#000" stroke-width="0.2" textLength="18.08" lengthAdjust="spacingAndGlyphs">−15.0</text>
<text x="28.00" y="729.31" font-size="6.49" text-anchor="end" fill="#000" stroke="#000" stroke-width="0.2" textLength="18.08" lengthAdjust="spacingAndGlyphs">−17.5</text>
<text x="28.00" y="750.70" font-size="6.49" text-anchor="end" fill="#000" stroke="#000" stroke-width="0.2" textLength="18.08" lengthAdjust="spacingAndGlyphs">−20.0</text>
<text x="208.70" y="752.20" font-size="6.49" text-anchor="start" fill="#1e90ff" stroke="#1e90ff" stroke-width="0.2" textLength="9.38" lengthAdjust="spacingAndGlyphs">0.0</text>
<text x="208.70" y="726.37" font-size="6.49" text-anchor="start" fill="#1e90ff" stroke="#1e90ff" stroke-width="0.2" textLength="9.38" lengthAdjust="spacingAndGlyphs">0.2</text>
<text x="208.70" y="700.54" font-size="6.49" text-anchor="start" fill="#1e90ff" stroke="#1e90ff" stroke-width="0.2" textLength="9.38" lengthAdjust="spacingAndGlyphs">0.4</text>
<text x="208.70" y="674.71" font-size="6.49" text-anchor="start" fill="#1e90ff" stroke="#1e90ff" stroke-width="0.2" textLength="9.38" lengthAdjust="spacingAndGlyphs">0.6</text>
<text x="208.70" y="648.89" font-size="6.49" text-anchor="start" fill="#1e90ff" stroke="#1e90ff" stroke-width="0.2" textLength="9.38" lengthAdjust="spacingAndGlyphs">0.8</text>
<text x="208.70" y="623.06" font-size="6.49" text-anchor="start" fill="#1e90ff" stroke="#1e90ff" stroke-width="0.2" textLength="9.38" lengthAdjust="spacingAndGlyphs">1.0</text>
<text x="208.70" y="597.23" font-size="6.49" text-anchor="start" fill="#1e90ff" stroke="#1e90ff" stroke-width="0.2" textLength="9.38" lengthAdjust="spacingAndGlyphs">1.2</text>
<text x="208.70" y="571.40" font-size="6.49" text-anchor="start" fill="#1e90ff" stroke="#1e90ff" stroke-width="0.2" textLength="9.38" lengthAdjust="spacingAndGlyphs">1.4</text>
<rect x="40.14" y="577.50" width="3.82" height="116.10" fill="#b0c4de"/>
<rect x="47.79" y="577.50" width="3.82" height="128.90" fill="#b0c4de"/>
<rect x="55.43" y="577.50" width="3.82" height="101.90" fill="#b0c4de"/>
<rect x="63.08" y="577.50" width="3.82" height="90.70" fill="#b0c4de"/>
<rect x="70.72" y="577.50" width="3.82" height="90.70" fill="#b0c4de"/>
<rect x="78.37" y="577.50" width="3.82" height="99.00" fill="#b0c4de"/>
<rect x="86.01" y="577.50" width="3.82" height="115.10" fill="#b0c4de"/>
<rect x="93.66" y="577.50" width="3.82" height="123.20" fill="#b0c4de"/>
<rect x="101.30" y="577.50" width="3.82" height="109.80" fill="#b0c4de"/>
<rect x="108.94" y="577.50" width="3.82" height="88.30" fill="#b0c4de"/>
<rect x="116.59" y="577.50" width="3.82" height="110.70" fill="#b0c4de"/>
<rect x="124.23" y="577.50" width="3.82" height="119.80" fill="#b0c4de"/>
<rect x="131.88" y="577.50" width="3.82" height="116.80" fill="#b0c4de"/>
<rect x="139.52" y="577.50" width="3.82" height="99.90" fill="#b0c4de"/>
<rect x="147.17" y="577.50" width="3.82" height="108.50" fill="#b0c4de"/>
<rect x="154.81" y="577.50" width="3.82" height="144.30" fill="#b0c4de"/>
<rect x="170.10" y="577.50" width="3.82" height="106.50" fill="#b0c4de"/>
<rect x="177.74" y="577.50" width="3.82" height="118.10" fill="#b0c4de"/>
<rect x="185.39" y="577.50" width="3.82" height="112.30" fill="#b0c4de"/>
<rect x="193.03" y="577.50" width="3.82" height="99.90" fill="#bf00bf"/>
<line x1="42.06" y1="647.60" x2="42.06" y2="739.10" stroke="#000" stroke-opacity="0.55" stroke-width="0.6"/>
<line x1="40.56" y1="647.60" x2="43.56" y2="647.60" stroke="#000" stroke-width="0.8"/>
<line x1="40.56" y1="739.10" x2="43.56" y2="739.10" stroke="#000" stroke-width="0.8"/>
<line x1="49.70" y1="664.90" x2="49.70" y2="747.90" stroke="#000" stroke-opacity="0.55" stroke-width="0.6"/>
<line x1="48.20" y1="664.90" x2="51.20" y2="664.90" stroke="#000" stroke-width="0.8"/>
<line x1="48.20" y1="747.90" x2="51.20" y2="747.90" stroke="#000" stroke-width="0.8"/>
<line x1="57.34" y1="635.30" x2="57.34" y2="723.30" stroke="#000" stroke-opacity="0.55" stroke-width="0.6"/>
<line x1="55.84" y1="635.30" x2="58.84" y2="635.30" stroke="#000" stroke-width="0.8"/>
<line x1="55.84" y1="723.30" x2="58.84" y2="723.30" stroke="#000" stroke-width="0.8"/>
<line x1="64.99" y1="626.30" x2="64.99" y2="706.40" stroke="#000" stroke-opacity="0.55" stroke-width="0.6"/>
<line x1="63.49" y1="626.30" x2="66.49" y2="626.30" stroke="#000" stroke-width="0.8"/>
<line x1="63.49" y1="706.40" x2="66.49" y2="706.40" stroke="#000" stroke-width="0.8"/>
<line x1="72.63" y1="629.00" x2="72.63" y2="707.30" stroke="#000" stroke-opacity="0.55" stroke-width="0.6"/>
<line x1="71.13" y1="629.00" x2="74.13" y2="629.00" stroke="#000" stroke-width="0.8"/>
<line x1="71.13" y1="707.30" x2="74.13" y2="707.30" stroke="#000" stroke-width="0.8"/>
<line x1="80.28" y1="635.10" x2="80.28" y2="717.50" stroke="#000" stroke-opacity="0.55" stroke-width="0.6"/>
<line x1="78.78" y1="635.10" x2="81.78" y2="635.10" stroke="#000" stroke-width="0.8"/>
<line x1="78.78" y1="717.50" x2="81.78" y2="717.50" stroke="#000" stroke-width="0.8"/>
<line x1="87.92" y1="641.20" x2="87.92" y2="743.20" stroke="#000" stroke-opacity="0.55" stroke-width="0.6"/>
<line x1="86.42" y1="641.20" x2="89.42" y2="641.20" stroke="#000" stroke-width="0.8"/>
<line x1="86.42" y1="743.20" x2="89.42" y2="743.20" stroke="#000" stroke-width="0.8"/>
<line x1="95.57" y1="653.70" x2="95.57" y2="747.40" stroke="#000" stroke-opacity="0.55" stroke-width="0.6"/>
<line x1="94.07" y1="653.70" x2="97.07" y2="653.70" stroke="#000" stroke-width="0.8"/>
<line x1="94.07" y1="747.40" x2="97.07" y2="747.40" stroke="#000" stroke-width="0.8"/>
<line x1="103.21" y1="644.50" x2="103.21" y2="730.10" stroke="#000" stroke-opacity="0.55" stroke-width="0.6"/>
<line x1="101.71" y1="644.50" x2="104.71" y2="644.50" stroke="#000" stroke-width="0.8"/>
<line x1="101.71" y1="730.10" x2="104.71" y2="730.10" stroke="#000" stroke-width="0.8"/>
<line x1="110.86" y1="628.50" x2="110.86" y2="703.50" stroke="#000" stroke-opacity="0.55" stroke-width="0.6"/>
<line x1="109.36" y1="628.50" x2="112.36" y2="628.50" stroke="#000" stroke-width="0.8"/>
<line x1="109.36" y1="703.50" x2="112.36" y2="703.50" stroke="#000" stroke-width="0.8"/>
<line x1="118.50" y1="648.40" x2="118.50" y2="727.50" stroke="#000" stroke-opacity="0.55" stroke-width="0.6"/>
<line x1="117.00" y1="648.40" x2="120.00" y2="648.40" stroke="#000" stroke-width="0.8"/>
<line x1="117.00" y1="727.50" x2="120.00" y2="727.50" stroke="#000" stroke-width="0.8"/>
<line x1="126.14" y1="645.90" x2="126.14" y2="748.30" stroke="#000" stroke-opacity="0.55" stroke-width="0.6"/>
<line x1="124.64" y1="645.90" x2="127.64" y2="645.90" stroke="#000" stroke-width="0.8"/>
<line x1="124.64" y1="748.30" x2="127.64" y2="748.30" stroke="#000" stroke-width="0.8"/>
<line x1="133.79" y1="648.20" x2="133.79" y2="740.40" stroke="#000" stroke-opacity="0.55" stroke-width="0.6"/>
<line x1="132.29" y1="648.20" x2="135.29" y2="648.20" stroke="#000" stroke-width="0.8"/>
<line x1="132.29" y1="740.40" x2="135.29" y2="740.40" stroke="#000" stroke-width="0.8"/>
<line x1="141.43" y1="630.50" x2="141.43" y2="724.30" stroke="#000" stroke-opacity="0.55" stroke-width="0.6"/>
<line x1="139.93" y1="630.50" x2="142.93" y2="630.50" stroke="#000" stroke-width="0.8"/>
<line x1="139.93" y1="724.30" x2="142.93" y2="724.30" stroke="#000" stroke-width="0.8"/>
<line x1="149.08" y1="634.30" x2="149.08" y2="737.40" stroke="#000" stroke-opacity="0.55" stroke-width="0.6"/>
<line x1="147.58" y1="634.30" x2="150.58" y2="634.30" stroke="#000" stroke-width="0.8"/>
<line x1="147.58" y1="737.40" x2="150.58" y2="737.40" stroke="#000" stroke-width="0.8"/>
<line x1="156.72" y1="667.50" x2="156.72" y2="749.30" stroke="#000" stroke-opacity="0.55" stroke-width="0.6"/>
<line x1="155.22" y1="667.50" x2="158.22" y2="667.50" stroke="#000" stroke-width="0.8"/>
<line x1="172.01" y1="641.30" x2="172.01" y2="726.80" stroke="#000" stroke-opacity="0.55" stroke-width="0.6"/>
<line x1="170.51" y1="641.30" x2="173.51" y2="641.30" stroke="#000" stroke-width="0.8"/>
<line x1="170.51" y1="726.80" x2="173.51" y2="726.80" stroke="#000" stroke-width="0.8"/>
<line x1="179.66" y1="645.20" x2="179.66" y2="745.40" stroke="#000" stroke-opacity="0.55" stroke-width="0.6"/>
<line x1="178.16" y1="645.20" x2="181.16" y2="645.20" stroke="#000" stroke-width="0.8"/>
<line x1="178.16" y1="745.40" x2="181.16" y2="745.40" stroke="#000" stroke-width="0.8"/>
<line x1="187.30" y1="643.40" x2="187.30" y2="737.10" stroke="#000" stroke-opacity="0.55" stroke-width="0.6"/>
<line x1="185.80" y1="643.40" x2="188.80" y2="643.40" stroke="#000" stroke-width="0.8"/>
<line x1="185.80" y1="737.10" x2="188.80" y2="737.10" stroke="#000" stroke-width="0.8"/>
<line x1="194.94" y1="633.50" x2="194.94" y2="721.30" stroke="#000" stroke-opacity="0.55" stroke-width="0.6"/>
<line x1="193.44" y1="633.50" x2="196.44" y2="633.50" stroke="#000" stroke-width="0.8"/>
<line x1="193.44" y1="721.30" x2="196.44" y2="721.30" stroke="#000" stroke-width="0.8"/>
<line x1="32.50" y1="577.50" x2="204.50" y2="577.50" stroke="#000" stroke-width="1.0"/>
<line x1="164.37" y1="568.50" x2="164.37" y2="749.30" stroke="#111" stroke-width="1.0"/>
<path d="M42.06 656.02 L49.70 664.76 L57.34 649.24 L64.99 667.73 L72.63 667.73 L80.28 649.96 L87.92 663.01 L95.57 664.76 L103.21 643.18 L110.86 648.22 L118.50 669.07 L126.14 644.00 L133.79 638.25 L141.43 664.86 L149.08 662.91 L156.72 670.61" fill="none" stroke="#1e90ff" stroke-width="1.15" stroke-dasharray="2.6 1.3"/>
<path d="M172.01 658.28 L179.66 656.23 L187.30 657.87" fill="none" stroke="#1e90ff" stroke-width="1.15" stroke-dasharray="2.6 1.3"/>
<circle cx="42.06" cy="656.02" r="1.35" fill="#1e90ff"/>
<circle cx="49.70" cy="664.76" r="1.35" fill="#1e90ff"/>
<circle cx="57.34" cy="649.24" r="1.35" fill="#1e90ff"/>
<circle cx="64.99" cy="667.73" r="1.35" fill="#1e90ff"/>
<circle cx="72.63" cy="667.73" r="1.35" fill="#1e90ff"/>
<circle cx="80.28" cy="649.96" r="1.35" fill="#1e90ff"/>
<circle cx="87.92" cy="663.01" r="1.35" fill="#1e90ff"/>
<circle cx="95.57" cy="664.76" r="1.35" fill="#1e90ff"/>
<circle cx="103.21" cy="643.18" r="1.35" fill="#1e90ff"/>
<circle cx="110.86" cy="648.22" r="1.35" fill="#1e90ff"/>
<circle cx="118.50" cy="669.07" r="1.35" fill="#1e90ff"/>
<circle cx="126.14" cy="644.00" r="1.35" fill="#1e90ff"/>
<circle cx="133.79" cy="638.25" r="1.35" fill="#1e90ff"/>
<circle cx="141.43" cy="664.86" r="1.35" fill="#1e90ff"/>
<circle cx="149.08" cy="662.91" r="1.35" fill="#1e90ff"/>
<circle cx="156.72" cy="670.61" r="1.35" fill="#1e90ff"/>
<circle cx="172.01" cy="658.28" r="1.35" fill="#1e90ff"/>
<circle cx="179.66" cy="656.23" r="1.35" fill="#1e90ff"/>
<circle cx="187.30" cy="657.87" r="1.35" fill="#1e90ff"/>
<path d="M42.06 674.62 L49.70 672.36 L57.34 665.78 L64.99 671.74 L72.63 672.77 L80.28 664.76 L87.92 679.86 L95.57 691.05 L103.21 652.63 L110.86 667.53 L118.50 676.57 L126.14 661.16 L133.79 647.09 L141.43 674.82 L149.08 678.42 L156.72 673.49" fill="none" stroke="#ff0000" stroke-width="1.15" stroke-dasharray="2.6 1.3"/>
<path d="M172.01 671.64 L179.66 667.02 L187.30 670.20" fill="none" stroke="#ff0000" stroke-width="1.15" stroke-dasharray="2.6 1.3"/>
<circle cx="42.06" cy="674.62" r="1.35" fill="#ff0000"/>
<circle cx="49.70" cy="672.36" r="1.35" fill="#ff0000"/>
<circle cx="57.34" cy="665.78" r="1.35" fill="#ff0000"/>
<circle cx="64.99" cy="671.74" r="1.35" fill="#ff0000"/>
<circle cx="72.63" cy="672.77" r="1.35" fill="#ff0000"/>
<circle cx="80.28" cy="664.76" r="1.35" fill="#ff0000"/>
<circle cx="87.92" cy="679.86" r="1.35" fill="#ff0000"/>
<circle cx="95.57" cy="691.05" r="1.35" fill="#ff0000"/>
<circle cx="103.21" cy="652.63" r="1.35" fill="#ff0000"/>
<circle cx="110.86" cy="667.53" r="1.35" fill="#ff0000"/>
<circle cx="118.50" cy="676.57" r="1.35" fill="#ff0000"/>
<circle cx="126.14" cy="661.16" r="1.35" fill="#ff0000"/>
<circle cx="133.79" cy="647.09" r="1.35" fill="#ff0000"/>
<circle cx="141.43" cy="674.82" r="1.35" fill="#ff0000"/>
<circle cx="149.08" cy="678.42" r="1.35" fill="#ff0000"/>
<circle cx="156.72" cy="673.49" r="1.35" fill="#ff0000"/>
<circle cx="172.01" cy="671.64" r="1.35" fill="#ff0000"/>
<circle cx="179.66" cy="667.02" r="1.35" fill="#ff0000"/>
<circle cx="187.30" cy="670.20" r="1.35" fill="#ff0000"/>
<path d="M42.06 730.40 L49.70 741.49 L57.34 732.66 L64.99 744.88 L72.63 744.16 L80.28 734.40 L87.92 732.25 L95.57 722.80 L103.21 739.34 L110.86 729.88 L118.50 741.60 L126.14 732.25 L133.79 740.16 L141.43 738.31 L149.08 733.69 L156.72 746.73" fill="none" stroke="#8a2be2" stroke-width="1.15" stroke-dasharray="2.6 1.3"/>
<path d="M172.01 735.95 L179.66 738.31 L187.30 736.87" fill="none" stroke="#8a2be2" stroke-width="1.15" stroke-dasharray="2.6 1.3"/>
<circle cx="42.06" cy="730.40" r="1.35" fill="#8a2be2"/>
<circle cx="49.70" cy="741.49" r="1.35" fill="#8a2be2"/>
<circle cx="57.34" cy="732.66" r="1.35" fill="#8a2be2"/>
<circle cx="64.99" cy="744.88" r="1.35" fill="#8a2be2"/>
<circle cx="72.63" cy="744.16" r="1.35" fill="#8a2be2"/>
<circle cx="80.28" cy="734.40" r="1.35" fill="#8a2be2"/>
<circle cx="87.92" cy="732.25" r="1.35" fill="#8a2be2"/>
<circle cx="95.57" cy="722.80" r="1.35" fill="#8a2be2"/>
<circle cx="103.21" cy="739.34" r="1.35" fill="#8a2be2"/>
<circle cx="110.86" cy="729.88" r="1.35" fill="#8a2be2"/>
<circle cx="118.50" cy="741.60" r="1.35" fill="#8a2be2"/>
<circle cx="126.14" cy="732.25" r="1.35" fill="#8a2be2"/>
<circle cx="133.79" cy="740.16" r="1.35" fill="#8a2be2"/>
<circle cx="141.43" cy="738.31" r="1.35" fill="#8a2be2"/>
<circle cx="149.08" cy="733.69" r="1.35" fill="#8a2be2"/>
<circle cx="156.72" cy="746.73" r="1.35" fill="#8a2be2"/>
<circle cx="172.01" cy="735.95" r="1.35" fill="#8a2be2"/>
<circle cx="179.66" cy="738.31" r="1.35" fill="#8a2be2"/>
<circle cx="187.30" cy="736.87" r="1.35" fill="#8a2be2"/>
<rect x="32.50" y="568.50" width="172.00" height="180.80" fill="none" stroke="#000" stroke-width="0.8"/>
<text x="118.50" y="562.30" font-size="6.49" font-weight="bold" text-anchor="middle" fill="#000" stroke="#000" stroke-width="0.2" textLength="48.69" lengthAdjust="spacingAndGlyphs">g) Spring (AM)</text>
<text x="6.52" y="658.90" font-size="6.49" font-weight="bold" text-anchor="middle" fill="#000" stroke="#000" stroke-width="0.2" textLength="57.17" lengthAdjust="spacingAndGlyphs" transform="rotate(-90 6.52 658.90)">Temperature (°C)</text>
<text x="225.00" y="658.90" font-size="6.49" font-weight="bold" text-anchor="middle" fill="#1e90ff" stroke="#1e90ff" stroke-width="0.2" textLength="76.67" lengthAdjust="spacingAndGlyphs" transform="rotate(-90 225.00 658.90)">Precipitation (mm/day)</text>
<text x="118.50" y="814.10" font-size="6.49" font-weight="bold" text-anchor="middle" fill="#000" stroke="#000" stroke-width="0.2" textLength="23.68" lengthAdjust="spacingAndGlyphs">Models</text>
<text x="40.86" y="756.00" font-size="6.21" text-anchor="end" fill="#000" stroke="#000" stroke-width="0.2" textLength="21.26" lengthAdjust="spacingAndGlyphs" transform="rotate(-70 40.86 756.00)">MIROC6</text>
<text x="48.50" y="756.00" font-size="6.21" text-anchor="end" fill="#000" stroke="#000" stroke-width="0.2" textLength="38.13" lengthAdjust="spacingAndGlyphs" transform="rotate(-70 48.50 756.00)">CNRM-ESM2-1</text>
<text x="56.14" y="756.00" font-size="6.21" text-anchor="end" fill="#000" stroke="#000" stroke-width="0.2" textLength="36.94" lengthAdjust="spacingAndGlyphs" transform="rotate(-70 56.14 756.00)">IPSL-CM6A-LR</text>
<text x="63.79" y="756.00" font-size="6.21" text-anchor="end" fill="#000" stroke="#000" stroke-width="0.2" textLength="52.97" lengthAdjust="spacingAndGlyphs" transform="rotate(-70 63.79 756.00)">CESM2-WACCM-FV2</text>
<text x="71.43" y="756.00" font-size="6.21" text-anchor="end" fill="#000" stroke="#000" stroke-width="0.2" textLength="33.80" lengthAdjust="spacingAndGlyphs" transform="rotate(-70 71.43 756.00)">NorESM2-LM</text>
<text x="79.08" y="756.00" font-size="6.21" text-anchor="end" fill="#000" stroke="#000" stroke-width="0.2" textLength="51.63" lengthAdjust="spacingAndGlyphs" transform="rotate(-70 79.08 756.00)">IPSL-CM6A-LR-INCA</text>
<text x="86.72" y="756.00" font-size="6.21" text-anchor="end" fill="#000" stroke="#000" stroke-width="0.2" textLength="35.43" lengthAdjust="spacingAndGlyphs" transform="rotate(-70 86.72 756.00)">NorESM2-MM</text>
<text x="94.37" y="756.00" font-size="6.21" text-anchor="end" fill="#000" stroke="#000" stroke-width="0.2" textLength="47.64" lengthAdjust="spacingAndGlyphs" transform="rotate(-70 94.37 756.00)">MPI-ESM-1-2-HAM</text>
<text x="102.01" y="756.00" font-size="6.21" text-anchor="end" fill="#000" stroke="#000" stroke-width="0.2" textLength="46.74" lengthAdjust="spacingAndGlyphs" transform="rotate(-70 102.01 756.00)">IPSL-CM5A2-INCA</text>
<text x="109.66" y="756.00" font-size="6.21" text-anchor="end" fill="#000" stroke="#000" stroke-width="0.2" textLength="31.97" lengthAdjust="spacingAndGlyphs" transform="rotate(-70 109.66 756.00)">MRI-ESM2-0</text>
<text x="117.30" y="756.00" font-size="6.21" text-anchor="end" fill="#000" stroke="#000" stroke-width="0.2" textLength="53.30" lengthAdjust="spacingAndGlyphs" transform="rotate(-70 117.30 756.00)">EC-Earth3-AerChem</text>
<text x="124.94" y="756.00" font-size="6.21" text-anchor="end" fill="#000" stroke="#000" stroke-width="0.2" textLength="32.84" lengthAdjust="spacingAndGlyphs" transform="rotate(-70 124.94 756.00)">GISS-E2-1-G</text>
<text x="132.59" y="756.00" font-size="6.21" text-anchor="end" fill="#000" stroke="#000" stroke-width="0.2" textLength="32.52" lengthAdjust="spacingAndGlyphs" transform="rotate(-70 132.59 756.00)">GISS-E2-1-H</text>
<text x="140.23" y="756.00" font-size="6.21" text-anchor="end" fill="#000" stroke="#000" stroke-width="0.2" textLength="29.22" lengthAdjust="spacingAndGlyphs" transform="rotate(-70 140.23 756.00)">INM-CM5-0</text>
<text x="147.88" y="756.00" font-size="6.21" text-anchor="end" fill="#000" stroke="#000" stroke-width="0.2" textLength="29.22" lengthAdjust="spacingAndGlyphs" transform="rotate(-70 147.88 756.00)">INM-CM4-8</text>
<text x="155.52" y="756.00" font-size="6.21" text-anchor="end" fill="#000" stroke="#000" stroke-width="0.2" textLength="32.84" lengthAdjust="spacingAndGlyphs" transform="rotate(-70 155.52 756.00)">GISS-E2-2-G</text>
<text x="170.81" y="756.00" font-size="6.21" text-anchor="end" fill="#000" stroke="#000" stroke-width="0.2" textLength="43.86" lengthAdjust="spacingAndGlyphs" transform="rotate(-70 170.81 756.00)">MMM (Low AOD)</text>
<text x="178.46" y="756.00" font-size="6.21" text-anchor="end" fill="#000" stroke="#000" stroke-width="0.2" textLength="45.62" lengthAdjust="spacingAndGlyphs" transform="rotate(-70 178.46 756.00)">MMM (High AOD)</text>
<text x="186.10" y="756.00" font-size="6.21" text-anchor="end" fill="#000" stroke="#000" stroke-width="0.2" textLength="26.36" lengthAdjust="spacingAndGlyphs" transform="rotate(-70 186.10 756.00)">MMM (All)</text>
<text x="193.74" y="756.00" font-size="6.21" text-anchor="end" fill="#000" stroke="#000" stroke-width="0.2" textLength="34.01" lengthAdjust="spacingAndGlyphs" transform="rotate(-70 193.74 756.00)">Satellite Obs</text>
<path d="M271.07 749.30v2.6 M271.07 568.50v-1.8 M278.72 749.30v2.6 M278.72 568.50v-1.8 M286.37 749.30v2.6 M286.37 568.50v-1.8 M294.03 749.30v2.6 M294.03 568.50v-1.8 M301.68 749.30v2.6 M301.68 568.50v-1.8 M309.33 749.30v2.6 M309.33 568.50v-1.8 M316.99 749.30v2.6 M316.99 568.50v-1.8 M324.64 749.30v2.6 M324.64 568.50v-1.8 M332.29 749.30v2.6 M332.29 568.50v-1.8 M339.95 749.30v2.6 M339.95 568.50v-1.8 M347.60 749.30v2.6 M347.60 568.50v-1.8 M355.25 749.30v2.6 M355.25 568.50v-1.8 M362.91 749.30v2.6 M362.91 568.50v-1.8 M370.56 749.30v2.6 M370.56 568.50v-1.8 M378.21 749.30v2.6 M378.21 568.50v-1.8 M385.87 749.30v2.6 M385.87 568.50v-1.8 M393.52 749.30v2.6 M393.52 568.50v-1.8 M401.17 749.30v2.6 M401.17 568.50v-1.8 M408.83 749.30v2.6 M408.83 568.50v-1.8 M416.48 749.30v2.6 M416.48 568.50v-1.8 M424.13 749.30v2.6 M424.13 568.50v-1.8 M261.50 576.40h-2.6 M261.50 600.50h-2.6 M261.50 624.60h-2.6 M261.50 648.70h-2.6 M261.50 672.80h-2.6 M261.50 696.90h-2.6 M261.50 721.00h-2.6 M261.50 745.10h-2.6" stroke="#000" stroke-width="0.6" fill="none"/>
<path d="M433.70 749.30h2.6 M433.70 723.47h2.6 M433.70 697.64h2.6 M433.70 671.81h2.6 M433.70 645.99h2.6 M433.70 620.16h2.6 M433.70 594.33h2.6 M433.70 568.50h2.6 M433.70 742.84h1.5 M433.70 736.39h1.5 M433.70 729.93h1.5 M433.70 717.01h1.5 M433.70 710.56h1.5 M433.70 704.10h1.5 M433.70 691.19h1.5 M433.70 684.73h1.5 M433.70 678.27h1.5 M433.70 665.36h1.5 M433.70 658.90h1.5 M433.70 652.44h1.5 M433.70 639.53h1.5 M433.70 633.07h1.5 M433.70 626.61h1.5 M433.70 613.70h1.5 M433.70 607.24h1.5 M433.70 600.79h1.5 M433.70 587.87h1.5 M433.70 581.41h1.5 M433.70 574.96h1.5" stroke="#1e90ff" stroke-width="0.6" fill="none"/>
<text x="257.00" y="578.50" font-size="6.49" text-anchor="end" fill="#000" stroke="#000" stroke-width="0.2" textLength="13.14" lengthAdjust="spacingAndGlyphs">0.00</text>
<text x="257.00" y="602.60" font-size="6.49" text-anchor="end" fill="#000" stroke="#000" stroke-width="0.2" textLength="18.08" lengthAdjust="spacingAndGlyphs">−0.25</text>
<text x="257.00" y="626.70" font-size="6.49" text-anchor="end" fill="#000" stroke="#000" stroke-width="0.2" textLength="18.08" lengthAdjust="spacingAndGlyphs">−0.50</text>
<text x="257.00" y="650.80" font-size="6.49" text-anchor="end" fill="#000" stroke="#000" stroke-width="0.2" textLength="18.08" lengthAdjust="spacingAndGlyphs">−0.75</text>
<text x="257.00" y="674.90" font-size="6.49" text-anchor="end" fill="#000" stroke="#000" stroke-width="0.2" textLength="18.08" lengthAdjust="spacingAndGlyphs">−1.00</text>
<text x="257.00" y="699.00" font-size="6.49" text-anchor="end" fill="#000" stroke="#000" stroke-width="0.2" textLength="18.08" lengthAdjust="spacingAndGlyphs">−1.25</text>
<text x="257.00" y="723.10" font-size="6.49" text-anchor="end" fill="#000" stroke="#000" stroke-width="0.2" textLength="18.08" lengthAdjust="spacingAndGlyphs">−1.50</text>
<text x="257.00" y="747.20" font-size="6.49" text-anchor="end" fill="#000" stroke="#000" stroke-width="0.2" textLength="18.08" lengthAdjust="spacingAndGlyphs">−1.75</text>
<text x="437.90" y="752.20" font-size="6.49" text-anchor="start" fill="#1e90ff" stroke="#1e90ff" stroke-width="0.2" textLength="9.38" lengthAdjust="spacingAndGlyphs">0.0</text>
<text x="437.90" y="726.37" font-size="6.49" text-anchor="start" fill="#1e90ff" stroke="#1e90ff" stroke-width="0.2" textLength="9.38" lengthAdjust="spacingAndGlyphs">0.2</text>
<text x="437.90" y="700.54" font-size="6.49" text-anchor="start" fill="#1e90ff" stroke="#1e90ff" stroke-width="0.2" textLength="9.38" lengthAdjust="spacingAndGlyphs">0.4</text>
<text x="437.90" y="674.71" font-size="6.49" text-anchor="start" fill="#1e90ff" stroke="#1e90ff" stroke-width="0.2" textLength="9.38" lengthAdjust="spacingAndGlyphs">0.6</text>
<text x="437.90" y="648.89" font-size="6.49" text-anchor="start" fill="#1e90ff" stroke="#1e90ff" stroke-width="0.2" textLength="9.38" lengthAdjust="spacingAndGlyphs">0.8</text>
<text x="437.90" y="623.06" font-size="6.49" text-anchor="start" fill="#1e90ff" stroke="#1e90ff" stroke-width="0.2" textLength="9.38" lengthAdjust="spacingAndGlyphs">1.0</text>
<text x="437.90" y="597.23" font-size="6.49" text-anchor="start" fill="#1e90ff" stroke="#1e90ff" stroke-width="0.2" textLength="9.38" lengthAdjust="spacingAndGlyphs">1.2</text>
<text x="437.90" y="571.40" font-size="6.49" text-anchor="start" fill="#1e90ff" stroke="#1e90ff" stroke-width="0.2" textLength="9.38" lengthAdjust="spacingAndGlyphs">1.4</text>
<rect x="269.15" y="576.50" width="3.83" height="101.70" fill="#b0c4de"/>
<rect x="276.81" y="576.50" width="3.83" height="38.70" fill="#b0c4de"/>
<rect x="284.46" y="576.50" width="3.83" height="96.30" fill="#b0c4de"/>
<rect x="292.11" y="576.50" width="3.83" height="98.90" fill="#b0c4de"/>
<rect x="299.77" y="576.50" width="3.83" height="16.40" fill="#b0c4de"/>
<rect x="307.42" y="576.50" width="3.83" height="34.50" fill="#b0c4de"/>
<rect x="315.07" y="576.50" width="3.83" height="90.60" fill="#b0c4de"/>
<rect x="322.73" y="576.50" width="3.83" height="103.90" fill="#b0c4de"/>
<rect x="330.38" y="576.50" width="3.83" height="32.10" fill="#b0c4de"/>
<rect x="338.03" y="576.50" width="3.83" height="64.90" fill="#b0c4de"/>
<rect x="345.69" y="576.50" width="3.83" height="32.10" fill="#b0c4de"/>
<rect x="353.34" y="576.50" width="3.83" height="73.20" fill="#b0c4de"/>
<rect x="360.99" y="576.50" width="3.83" height="70.20" fill="#b0c4de"/>
<rect x="368.65" y="576.50" width="3.83" height="45.00" fill="#b0c4de"/>
<rect x="376.30" y="576.50" width="3.83" height="53.20" fill="#b0c4de"/>
<rect x="383.95" y="576.50" width="3.83" height="68.60" fill="#b0c4de"/>
<rect x="399.26" y="576.50" width="3.83" height="64.90" fill="#b0c4de"/>
<rect x="406.91" y="576.50" width="3.83" height="62.30" fill="#b0c4de"/>
<rect x="414.57" y="576.50" width="3.83" height="26.30" fill="#b0c4de"/>
<rect x="422.22" y="576.50" width="3.83" height="86.80" fill="#bf00bf"/>
<line x1="271.07" y1="615.60" x2="271.07" y2="741.20" stroke="#000" stroke-opacity="0.55" stroke-width="0.6"/>
<line x1="269.57" y1="615.60" x2="272.57" y2="615.60" stroke="#000" stroke-width="0.8"/>
<line x1="269.57" y1="741.20" x2="272.57" y2="741.20" stroke="#000" stroke-width="0.8"/>
<line x1="278.72" y1="589.50" x2="278.72" y2="640.90" stroke="#000" stroke-opacity="0.55" stroke-width="0.6"/>
<line x1="277.22" y1="589.50" x2="280.22" y2="589.50" stroke="#000" stroke-width="0.8"/>
<line x1="277.22" y1="640.90" x2="280.22" y2="640.90" stroke="#000" stroke-width="0.8"/>
<line x1="286.37" y1="650.00" x2="286.37" y2="695.60" stroke="#000" stroke-opacity="0.55" stroke-width="0.6"/>
<line x1="284.87" y1="650.00" x2="287.87" y2="650.00" stroke="#000" stroke-width="0.8"/>
<line x1="284.87" y1="695.60" x2="287.87" y2="695.60" stroke="#000" stroke-width="0.8"/>
<line x1="294.03" y1="636.00" x2="294.03" y2="713.90" stroke="#000" stroke-opacity="0.55" stroke-width="0.6"/>
<line x1="292.53" y1="636.00" x2="295.53" y2="636.00" stroke="#000" stroke-width="0.8"/>
<line x1="292.53" y1="713.90" x2="295.53" y2="713.90" stroke="#000" stroke-width="0.8"/>
<line x1="301.68" y1="580.40" x2="301.68" y2="605.30" stroke="#000" stroke-opacity="0.55" stroke-width="0.6"/>
<line x1="300.18" y1="580.40" x2="303.18" y2="580.40" stroke="#000" stroke-width="0.8"/>
<line x1="300.18" y1="605.30" x2="303.18" y2="605.30" stroke="#000" stroke-width="0.8"/>
<line x1="309.33" y1="595.30" x2="309.33" y2="631.30" stroke="#000" stroke-opacity="0.55" stroke-width="0.6"/>
<line x1="307.83" y1="595.30" x2="310.83" y2="595.30" stroke="#000" stroke-width="0.8"/>
<line x1="307.83" y1="631.30" x2="310.83" y2="631.30" stroke="#000" stroke-width="0.8"/>
<line x1="316.99" y1="613.10" x2="316.99" y2="720.50" stroke="#000" stroke-opacity="0.55" stroke-width="0.6"/>
<line x1="315.49" y1="613.10" x2="318.49" y2="613.10" stroke="#000" stroke-width="0.8"/>
<line x1="315.49" y1="720.50" x2="318.49" y2="720.50" stroke="#000" stroke-width="0.8"/>
<line x1="324.64" y1="616.40" x2="324.64" y2="743.20" stroke="#000" stroke-opacity="0.55" stroke-width="0.6"/>
<line x1="323.14" y1="616.40" x2="326.14" y2="616.40" stroke="#000" stroke-width="0.8"/>
<line x1="323.14" y1="743.20" x2="326.14" y2="743.20" stroke="#000" stroke-width="0.8"/>
<line x1="332.29" y1="581.30" x2="332.29" y2="635.50" stroke="#000" stroke-opacity="0.55" stroke-width="0.6"/>
<line x1="330.79" y1="581.30" x2="333.79" y2="581.30" stroke="#000" stroke-width="0.8"/>
<line x1="330.79" y1="635.50" x2="333.79" y2="635.50" stroke="#000" stroke-width="0.8"/>
<line x1="339.95" y1="610.30" x2="339.95" y2="671.30" stroke="#000" stroke-opacity="0.55" stroke-width="0.6"/>
<line x1="338.45" y1="610.30" x2="341.45" y2="610.30" stroke="#000" stroke-width="0.8"/>
<line x1="338.45" y1="671.30" x2="341.45" y2="671.30" stroke="#000" stroke-width="0.8"/>
<line x1="347.60" y1="582.60" x2="347.60" y2="634.30" stroke="#000" stroke-opacity="0.55" stroke-width="0.6"/>
<line x1="346.10" y1="582.60" x2="349.10" y2="582.60" stroke="#000" stroke-width="0.8"/>
<line x1="346.10" y1="634.30" x2="349.10" y2="634.30" stroke="#000" stroke-width="0.8"/>
<line x1="355.25" y1="587.10" x2="355.25" y2="712.20" stroke="#000" stroke-opacity="0.55" stroke-width="0.6"/>
<line x1="353.75" y1="587.10" x2="356.75" y2="587.10" stroke="#000" stroke-width="0.8"/>
<line x1="353.75" y1="712.20" x2="356.75" y2="712.20" stroke="#000" stroke-width="0.8"/>
<line x1="362.91" y1="590.40" x2="362.91" y2="702.60" stroke="#000" stroke-opacity="0.55" stroke-width="0.6"/>
<line x1="361.41" y1="590.40" x2="364.41" y2="590.40" stroke="#000" stroke-width="0.8"/>
<line x1="361.41" y1="702.60" x2="364.41" y2="702.60" stroke="#000" stroke-width="0.8"/>
<line x1="370.56" y1="591.20" x2="370.56" y2="652.20" stroke="#000" stroke-opacity="0.55" stroke-width="0.6"/>
<line x1="369.06" y1="591.20" x2="372.06" y2="591.20" stroke="#000" stroke-width="0.8"/>
<line x1="369.06" y1="652.20" x2="372.06" y2="652.20" stroke="#000" stroke-width="0.8"/>
<line x1="378.21" y1="593.40" x2="378.21" y2="665.50" stroke="#000" stroke-opacity="0.55" stroke-width="0.6"/>
<line x1="376.71" y1="593.40" x2="379.71" y2="593.40" stroke="#000" stroke-width="0.8"/>
<line x1="376.71" y1="665.50" x2="379.71" y2="665.50" stroke="#000" stroke-width="0.8"/>
<line x1="385.87" y1="611.10" x2="385.87" y2="681.20" stroke="#000" stroke-opacity="0.55" stroke-width="0.6"/>
<line x1="384.37" y1="611.10" x2="387.37" y2="611.10" stroke="#000" stroke-width="0.8"/>
<line x1="384.37" y1="681.20" x2="387.37" y2="681.20" stroke="#000" stroke-width="0.8"/>
<line x1="401.17" y1="606.50" x2="401.17" y2="675.40" stroke="#000" stroke-opacity="0.55" stroke-width="0.6"/>
<line x1="399.67" y1="606.50" x2="402.67" y2="606.50" stroke="#000" stroke-width="0.8"/>
<line x1="399.67" y1="675.40" x2="402.67" y2="675.40" stroke="#000" stroke-width="0.8"/>
<line x1="408.83" y1="594.20" x2="408.83" y2="682.40" stroke="#000" stroke-opacity="0.55" stroke-width="0.6"/>
<line x1="407.33" y1="594.20" x2="410.33" y2="594.20" stroke="#000" stroke-width="0.8"/>
<line x1="407.33" y1="682.40" x2="410.33" y2="682.40" stroke="#000" stroke-width="0.8"/>
<line x1="416.48" y1="568.50" x2="416.48" y2="640.40" stroke="#000" stroke-opacity="0.55" stroke-width="0.6"/>
<line x1="414.98" y1="640.40" x2="417.98" y2="640.40" stroke="#000" stroke-width="0.8"/>
<line x1="424.13" y1="632.10" x2="424.13" y2="694.00" stroke="#000" stroke-opacity="0.55" stroke-width="0.6"/>
<line x1="422.63" y1="632.10" x2="425.63" y2="632.10" stroke="#000" stroke-width="0.8"/>
<line x1="422.63" y1="694.00" x2="425.63" y2="694.00" stroke="#000" stroke-width="0.8"/>
<line x1="261.50" y1="576.50" x2="433.70" y2="576.50" stroke="#000" stroke-width="1.0"/>
<line x1="393.52" y1="568.50" x2="393.52" y2="749.30" stroke="#111" stroke-width="1.0"/>
<path d="M271.07 593.05 L278.72 587.81 L286.37 591.72 L294.03 604.45 L301.68 623.66 L309.33 609.39 L316.99 609.39 L324.64 588.53 L332.29 602.81 L339.95 588.02 L347.60 581.96 L355.25 598.39 L362.91 601.78 L370.56 610.72 L378.21 606.00 L385.87 638.56" fill="none" stroke="#1e90ff" stroke-width="1.15" stroke-dasharray="2.6 1.3"/>
<path d="M401.17 598.09 L408.83 611.03 L416.48 602.19" fill="none" stroke="#1e90ff" stroke-width="1.15" stroke-dasharray="2.6 1.3"/>
<circle cx="271.07" cy="593.05" r="1.35" fill="#1e90ff"/>
<circle cx="278.72" cy="587.81" r="1.35" fill="#1e90ff"/>
<circle cx="286.37" cy="591.72" r="1.35" fill="#1e90ff"/>
<circle cx="294.03" cy="604.45" r="1.35" fill="#1e90ff"/>
<circle cx="301.68" cy="623.66" r="1.35" fill="#1e90ff"/>
<circle cx="309.33" cy="609.39" r="1.35" fill="#1e90ff"/>
<circle cx="316.99" cy="609.39" r="1.35" fill="#1e90ff"/>
<circle cx="324.64" cy="588.53" r="1.35" fill="#1e90ff"/>
<circle cx="332.29" cy="602.81" r="1.35" fill="#1e90ff"/>
<circle cx="339.95" cy="588.02" r="1.35" fill="#1e90ff"/>
<circle cx="347.60" cy="581.96" r="1.35" fill="#1e90ff"/>
<circle cx="355.25" cy="598.39" r="1.35" fill="#1e90ff"/>
<circle cx="362.91" cy="601.78" r="1.35" fill="#1e90ff"/>
<circle cx="370.56" cy="610.72" r="1.35" fill="#1e90ff"/>
<circle cx="378.21" cy="606.00" r="1.35" fill="#1e90ff"/>
<circle cx="385.87" cy="638.56" r="1.35" fill="#1e90ff"/>
<circle cx="401.17" cy="598.09" r="1.35" fill="#1e90ff"/>
<circle cx="408.83" cy="611.03" r="1.35" fill="#1e90ff"/>
<circle cx="416.48" cy="602.19" r="1.35" fill="#1e90ff"/>
<path d="M271.07 691.05 L278.72 692.80 L286.37 693.93 L294.03 709.54 L301.68 698.96 L309.33 691.26 L316.99 691.26 L324.64 695.27 L332.29 694.14 L339.95 691.88 L347.60 676.77 L355.25 668.86 L362.91 657.05 L370.56 656.23 L378.21 661.26 L385.87 645.55" fill="none" stroke="#ff0000" stroke-width="1.15" stroke-dasharray="2.6 1.3"/>
<path d="M401.17 693.21 L408.83 658.18 L416.48 676.77" fill="none" stroke="#ff0000" stroke-width="1.15" stroke-dasharray="2.6 1.3"/>
<circle cx="271.07" cy="691.05" r="1.35" fill="#ff0000"/>
<circle cx="278.72" cy="692.80" r="1.35" fill="#ff0000"/>
<circle cx="286.37" cy="693.93" r="1.35" fill="#ff0000"/>
<circle cx="294.03" cy="709.54" r="1.35" fill="#ff0000"/>
<circle cx="301.68" cy="698.96" r="1.35" fill="#ff0000"/>
<circle cx="309.33" cy="691.26" r="1.35" fill="#ff0000"/>
<circle cx="316.99" cy="691.26" r="1.35" fill="#ff0000"/>
<circle cx="324.64" cy="695.27" r="1.35" fill="#ff0000"/>
<circle cx="332.29" cy="694.14" r="1.35" fill="#ff0000"/>
<circle cx="339.95" cy="691.88" r="1.35" fill="#ff0000"/>
<circle cx="347.60" cy="676.77" r="1.35" fill="#ff0000"/>
<circle cx="355.25" cy="668.86" r="1.35" fill="#ff0000"/>
<circle cx="362.91" cy="657.05" r="1.35" fill="#ff0000"/>
<circle cx="370.56" cy="656.23" r="1.35" fill="#ff0000"/>
<circle cx="378.21" cy="661.26" r="1.35" fill="#ff0000"/>
<circle cx="385.87" cy="645.55" r="1.35" fill="#ff0000"/>
<circle cx="401.17" cy="693.21" r="1.35" fill="#ff0000"/>
<circle cx="408.83" cy="658.18" r="1.35" fill="#ff0000"/>
<circle cx="416.48" cy="676.77" r="1.35" fill="#ff0000"/>
<path d="M271.07 651.20 L278.72 644.21 L286.37 647.29 L294.03 644.21 L301.68 673.59 L309.33 667.53 L316.99 667.53 L324.64 642.77 L332.29 657.87 L339.95 644.93 L347.60 654.17 L355.25 678.42 L362.91 694.14 L370.56 703.69 L378.21 694.14 L385.87 741.60" fill="none" stroke="#8a2be2" stroke-width="1.15" stroke-dasharray="2.6 1.3"/>
<path d="M401.17 653.97 L408.83 702.05 L416.48 677.90" fill="none" stroke="#8a2be2" stroke-width="1.15" stroke-dasharray="2.6 1.3"/>
<circle cx="271.07" cy="651.20" r="1.35" fill="#8a2be2"/>
<circle cx="278.72" cy="644.21" r="1.35" fill="#8a2be2"/>
<circle cx="286.37" cy="647.29" r="1.35" fill="#8a2be2"/>
<circle cx="294.03" cy="644.21" r="1.35" fill="#8a2be2"/>
<circle cx="301.68" cy="673.59" r="1.35" fill="#8a2be2"/>
<circle cx="309.33" cy="667.53" r="1.35" fill="#8a2be2"/>
<circle cx="316.99" cy="667.53" r="1.35" fill="#8a2be2"/>
<circle cx="324.64" cy="642.77" r="1.35" fill="#8a2be2"/>
<circle cx="332.29" cy="657.87" r="1.35" fill="#8a2be2"/>
<circle cx="339.95" cy="644.93" r="1.35" fill="#8a2be2"/>
<circle cx="347.60" cy="654.17" r="1.35" fill="#8a2be2"/>
<circle cx="355.25" cy="678.42" r="1.35" fill="#8a2be2"/>
<circle cx="362.91" cy="694.14" r="1.35" fill="#8a2be2"/>
<circle cx="370.56" cy="703.69" r="1.35" fill="#8a2be2"/>
<circle cx="378.21" cy="694.14" r="1.35" fill="#8a2be2"/>
<circle cx="385.87" cy="741.60" r="1.35" fill="#8a2be2"/>
<circle cx="401.17" cy="653.97" r="1.35" fill="#8a2be2"/>
<circle cx="408.83" cy="702.05" r="1.35" fill="#8a2be2"/>
<circle cx="416.48" cy="677.90" r="1.35" fill="#8a2be2"/>
<rect x="261.50" y="568.50" width="172.20" height="180.80" fill="none" stroke="#000" stroke-width="0.8"/>
<text x="347.60" y="562.30" font-size="6.49" font-weight="bold" text-anchor="middle" fill="#000" stroke="#000" stroke-width="0.2" textLength="53.01" lengthAdjust="spacingAndGlyphs">h) Summer (JJA)</text>
<text x="235.52" y="658.90" font-size="6.49" font-weight="bold" text-anchor="middle" fill="#000" stroke="#000" stroke-width="0.2" textLength="57.17" lengthAdjust="spacingAndGlyphs" transform="rotate(-90 235.52 658.90)">Temperature (°C)</text>
<text x="454.20" y="658.90" font-size="6.49" font-weight="bold" text-anchor="middle" fill="#1e90ff" stroke="#1e90ff" stroke-width="0.2" textLength="76.67" lengthAdjust="spacingAndGlyphs" transform="rotate(-90 454.20 658.90)">Precipitation (mm/day)</text>
<text x="347.60" y="814.10" font-size="6.49" font-weight="bold" text-anchor="middle" fill="#000" stroke="#000" stroke-width="0.2" textLength="23.68" lengthAdjust="spacingAndGlyphs">Models</text>
<text x="269.87" y="756.00" font-size="6.21" text-anchor="end" fill="#000" stroke="#000" stroke-width="0.2" textLength="21.26" lengthAdjust="spacingAndGlyphs" transform="rotate(-70 269.87 756.00)">MIROC6</text>
<text x="277.52" y="756.00" font-size="6.21" text-anchor="end" fill="#000" stroke="#000" stroke-width="0.2" textLength="38.13" lengthAdjust="spacingAndGlyphs" transform="rotate(-70 277.52 756.00)">CNRM-ESM2-1</text>
<text x="285.17" y="756.00" font-size="6.21" text-anchor="end" fill="#000" stroke="#000" stroke-width="0.2" textLength="36.94" lengthAdjust="spacingAndGlyphs" transform="rotate(-70 285.17 756.00)">IPSL-CM6A-LR</text>
<text x="292.83" y="756.00" font-size="6.21" text-anchor="end" fill="#000" stroke="#000" stroke-width="0.2" textLength="47.64" lengthAdjust="spacingAndGlyphs" transform="rotate(-70 292.83 756.00)">MPI-ESM-1-2-HAM</text>
<text x="300.48" y="756.00" font-size="6.21" text-anchor="end" fill="#000" stroke="#000" stroke-width="0.2" textLength="52.97" lengthAdjust="spacingAndGlyphs" transform="rotate(-70 300.48 756.00)">CESM2-WACCM-FV2</text>
<text x="308.13" y="756.00" font-size="6.21" text-anchor="end" fill="#000" stroke="#000" stroke-width="0.2" textLength="33.80" lengthAdjust="spacingAndGlyphs" transform="rotate(-70 308.13 756.00)">NorESM2-LM</text>
<text x="315.79" y="756.00" font-size="6.21" text-anchor="end" fill="#000" stroke="#000" stroke-width="0.2" textLength="35.43" lengthAdjust="spacingAndGlyphs" transform="rotate(-70 315.79 756.00)">NorESM2-MM</text>
<text x="323.44" y="756.00" font-size="6.21" text-anchor="end" fill="#000" stroke="#000" stroke-width="0.2" textLength="51.63" lengthAdjust="spacingAndGlyphs" transform="rotate(-70 323.44 756.00)">IPSL-CM6A-LR-INCA</text>
<text x="331.09" y="756.00" font-size="6.21" text-anchor="end" fill="#000" stroke="#000" stroke-width="0.2" textLength="53.30" lengthAdjust="spacingAndGlyphs" transform="rotate(-70 331.09 756.00)">EC-Earth3-AerChem</text>
<text x="338.75" y="756.00" font-size="6.21" text-anchor="end" fill="#000" stroke="#000" stroke-width="0.2" textLength="31.97" lengthAdjust="spacingAndGlyphs" transform="rotate(-70 338.75 756.00)">MRI-ESM2-0</text>
<text x="346.40" y="756.00" font-size="6.21" text-anchor="end" fill="#000" stroke="#000" stroke-width="0.2" textLength="46.74" lengthAdjust="spacingAndGlyphs" transform="rotate(-70 346.40 756.00)">IPSL-CM5A2-INCA</text>
<text x="354.05" y="756.00" font-size="6.21" text-anchor="end" fill="#000" stroke="#000" stroke-width="0.2" textLength="32.52" lengthAdjust="spacingAndGlyphs" transform="rotate(-70 354.05 756.00)">GISS-E2-1-H</text>
<text x="361.71" y="756.00" font-size="6.21" text-anchor="end" fill="#000" stroke="#000" stroke-width="0.2" textLength="32.84" lengthAdjust="spacingAndGlyphs" transform="rotate(-70 361.71 756.00)">GISS-E2-1-G</text>
<text x="369.36" y="756.00" font-size="6.21" text-anchor="end" fill="#000" stroke="#000" stroke-width="0.2" textLength="29.22" lengthAdjust="spacingAndGlyphs" transform="rotate(-70 369.36 756.00)">INM-CM5-0</text>
<text x="377.01" y="756.00" font-size="6.21" text-anchor="end" fill="#000" stroke="#000" stroke-width="0.2" textLength="29.22" lengthAdjust="spacingAndGlyphs" transform="rotate(-70 377.01 756.00)">INM-CM4-8</text>
<text x="384.67" y="756.00" font-size="6.21" text-anchor="end" fill="#000" stroke="#000" stroke-width="0.2" textLength="32.84" lengthAdjust="spacingAndGlyphs" transform="rotate(-70 384.67 756.00)">GISS-E2-2-G</text>
<text x="399.97" y="756.00" font-size="6.21" text-anchor="end" fill="#000" stroke="#000" stroke-width="0.2" textLength="43.86" lengthAdjust="spacingAndGlyphs" transform="rotate(-70 399.97 756.00)">MMM (Low AOD)</text>
<text x="407.63" y="756.00" font-size="6.21" text-anchor="end" fill="#000" stroke="#000" stroke-width="0.2" textLength="45.62" lengthAdjust="spacingAndGlyphs" transform="rotate(-70 407.63 756.00)">MMM (High AOD)</text>
<text x="415.28" y="756.00" font-size="6.21" text-anchor="end" fill="#000" stroke="#000" stroke-width="0.2" textLength="26.36" lengthAdjust="spacingAndGlyphs" transform="rotate(-70 415.28 756.00)">MMM (All)</text>
<text x="422.93" y="756.00" font-size="6.21" text-anchor="end" fill="#000" stroke="#000" stroke-width="0.2" textLength="34.01" lengthAdjust="spacingAndGlyphs" transform="rotate(-70 422.93 756.00)">Satellite Obs</text>
<path d="M499.96 749.30v2.6 M499.96 568.50v-1.8 M507.60 749.30v2.6 M507.60 568.50v-1.8 M515.24 749.30v2.6 M515.24 568.50v-1.8 M522.89 749.30v2.6 M522.89 568.50v-1.8 M530.53 749.30v2.6 M530.53 568.50v-1.8 M538.18 749.30v2.6 M538.18 568.50v-1.8 M545.82 749.30v2.6 M545.82 568.50v-1.8 M553.47 749.30v2.6 M553.47 568.50v-1.8 M561.11 749.30v2.6 M561.11 568.50v-1.8 M568.76 749.30v2.6 M568.76 568.50v-1.8 M576.40 749.30v2.6 M576.40 568.50v-1.8 M584.04 749.30v2.6 M584.04 568.50v-1.8 M591.69 749.30v2.6 M591.69 568.50v-1.8 M599.33 749.30v2.6 M599.33 568.50v-1.8 M606.98 749.30v2.6 M606.98 568.50v-1.8 M614.62 749.30v2.6 M614.62 568.50v-1.8 M622.27 749.30v2.6 M622.27 568.50v-1.8 M629.91 749.30v2.6 M629.91 568.50v-1.8 M637.56 749.30v2.6 M637.56 568.50v-1.8 M645.20 749.30v2.6 M645.20 568.50v-1.8 M652.84 749.30v2.6 M652.84 568.50v-1.8 M490.40 577.40h-2.6 M490.40 606.05h-2.6 M490.40 634.70h-2.6 M490.40 663.35h-2.6 M490.40 692.00h-2.6 M490.40 720.65h-2.6 M490.40 749.30h-2.6" stroke="#000" stroke-width="0.6" fill="none"/>
<path d="M662.40 749.30h2.6 M662.40 723.47h2.6 M662.40 697.64h2.6 M662.40 671.81h2.6 M662.40 645.99h2.6 M662.40 620.16h2.6 M662.40 594.33h2.6 M662.40 568.50h2.6 M662.40 742.84h1.5 M662.40 736.39h1.5 M662.40 729.93h1.5 M662.40 717.01h1.5 M662.40 710.56h1.5 M662.40 704.10h1.5 M662.40 691.19h1.5 M662.40 684.73h1.5 M662.40 678.27h1.5 M662.40 665.36h1.5 M662.40 658.90h1.5 M662.40 652.44h1.5 M662.40 639.53h1.5 M662.40 633.07h1.5 M662.40 626.61h1.5 M662.40 613.70h1.5 M662.40 607.24h1.5 M662.40 600.79h1.5 M662.40 587.87h1.5 M662.40 581.41h1.5 M662.40 574.96h1.5" stroke="#1e90ff" stroke-width="0.6" fill="none"/>
<text x="485.90" y="579.50" font-size="6.49" text-anchor="end" fill="#000" stroke="#000" stroke-width="0.2" textLength="3.75" lengthAdjust="spacingAndGlyphs">0</text>
<text x="485.90" y="608.15" font-size="6.49" text-anchor="end" fill="#000" stroke="#000" stroke-width="0.2" textLength="8.70" lengthAdjust="spacingAndGlyphs">−2</text>
<text x="485.90" y="636.80" font-size="6.49" text-anchor="end" fill="#000" stroke="#000" stroke-width="0.2" textLength="8.70" lengthAdjust="spacingAndGlyphs">−4</text>
<text x="485.90" y="665.45" font-size="6.49" text-anchor="end" fill="#000" stroke="#000" stroke-width="0.2" textLength="8.70" lengthAdjust="spacingAndGlyphs">−6</text>
<text x="485.90" y="694.10" font-size="6.49" text-anchor="end" fill="#000" stroke="#000" stroke-width="0.2" textLength="8.70" lengthAdjust="spacingAndGlyphs">−8</text>
<text x="485.90" y="722.75" font-size="6.49" text-anchor="end" fill="#000" stroke="#000" stroke-width="0.2" textLength="12.45" lengthAdjust="spacingAndGlyphs">−10</text>
<text x="485.90" y="751.40" font-size="6.49" text-anchor="end" fill="#000" stroke="#000" stroke-width="0.2" textLength="12.45" lengthAdjust="spacingAndGlyphs">−12</text>
<text x="666.60" y="752.20" font-size="6.49" text-anchor="start" fill="#1e90ff" stroke="#1e90ff" stroke-width="0.2" textLength="9.38" lengthAdjust="spacingAndGlyphs">0.0</text>
<text x="666.60" y="726.37" font-size="6.49" text-anchor="start" fill="#1e90ff" stroke="#1e90ff" stroke-width="0.2" textLength="9.38" lengthAdjust="spacingAndGlyphs">0.2</text>
<text x="666.60" y="700.54" font-size="6.49" text-anchor="start" fill="#1e90ff" stroke="#1e90ff" stroke-width="0.2" textLength="9.38" lengthAdjust="spacingAndGlyphs">0.4</text>
<text x="666.60" y="674.71" font-size="6.49" text-anchor="start" fill="#1e90ff" stroke="#1e90ff" stroke-width="0.2" textLength="9.38" lengthAdjust="spacingAndGlyphs">0.6</text>
<text x="666.60" y="648.89" font-size="6.49" text-anchor="start" fill="#1e90ff" stroke="#1e90ff" stroke-width="0.2" textLength="9.38" lengthAdjust="spacingAndGlyphs">0.8</text>
<text x="666.60" y="623.06" font-size="6.49" text-anchor="start" fill="#1e90ff" stroke="#1e90ff" stroke-width="0.2" textLength="9.38" lengthAdjust="spacingAndGlyphs">1.0</text>
<text x="666.60" y="597.23" font-size="6.49" text-anchor="start" fill="#1e90ff" stroke="#1e90ff" stroke-width="0.2" textLength="9.38" lengthAdjust="spacingAndGlyphs">1.2</text>
<text x="666.60" y="571.40" font-size="6.49" text-anchor="start" fill="#1e90ff" stroke="#1e90ff" stroke-width="0.2" textLength="9.38" lengthAdjust="spacingAndGlyphs">1.4</text>
<rect x="498.04" y="577.40" width="3.82" height="104.10" fill="#b0c4de"/>
<rect x="505.69" y="577.40" width="3.82" height="109.90" fill="#b0c4de"/>
<rect x="513.33" y="577.40" width="3.82" height="92.20" fill="#b0c4de"/>
<rect x="520.98" y="577.40" width="3.82" height="81.40" fill="#b0c4de"/>
<rect x="528.62" y="577.40" width="3.82" height="77.10" fill="#b0c4de"/>
<rect x="536.27" y="577.40" width="3.82" height="85.40" fill="#b0c4de"/>
<rect x="543.91" y="577.40" width="3.82" height="102.50" fill="#b0c4de"/>
<rect x="551.56" y="577.40" width="3.82" height="110.40" fill="#b0c4de"/>
<rect x="559.20" y="577.40" width="3.82" height="94.20" fill="#b0c4de"/>
<rect x="566.84" y="577.40" width="3.82" height="78.40" fill="#b0c4de"/>
<rect x="574.49" y="577.40" width="3.82" height="94.70" fill="#b0c4de"/>
<rect x="582.13" y="577.40" width="3.82" height="105.30" fill="#b0c4de"/>
<rect x="589.78" y="577.40" width="3.82" height="102.50" fill="#b0c4de"/>
<rect x="597.42" y="577.40" width="3.82" height="86.70" fill="#b0c4de"/>
<rect x="605.07" y="577.40" width="3.82" height="93.40" fill="#b0c4de"/>
<rect x="612.71" y="577.40" width="3.82" height="125.20" fill="#b0c4de"/>
<rect x="628.00" y="577.40" width="3.82" height="93.70" fill="#b0c4de"/>
<rect x="635.64" y="577.40" width="3.82" height="103.00" fill="#b0c4de"/>
<rect x="643.29" y="577.40" width="3.82" height="95.00" fill="#b0c4de"/>
<rect x="650.93" y="577.40" width="3.82" height="90.10" fill="#bf00bf"/>
<line x1="499.96" y1="638.40" x2="499.96" y2="724.10" stroke="#000" stroke-opacity="0.55" stroke-width="0.6"/>
<line x1="498.46" y1="638.40" x2="501.46" y2="638.40" stroke="#000" stroke-width="0.8"/>
<line x1="498.46" y1="724.10" x2="501.46" y2="724.10" stroke="#000" stroke-width="0.8"/>
<line x1="507.60" y1="649.20" x2="507.60" y2="725.50" stroke="#000" stroke-opacity="0.55" stroke-width="0.6"/>
<line x1="506.10" y1="649.20" x2="509.10" y2="649.20" stroke="#000" stroke-width="0.8"/>
<line x1="506.10" y1="725.50" x2="509.10" y2="725.50" stroke="#000" stroke-width="0.8"/>
<line x1="515.24" y1="631.00" x2="515.24" y2="708.40" stroke="#000" stroke-opacity="0.55" stroke-width="0.6"/>
<line x1="513.74" y1="631.00" x2="516.74" y2="631.00" stroke="#000" stroke-width="0.8"/>
<line x1="513.74" y1="708.40" x2="516.74" y2="708.40" stroke="#000" stroke-width="0.8"/>
<line x1="522.89" y1="622.70" x2="522.89" y2="695.00" stroke="#000" stroke-opacity="0.55" stroke-width="0.6"/>
<line x1="521.39" y1="622.70" x2="524.39" y2="622.70" stroke="#000" stroke-width="0.8"/>
<line x1="521.39" y1="695.00" x2="524.39" y2="695.00" stroke="#000" stroke-width="0.8"/>
<line x1="530.53" y1="620.20" x2="530.53" y2="687.70" stroke="#000" stroke-opacity="0.55" stroke-width="0.6"/>
<line x1="529.03" y1="620.20" x2="532.03" y2="620.20" stroke="#000" stroke-width="0.8"/>
<line x1="529.03" y1="687.70" x2="532.03" y2="687.70" stroke="#000" stroke-width="0.8"/>
<line x1="538.18" y1="626.30" x2="538.18" y2="698.10" stroke="#000" stroke-opacity="0.55" stroke-width="0.6"/>
<line x1="536.68" y1="626.30" x2="539.68" y2="626.30" stroke="#000" stroke-width="0.8"/>
<line x1="536.68" y1="698.10" x2="539.68" y2="698.10" stroke="#000" stroke-width="0.8"/>
<line x1="545.82" y1="633.50" x2="545.82" y2="726.30" stroke="#000" stroke-opacity="0.55" stroke-width="0.6"/>
<line x1="544.32" y1="633.50" x2="547.32" y2="633.50" stroke="#000" stroke-width="0.8"/>
<line x1="544.32" y1="726.30" x2="547.32" y2="726.30" stroke="#000" stroke-width="0.8"/>
<line x1="553.47" y1="644.20" x2="553.47" y2="731.30" stroke="#000" stroke-opacity="0.55" stroke-width="0.6"/>
<line x1="551.97" y1="644.20" x2="554.97" y2="644.20" stroke="#000" stroke-width="0.8"/>
<line x1="551.97" y1="731.30" x2="554.97" y2="731.30" stroke="#000" stroke-width="0.8"/>
<line x1="561.11" y1="633.50" x2="561.11" y2="709.20" stroke="#000" stroke-opacity="0.55" stroke-width="0.6"/>
<line x1="559.61" y1="633.50" x2="562.61" y2="633.50" stroke="#000" stroke-width="0.8"/>
<line x1="559.61" y1="709.20" x2="562.61" y2="709.20" stroke="#000" stroke-width="0.8"/>
<line x1="568.76" y1="622.20" x2="568.76" y2="689.40" stroke="#000" stroke-opacity="0.55" stroke-width="0.6"/>
<line x1="567.26" y1="622.20" x2="570.26" y2="622.20" stroke="#000" stroke-width="0.8"/>
<line x1="567.26" y1="689.40" x2="570.26" y2="689.40" stroke="#000" stroke-width="0.8"/>
<line x1="576.40" y1="637.30" x2="576.40" y2="706.90" stroke="#000" stroke-opacity="0.55" stroke-width="0.6"/>
<line x1="574.90" y1="637.30" x2="577.90" y2="637.30" stroke="#000" stroke-width="0.8"/>
<line x1="574.90" y1="706.90" x2="577.90" y2="706.90" stroke="#000" stroke-width="0.8"/>
<line x1="584.04" y1="635.50" x2="584.04" y2="730.10" stroke="#000" stroke-opacity="0.55" stroke-width="0.6"/>
<line x1="582.54" y1="635.50" x2="585.54" y2="635.50" stroke="#000" stroke-width="0.8"/>
<line x1="582.54" y1="730.10" x2="585.54" y2="730.10" stroke="#000" stroke-width="0.8"/>
<line x1="591.69" y1="636.00" x2="591.69" y2="723.80" stroke="#000" stroke-opacity="0.55" stroke-width="0.6"/>
<line x1="590.19" y1="636.00" x2="593.19" y2="636.00" stroke="#000" stroke-width="0.8"/>
<line x1="590.19" y1="723.80" x2="593.19" y2="723.80" stroke="#000" stroke-width="0.8"/>
<line x1="599.33" y1="622.20" x2="599.33" y2="705.20" stroke="#000" stroke-opacity="0.55" stroke-width="0.6"/>
<line x1="597.83" y1="622.20" x2="600.83" y2="622.20" stroke="#000" stroke-width="0.8"/>
<line x1="597.83" y1="705.20" x2="600.83" y2="705.20" stroke="#000" stroke-width="0.8"/>
<line x1="606.98" y1="626.30" x2="606.98" y2="717.20" stroke="#000" stroke-opacity="0.55" stroke-width="0.6"/>
<line x1="605.48" y1="626.30" x2="608.48" y2="626.30" stroke="#000" stroke-width="0.8"/>
<line x1="605.48" y1="717.20" x2="608.48" y2="717.20" stroke="#000" stroke-width="0.8"/>
<line x1="614.62" y1="655.00" x2="614.62" y2="749.30" stroke="#000" stroke-opacity="0.55" stroke-width="0.6"/>
<line x1="613.12" y1="655.00" x2="616.12" y2="655.00" stroke="#000" stroke-width="0.8"/>
<line x1="629.91" y1="632.60" x2="629.91" y2="709.40" stroke="#000" stroke-opacity="0.55" stroke-width="0.6"/>
<line x1="628.41" y1="632.60" x2="631.41" y2="632.60" stroke="#000" stroke-width="0.8"/>
<line x1="628.41" y1="709.40" x2="631.41" y2="709.40" stroke="#000" stroke-width="0.8"/>
<line x1="637.56" y1="635.60" x2="637.56" y2="725.10" stroke="#000" stroke-opacity="0.55" stroke-width="0.6"/>
<line x1="636.06" y1="635.60" x2="639.06" y2="635.60" stroke="#000" stroke-width="0.8"/>
<line x1="636.06" y1="725.10" x2="639.06" y2="725.10" stroke="#000" stroke-width="0.8"/>
<line x1="645.20" y1="631.00" x2="645.20" y2="714.40" stroke="#000" stroke-opacity="0.55" stroke-width="0.6"/>
<line x1="643.70" y1="631.00" x2="646.70" y2="631.00" stroke="#000" stroke-width="0.8"/>
<line x1="643.70" y1="714.40" x2="646.70" y2="714.40" stroke="#000" stroke-width="0.8"/>
<line x1="652.84" y1="636.30" x2="652.84" y2="697.30" stroke="#000" stroke-opacity="0.55" stroke-width="0.6"/>
<line x1="651.34" y1="636.30" x2="654.34" y2="636.30" stroke="#000" stroke-width="0.8"/>
<line x1="651.34" y1="697.30" x2="654.34" y2="697.30" stroke="#000" stroke-width="0.8"/>
<line x1="490.40" y1="577.40" x2="662.40" y2="577.40" stroke="#000" stroke-width="1.0"/>
<line x1="622.27" y1="568.50" x2="622.27" y2="749.30" stroke="#111" stroke-width="1.0"/>
<path d="M499.96 624.59 L507.60 626.23 L515.24 620.38 L522.89 635.79 L530.53 645.24 L538.18 629.62 L545.82 635.79 L553.47 626.54 L561.11 623.05 L568.76 618.01 L576.40 625.41 L584.04 621.20 L591.69 619.97 L599.33 637.64 L606.98 634.66 L614.62 654.48" fill="none" stroke="#1e90ff" stroke-width="1.15" stroke-dasharray="2.6 1.3"/>
<path d="M629.91 628.39 L637.56 633.42 L645.20 629.93" fill="none" stroke="#1e90ff" stroke-width="1.15" stroke-dasharray="2.6 1.3"/>
<circle cx="499.96" cy="624.59" r="1.35" fill="#1e90ff"/>
<circle cx="507.60" cy="626.23" r="1.35" fill="#1e90ff"/>
<circle cx="515.24" cy="620.38" r="1.35" fill="#1e90ff"/>
<circle cx="522.89" cy="635.79" r="1.35" fill="#1e90ff"/>
<circle cx="530.53" cy="645.24" r="1.35" fill="#1e90ff"/>
<circle cx="538.18" cy="629.62" r="1.35" fill="#1e90ff"/>
<circle cx="545.82" cy="635.79" r="1.35" fill="#1e90ff"/>
<circle cx="553.47" cy="626.54" r="1.35" fill="#1e90ff"/>
<circle cx="561.11" cy="623.05" r="1.35" fill="#1e90ff"/>
<circle cx="568.76" cy="618.01" r="1.35" fill="#1e90ff"/>
<circle cx="576.40" cy="625.41" r="1.35" fill="#1e90ff"/>
<circle cx="584.04" cy="621.20" r="1.35" fill="#1e90ff"/>
<circle cx="591.69" cy="619.97" r="1.35" fill="#1e90ff"/>
<circle cx="599.33" cy="637.64" r="1.35" fill="#1e90ff"/>
<circle cx="606.98" cy="634.66" r="1.35" fill="#1e90ff"/>
<circle cx="614.62" cy="654.48" r="1.35" fill="#1e90ff"/>
<circle cx="629.91" cy="628.39" r="1.35" fill="#1e90ff"/>
<circle cx="637.56" cy="633.42" r="1.35" fill="#1e90ff"/>
<circle cx="645.20" cy="629.93" r="1.35" fill="#1e90ff"/>
<path d="M499.96 682.63 L507.60 682.63 L515.24 679.75 L522.89 690.75 L530.53 685.71 L538.18 677.90 L545.82 685.71 L553.47 693.11 L561.11 673.38 L568.76 679.75 L576.40 676.26 L584.04 664.96 L591.69 652.02 L599.33 665.47 L606.98 669.17 L614.62 659.41" fill="none" stroke="#ff0000" stroke-width="1.15" stroke-dasharray="2.6 1.3"/>
<path d="M629.91 682.32 L637.56 662.39 L645.20 673.38" fill="none" stroke="#ff0000" stroke-width="1.15" stroke-dasharray="2.6 1.3"/>
<circle cx="499.96" cy="682.63" r="1.35" fill="#ff0000"/>
<circle cx="507.60" cy="682.63" r="1.35" fill="#ff0000"/>
<circle cx="515.24" cy="679.75" r="1.35" fill="#ff0000"/>
<circle cx="522.89" cy="690.75" r="1.35" fill="#ff0000"/>
<circle cx="530.53" cy="685.71" r="1.35" fill="#ff0000"/>
<circle cx="538.18" cy="677.90" r="1.35" fill="#ff0000"/>
<circle cx="545.82" cy="685.71" r="1.35" fill="#ff0000"/>
<circle cx="553.47" cy="693.11" r="1.35" fill="#ff0000"/>
<circle cx="561.11" cy="673.38" r="1.35" fill="#ff0000"/>
<circle cx="568.76" cy="679.75" r="1.35" fill="#ff0000"/>
<circle cx="576.40" cy="676.26" r="1.35" fill="#ff0000"/>
<circle cx="584.04" cy="664.96" r="1.35" fill="#ff0000"/>
<circle cx="591.69" cy="652.02" r="1.35" fill="#ff0000"/>
<circle cx="599.33" cy="665.47" r="1.35" fill="#ff0000"/>
<circle cx="606.98" cy="669.17" r="1.35" fill="#ff0000"/>
<circle cx="614.62" cy="659.41" r="1.35" fill="#ff0000"/>
<circle cx="629.91" cy="682.32" r="1.35" fill="#ff0000"/>
<circle cx="637.56" cy="662.39" r="1.35" fill="#ff0000"/>
<circle cx="645.20" cy="673.38" r="1.35" fill="#ff0000"/>
<path d="M499.96 691.05 L507.60 693.11 L515.24 689.92 L522.89 694.44 L530.53 708.72 L538.18 700.81 L545.82 699.99 L553.47 682.63 L561.11 698.96 L568.76 687.36 L576.40 697.83 L584.04 705.33 L591.69 716.84 L599.33 720.02 L606.98 713.76 L614.62 743.75" fill="none" stroke="#8a2be2" stroke-width="1.15" stroke-dasharray="2.6 1.3"/>
<path d="M629.91 695.27 L637.56 718.89 L645.20 707.08" fill="none" stroke="#8a2be2" stroke-width="1.15" stroke-dasharray="2.6 1.3"/>
<circle cx="499.96" cy="691.05" r="1.35" fill="#8a2be2"/>
<circle cx="507.60" cy="693.11" r="1.35" fill="#8a2be2"/>
<circle cx="515.24" cy="689.92" r="1.35" fill="#8a2be2"/>
<circle cx="522.89" cy="694.44" r="1.35" fill="#8a2be2"/>
<circle cx="530.53" cy="708.72" r="1.35" fill="#8a2be2"/>
<circle cx="538.18" cy="700.81" r="1.35" fill="#8a2be2"/>
<circle cx="545.82" cy="699.99" r="1.35" fill="#8a2be2"/>
<circle cx="553.47" cy="682.63" r="1.35" fill="#8a2be2"/>
<circle cx="561.11" cy="698.96" r="1.35" fill="#8a2be2"/>
<circle cx="568.76" cy="687.36" r="1.35" fill="#8a2be2"/>
<circle cx="576.40" cy="697.83" r="1.35" fill="#8a2be2"/>
<circle cx="584.04" cy="705.33" r="1.35" fill="#8a2be2"/>
<circle cx="591.69" cy="716.84" r="1.35" fill="#8a2be2"/>
<circle cx="599.33" cy="720.02" r="1.35" fill="#8a2be2"/>
<circle cx="606.98" cy="713.76" r="1.35" fill="#8a2be2"/>
<circle cx="614.62" cy="743.75" r="1.35" fill="#8a2be2"/>
<circle cx="629.91" cy="695.27" r="1.35" fill="#8a2be2"/>
<circle cx="637.56" cy="718.89" r="1.35" fill="#8a2be2"/>
<circle cx="645.20" cy="707.08" r="1.35" fill="#8a2be2"/>
<rect x="490.40" y="568.50" width="172.00" height="180.80" fill="none" stroke="#000" stroke-width="0.8"/>
<text x="576.40" y="562.30" font-size="6.49" font-weight="bold" text-anchor="middle" fill="#000" stroke="#000" stroke-width="0.2" textLength="88.04" lengthAdjust="spacingAndGlyphs">i) Spring+Summer (AMJJA)</text>
<text x="470.05" y="658.90" font-size="6.49" font-weight="bold" text-anchor="middle" fill="#000" stroke="#000" stroke-width="0.2" textLength="57.17" lengthAdjust="spacingAndGlyphs" transform="rotate(-90 470.05 658.90)">Temperature (°C)</text>
<text x="682.90" y="658.90" font-size="6.49" font-weight="bold" text-anchor="middle" fill="#1e90ff" stroke="#1e90ff" stroke-width="0.2" textLength="76.67" lengthAdjust="spacingAndGlyphs" transform="rotate(-90 682.90 658.90)">Precipitation (mm/day)</text>
<text x="576.40" y="814.10" font-size="6.49" font-weight="bold" text-anchor="middle" fill="#000" stroke="#000" stroke-width="0.2" textLength="23.68" lengthAdjust="spacingAndGlyphs">Models</text>
<text x="498.76" y="756.00" font-size="6.21" text-anchor="end" fill="#000" stroke="#000" stroke-width="0.2" textLength="21.26" lengthAdjust="spacingAndGlyphs" transform="rotate(-70 498.76 756.00)">MIROC6</text>
<text x="506.40" y="756.00" font-size="6.21" text-anchor="end" fill="#000" stroke="#000" stroke-width="0.2" textLength="38.13" lengthAdjust="spacingAndGlyphs" transform="rotate(-70 506.40 756.00)">CNRM-ESM2-1</text>
<text x="514.04" y="756.00" font-size="6.21" text-anchor="end" fill="#000" stroke="#000" stroke-width="0.2" textLength="36.94" lengthAdjust="spacingAndGlyphs" transform="rotate(-70 514.04 756.00)">IPSL-CM6A-LR</text>
<text x="521.69" y="756.00" font-size="6.21" text-anchor="end" fill="#000" stroke="#000" stroke-width="0.2" textLength="52.97" lengthAdjust="spacingAndGlyphs" transform="rotate(-70 521.69 756.00)">CESM2-WACCM-FV2</text>
<text x="529.33" y="756.00" font-size="6.21" text-anchor="end" fill="#000" stroke="#000" stroke-width="0.2" textLength="47.64" lengthAdjust="spacingAndGlyphs" transform="rotate(-70 529.33 756.00)">MPI-ESM-1-2-HAM</text>
<text x="536.98" y="756.00" font-size="6.21" text-anchor="end" fill="#000" stroke="#000" stroke-width="0.2" textLength="33.80" lengthAdjust="spacingAndGlyphs" transform="rotate(-70 536.98 756.00)">NorESM2-LM</text>
<text x="544.62" y="756.00" font-size="6.21" text-anchor="end" fill="#000" stroke="#000" stroke-width="0.2" textLength="35.43" lengthAdjust="spacingAndGlyphs" transform="rotate(-70 544.62 756.00)">NorESM2-MM</text>
<text x="552.27" y="756.00" font-size="6.21" text-anchor="end" fill="#000" stroke="#000" stroke-width="0.2" textLength="51.63" lengthAdjust="spacingAndGlyphs" transform="rotate(-70 552.27 756.00)">IPSL-CM6A-LR-INCA</text>
<text x="559.91" y="756.00" font-size="6.21" text-anchor="end" fill="#000" stroke="#000" stroke-width="0.2" textLength="46.74" lengthAdjust="spacingAndGlyphs" transform="rotate(-70 559.91 756.00)">IPSL-CM5A2-INCA</text>
<text x="567.56" y="756.00" font-size="6.21" text-anchor="end" fill="#000" stroke="#000" stroke-width="0.2" textLength="53.30" lengthAdjust="spacingAndGlyphs" transform="rotate(-70 567.56 756.00)">EC-Earth3-AerChem</text>
<text x="575.20" y="756.00" font-size="6.21" text-anchor="end" fill="#000" stroke="#000" stroke-width="0.2" textLength="31.97" lengthAdjust="spacingAndGlyphs" transform="rotate(-70 575.20 756.00)">MRI-ESM2-0</text>
<text x="582.84" y="756.00" font-size="6.21" text-anchor="end" fill="#000" stroke="#000" stroke-width="0.2" textLength="32.84" lengthAdjust="spacingAndGlyphs" transform="rotate(-70 582.84 756.00)">GISS-E2-1-G</text>
<text x="590.49" y="756.00" font-size="6.21" text-anchor="end" fill="#000" stroke="#000" stroke-width="0.2" textLength="32.52" lengthAdjust="spacingAndGlyphs" transform="rotate(-70 590.49 756.00)">GISS-E2-1-H</text>
<text x="598.13" y="756.00" font-size="6.21" text-anchor="end" fill="#000" stroke="#000" stroke-width="0.2" textLength="29.22" lengthAdjust="spacingAndGlyphs" transform="rotate(-70 598.13 756.00)">INM-CM5-0</text>
<text x="605.78" y="756.00" font-size="6.21" text-anchor="end" fill="#000" stroke="#000" stroke-width="0.2" textLength="29.22" lengthAdjust="spacingAndGlyphs" transform="rotate(-70 605.78 756.00)">INM-CM4-8</text>
<text x="613.42" y="756.00" font-size="6.21" text-anchor="end" fill="#000" stroke="#000" stroke-width="0.2" textLength="32.84" lengthAdjust="spacingAndGlyphs" transform="rotate(-70 613.42 756.00)">GISS-E2-2-G</text>
<text x="628.71" y="756.00" font-size="6.21" text-anchor="end" fill="#000" stroke="#000" stroke-width="0.2" textLength="43.86" lengthAdjust="spacingAndGlyphs" transform="rotate(-70 628.71 756.00)">MMM (Low AOD)</text>
<text x="636.36" y="756.00" font-size="6.21" text-anchor="end" fill="#000" stroke="#000" stroke-width="0.2" textLength="45.62" lengthAdjust="spacingAndGlyphs" transform="rotate(-70 636.36 756.00)">MMM (High AOD)</text>
<text x="644.00" y="756.00" font-size="6.21" text-anchor="end" fill="#000" stroke="#000" stroke-width="0.2" textLength="26.36" lengthAdjust="spacingAndGlyphs" transform="rotate(-70 644.00 756.00)">MMM (All)</text>
<text x="651.64" y="756.00" font-size="6.21" text-anchor="end" fill="#000" stroke="#000" stroke-width="0.2" textLength="34.01" lengthAdjust="spacingAndGlyphs" transform="rotate(-70 651.64 756.00)">Satellite Obs</text>
<path d="M32.47 1033.40v2.6 M32.47 852.40v-1.8 M40.52 1033.40v2.6 M40.52 852.40v-1.8 M48.57 1033.40v2.6 M48.57 852.40v-1.8 M56.63 1033.40v2.6 M56.63 852.40v-1.8 M64.68 1033.40v2.6 M64.68 852.40v-1.8 M72.73 1033.40v2.6 M72.73 852.40v-1.8 M80.79 1033.40v2.6 M80.79 852.40v-1.8 M88.84 1033.40v2.6 M88.84 852.40v-1.8 M96.89 1033.40v2.6 M96.89 852.40v-1.8 M104.95 1033.40v2.6 M104.95 852.40v-1.8 M113.00 1033.40v2.6 M113.00 852.40v-1.8 M121.05 1033.40v2.6 M121.05 852.40v-1.8 M129.11 1033.40v2.6 M129.11 852.40v-1.8 M137.16 1033.40v2.6 M137.16 852.40v-1.8 M145.21 1033.40v2.6 M145.21 852.40v-1.8 M153.27 1033.40v2.6 M153.27 852.40v-1.8 M161.32 1033.40v2.6 M161.32 852.40v-1.8 M169.37 1033.40v2.6 M169.37 852.40v-1.8 M177.43 1033.40v2.6 M177.43 852.40v-1.8 M185.48 1033.40v2.6 M185.48 852.40v-1.8 M193.53 1033.40v2.6 M193.53 852.40v-1.8 M22.40 1033.40h-2.6 M22.40 1013.29h-2.6 M22.40 993.18h-2.6 M22.40 973.07h-2.6 M22.40 952.96h-2.6 M22.40 932.84h-2.6 M22.40 912.73h-2.6 M22.40 892.62h-2.6 M22.40 872.51h-2.6 M22.40 852.40h-2.6" stroke="#000" stroke-width="0.6" fill="none"/>
<path d="M203.60 1033.40h2.6 M203.60 1007.54h2.6 M203.60 981.69h2.6 M203.60 955.83h2.6 M203.60 929.97h2.6 M203.60 904.11h2.6 M203.60 878.26h2.6 M203.60 852.40h2.6 M203.60 1026.94h1.5 M203.60 1020.47h1.5 M203.60 1014.01h1.5 M203.60 1001.08h1.5 M203.60 994.61h1.5 M203.60 988.15h1.5 M203.60 975.22h1.5 M203.60 968.76h1.5 M203.60 962.29h1.5 M203.60 949.36h1.5 M203.60 942.90h1.5 M203.60 936.44h1.5 M203.60 923.51h1.5 M203.60 917.04h1.5 M203.60 910.58h1.5 M203.60 897.65h1.5 M203.60 891.19h1.5 M203.60 884.72h1.5 M203.60 871.79h1.5 M203.60 865.33h1.5 M203.60 858.86h1.5" stroke="#1e90ff" stroke-width="0.6" fill="none"/>
<text x="17.90" y="1035.50" font-size="6.49" text-anchor="end" fill="#000" stroke="#000" stroke-width="0.2" textLength="3.75" lengthAdjust="spacingAndGlyphs">0</text>
<text x="17.90" y="1015.39" font-size="6.49" text-anchor="end" fill="#000" stroke="#000" stroke-width="0.2" textLength="3.75" lengthAdjust="spacingAndGlyphs">5</text>
<text x="17.90" y="995.28" font-size="6.49" text-anchor="end" fill="#000" stroke="#000" stroke-width="0.2" textLength="7.51" lengthAdjust="spacingAndGlyphs">10</text>
<text x="17.90" y="975.17" font-size="6.49" text-anchor="end" fill="#000" stroke="#000" stroke-width="0.2" textLength="7.51" lengthAdjust="spacingAndGlyphs">15</text>
<text x="17.90" y="955.06" font-size="6.49" text-anchor="end" fill="#000" stroke="#000" stroke-width="0.2" textLength="7.51" lengthAdjust="spacingAndGlyphs">20</text>
<text x="17.90" y="934.94" font-size="6.49" text-anchor="end" fill="#000" stroke="#000" stroke-width="0.2" textLength="7.51" lengthAdjust="spacingAndGlyphs">25</text>
<text x="17.90" y="914.83" font-size="6.49" text-anchor="end" fill="#000" stroke="#000" stroke-width="0.2" textLength="7.51" lengthAdjust="spacingAndGlyphs">30</text>
<text x="17.90" y="894.72" font-size="6.49" text-anchor="end" fill="#000" stroke="#000" stroke-width="0.2" textLength="7.51" lengthAdjust="spacingAndGlyphs">35</text>
<text x="17.90" y="874.61" font-size="6.49" text-anchor="end" fill="#000" stroke="#000" stroke-width="0.2" textLength="7.51" lengthAdjust="spacingAndGlyphs">40</text>
<text x="17.90" y="854.50" font-size="6.49" text-anchor="end" fill="#000" stroke="#000" stroke-width="0.2" textLength="7.51" lengthAdjust="spacingAndGlyphs">45</text>
<text x="207.80" y="1036.30" font-size="6.49" text-anchor="start" fill="#1e90ff" stroke="#1e90ff" stroke-width="0.2" textLength="9.38" lengthAdjust="spacingAndGlyphs">0.0</text>
<text x="207.80" y="1010.44" font-size="6.49" text-anchor="start" fill="#1e90ff" stroke="#1e90ff" stroke-width="0.2" textLength="9.38" lengthAdjust="spacingAndGlyphs">0.2</text>
<text x="207.80" y="984.59" font-size="6.49" text-anchor="start" fill="#1e90ff" stroke="#1e90ff" stroke-width="0.2" textLength="9.38" lengthAdjust="spacingAndGlyphs">0.4</text>
<text x="207.80" y="958.73" font-size="6.49" text-anchor="start" fill="#1e90ff" stroke="#1e90ff" stroke-width="0.2" textLength="9.38" lengthAdjust="spacingAndGlyphs">0.6</text>
<text x="207.80" y="932.87" font-size="6.49" text-anchor="start" fill="#1e90ff" stroke="#1e90ff" stroke-width="0.2" textLength="9.38" lengthAdjust="spacingAndGlyphs">0.8</text>
<text x="207.80" y="907.01" font-size="6.49" text-anchor="start" fill="#1e90ff" stroke="#1e90ff" stroke-width="0.2" textLength="9.38" lengthAdjust="spacingAndGlyphs">1.0</text>
<text x="207.80" y="881.16" font-size="6.49" text-anchor="start" fill="#1e90ff" stroke="#1e90ff" stroke-width="0.2" textLength="9.38" lengthAdjust="spacingAndGlyphs">1.2</text>
<text x="207.80" y="855.30" font-size="6.49" text-anchor="start" fill="#1e90ff" stroke="#1e90ff" stroke-width="0.2" textLength="9.38" lengthAdjust="spacingAndGlyphs">1.4</text>
<rect x="30.45" y="891.30" width="4.03" height="142.10" fill="#b0c4de"/>
<rect x="38.51" y="902.20" width="4.03" height="131.20" fill="#b0c4de"/>
<rect x="46.56" y="902.10" width="4.03" height="131.30" fill="#b0c4de"/>
<rect x="54.61" y="892.30" width="4.03" height="141.10" fill="#b0c4de"/>
<rect x="62.67" y="880.70" width="4.03" height="152.70" fill="#b0c4de"/>
<rect x="70.72" y="872.20" width="4.03" height="161.20" fill="#b0c4de"/>
<rect x="78.77" y="891.00" width="4.03" height="142.40" fill="#b0c4de"/>
<rect x="86.83" y="910.80" width="4.03" height="122.60" fill="#b0c4de"/>
<rect x="94.88" y="909.20" width="4.03" height="124.20" fill="#b0c4de"/>
<rect x="102.93" y="890.10" width="4.03" height="143.30" fill="#b0c4de"/>
<rect x="119.04" y="895.90" width="4.03" height="137.50" fill="#b0c4de"/>
<rect x="127.09" y="896.80" width="4.03" height="136.60" fill="#b0c4de"/>
<rect x="151.25" y="895.90" width="4.03" height="137.50" fill="#b0c4de"/>
<rect x="167.36" y="894.30" width="4.03" height="139.10" fill="#b0c4de"/>
<rect x="175.41" y="895.90" width="4.03" height="137.50" fill="#b0c4de"/>
<rect x="183.47" y="895.10" width="4.03" height="138.30" fill="#b0c4de"/>
<line x1="32.47" y1="888.10" x2="32.47" y2="895.40" stroke="#000" stroke-opacity="0.55" stroke-width="0.6"/>
<line x1="30.97" y1="888.10" x2="33.97" y2="888.10" stroke="#000" stroke-width="0.8"/>
<line x1="30.97" y1="895.40" x2="33.97" y2="895.40" stroke="#000" stroke-width="0.8"/>
<line x1="40.52" y1="896.40" x2="40.52" y2="909.20" stroke="#000" stroke-opacity="0.55" stroke-width="0.6"/>
<line x1="39.02" y1="896.40" x2="42.02" y2="896.40" stroke="#000" stroke-width="0.8"/>
<line x1="39.02" y1="909.20" x2="42.02" y2="909.20" stroke="#000" stroke-width="0.8"/>
<line x1="48.57" y1="895.40" x2="48.57" y2="909.20" stroke="#000" stroke-opacity="0.55" stroke-width="0.6"/>
<line x1="47.07" y1="895.40" x2="50.07" y2="895.40" stroke="#000" stroke-width="0.8"/>
<line x1="47.07" y1="909.20" x2="50.07" y2="909.20" stroke="#000" stroke-width="0.8"/>
<line x1="56.63" y1="883.50" x2="56.63" y2="901.40" stroke="#000" stroke-opacity="0.55" stroke-width="0.6"/>
<line x1="55.13" y1="883.50" x2="58.13" y2="883.50" stroke="#000" stroke-width="0.8"/>
<line x1="55.13" y1="901.40" x2="58.13" y2="901.40" stroke="#000" stroke-width="0.8"/>
<line x1="64.68" y1="875.50" x2="64.68" y2="886.50" stroke="#000" stroke-opacity="0.55" stroke-width="0.6"/>
<line x1="63.18" y1="875.50" x2="66.18" y2="875.50" stroke="#000" stroke-width="0.8"/>
<line x1="63.18" y1="886.50" x2="66.18" y2="886.50" stroke="#000" stroke-width="0.8"/>
<line x1="72.73" y1="868.60" x2="72.73" y2="876.40" stroke="#000" stroke-opacity="0.55" stroke-width="0.6"/>
<line x1="71.23" y1="868.60" x2="74.23" y2="868.60" stroke="#000" stroke-width="0.8"/>
<line x1="71.23" y1="876.40" x2="74.23" y2="876.40" stroke="#000" stroke-width="0.8"/>
<line x1="80.79" y1="885.50" x2="80.79" y2="896.40" stroke="#000" stroke-opacity="0.55" stroke-width="0.6"/>
<line x1="79.29" y1="885.50" x2="82.29" y2="885.50" stroke="#000" stroke-width="0.8"/>
<line x1="79.29" y1="896.40" x2="82.29" y2="896.40" stroke="#000" stroke-width="0.8"/>
<line x1="88.84" y1="903.40" x2="88.84" y2="918.30" stroke="#000" stroke-opacity="0.55" stroke-width="0.6"/>
<line x1="87.34" y1="903.40" x2="90.34" y2="903.40" stroke="#000" stroke-width="0.8"/>
<line x1="87.34" y1="918.30" x2="90.34" y2="918.30" stroke="#000" stroke-width="0.8"/>
<line x1="96.89" y1="905.40" x2="96.89" y2="912.50" stroke="#000" stroke-opacity="0.55" stroke-width="0.6"/>
<line x1="95.39" y1="905.40" x2="98.39" y2="905.40" stroke="#000" stroke-width="0.8"/>
<line x1="95.39" y1="912.50" x2="98.39" y2="912.50" stroke="#000" stroke-width="0.8"/>
<line x1="104.95" y1="880.50" x2="104.95" y2="899.60" stroke="#000" stroke-opacity="0.55" stroke-width="0.6"/>
<line x1="103.45" y1="880.50" x2="106.45" y2="880.50" stroke="#000" stroke-width="0.8"/>
<line x1="103.45" y1="899.60" x2="106.45" y2="899.60" stroke="#000" stroke-width="0.8"/>
<line x1="121.05" y1="891.40" x2="121.05" y2="900.60" stroke="#000" stroke-opacity="0.55" stroke-width="0.6"/>
<line x1="119.55" y1="891.40" x2="122.55" y2="891.40" stroke="#000" stroke-width="0.8"/>
<line x1="119.55" y1="900.60" x2="122.55" y2="900.60" stroke="#000" stroke-width="0.8"/>
<line x1="129.11" y1="888.10" x2="129.11" y2="905.00" stroke="#000" stroke-opacity="0.55" stroke-width="0.6"/>
<line x1="127.61" y1="888.10" x2="130.61" y2="888.10" stroke="#000" stroke-width="0.8"/>
<line x1="127.61" y1="905.00" x2="130.61" y2="905.00" stroke="#000" stroke-width="0.8"/>
<line x1="153.27" y1="887.30" x2="153.27" y2="904.20" stroke="#000" stroke-opacity="0.55" stroke-width="0.6"/>
<line x1="151.77" y1="887.30" x2="154.77" y2="887.30" stroke="#000" stroke-width="0.8"/>
<line x1="151.77" y1="904.20" x2="154.77" y2="904.20" stroke="#000" stroke-width="0.8"/>
<line x1="169.37" y1="888.10" x2="169.37" y2="900.40" stroke="#000" stroke-opacity="0.55" stroke-width="0.6"/>
<line x1="167.87" y1="888.10" x2="170.87" y2="888.10" stroke="#000" stroke-width="0.8"/>
<line x1="167.87" y1="900.40" x2="170.87" y2="900.40" stroke="#000" stroke-width="0.8"/>
<line x1="177.43" y1="889.30" x2="177.43" y2="903.40" stroke="#000" stroke-opacity="0.55" stroke-width="0.6"/>
<line x1="175.93" y1="889.30" x2="178.93" y2="889.30" stroke="#000" stroke-width="0.8"/>
<line x1="175.93" y1="903.40" x2="178.93" y2="903.40" stroke="#000" stroke-width="0.8"/>
<line x1="185.48" y1="888.50" x2="185.48" y2="901.40" stroke="#000" stroke-opacity="0.55" stroke-width="0.6"/>
<line x1="183.98" y1="888.50" x2="186.98" y2="888.50" stroke="#000" stroke-width="0.8"/>
<line x1="183.98" y1="901.40" x2="186.98" y2="901.40" stroke="#000" stroke-width="0.8"/>
<line x1="161.32" y1="852.40" x2="161.32" y2="1033.40" stroke="#111" stroke-width="1.0"/>
<path d="M32.47 940.02 L40.52 948.76 L48.57 933.23 L56.63 951.74 L64.68 951.74 L72.73 933.95 L80.79 947.01 L88.84 948.76 L96.89 927.17 L104.95 932.20 L113.00 953.08 L121.05 927.99 L129.11 922.23 L137.16 948.86 L145.21 946.91 L153.27 954.62" fill="none" stroke="#1e90ff" stroke-width="1.15" stroke-dasharray="2.6 1.3"/>
<path d="M169.37 942.28 L177.43 940.23 L185.48 941.87" fill="none" stroke="#1e90ff" stroke-width="1.15" stroke-dasharray="2.6 1.3"/>
<circle cx="32.47" cy="940.02" r="1.35" fill="#1e90ff"/>
<circle cx="40.52" cy="948.76" r="1.35" fill="#1e90ff"/>
<circle cx="48.57" cy="933.23" r="1.35" fill="#1e90ff"/>
<circle cx="56.63" cy="951.74" r="1.35" fill="#1e90ff"/>
<circle cx="64.68" cy="951.74" r="1.35" fill="#1e90ff"/>
<circle cx="72.73" cy="933.95" r="1.35" fill="#1e90ff"/>
<circle cx="80.79" cy="947.01" r="1.35" fill="#1e90ff"/>
<circle cx="88.84" cy="948.76" r="1.35" fill="#1e90ff"/>
<circle cx="96.89" cy="927.17" r="1.35" fill="#1e90ff"/>
<circle cx="104.95" cy="932.20" r="1.35" fill="#1e90ff"/>
<circle cx="113.00" cy="953.08" r="1.35" fill="#1e90ff"/>
<circle cx="121.05" cy="927.99" r="1.35" fill="#1e90ff"/>
<circle cx="129.11" cy="922.23" r="1.35" fill="#1e90ff"/>
<circle cx="137.16" cy="948.86" r="1.35" fill="#1e90ff"/>
<circle cx="145.21" cy="946.91" r="1.35" fill="#1e90ff"/>
<circle cx="153.27" cy="954.62" r="1.35" fill="#1e90ff"/>
<circle cx="169.37" cy="942.28" r="1.35" fill="#1e90ff"/>
<circle cx="177.43" cy="940.23" r="1.35" fill="#1e90ff"/>
<circle cx="185.48" cy="941.87" r="1.35" fill="#1e90ff"/>
<path d="M32.47 958.63 L40.52 956.37 L48.57 949.79 L56.63 955.76 L64.68 956.78 L72.73 948.76 L80.79 963.88 L88.84 975.09 L96.89 936.63 L104.95 951.54 L113.00 960.59 L121.05 945.16 L129.11 931.07 L137.16 958.84 L145.21 962.44 L153.27 957.50" fill="none" stroke="#ff0000" stroke-width="1.15" stroke-dasharray="2.6 1.3"/>
<path d="M169.37 955.65 L177.43 951.02 L185.48 954.21" fill="none" stroke="#ff0000" stroke-width="1.15" stroke-dasharray="2.6 1.3"/>
<circle cx="32.47" cy="958.63" r="1.35" fill="#ff0000"/>
<circle cx="40.52" cy="956.37" r="1.35" fill="#ff0000"/>
<circle cx="48.57" cy="949.79" r="1.35" fill="#ff0000"/>
<circle cx="56.63" cy="955.76" r="1.35" fill="#ff0000"/>
<circle cx="64.68" cy="956.78" r="1.35" fill="#ff0000"/>
<circle cx="72.73" cy="948.76" r="1.35" fill="#ff0000"/>
<circle cx="80.79" cy="963.88" r="1.35" fill="#ff0000"/>
<circle cx="88.84" cy="975.09" r="1.35" fill="#ff0000"/>
<circle cx="96.89" cy="936.63" r="1.35" fill="#ff0000"/>
<circle cx="104.95" cy="951.54" r="1.35" fill="#ff0000"/>
<circle cx="113.00" cy="960.59" r="1.35" fill="#ff0000"/>
<circle cx="121.05" cy="945.16" r="1.35" fill="#ff0000"/>
<circle cx="129.11" cy="931.07" r="1.35" fill="#ff0000"/>
<circle cx="137.16" cy="958.84" r="1.35" fill="#ff0000"/>
<circle cx="145.21" cy="962.44" r="1.35" fill="#ff0000"/>
<circle cx="153.27" cy="957.50" r="1.35" fill="#ff0000"/>
<circle cx="169.37" cy="955.65" r="1.35" fill="#ff0000"/>
<circle cx="177.43" cy="951.02" r="1.35" fill="#ff0000"/>
<circle cx="185.48" cy="954.21" r="1.35" fill="#ff0000"/>
<path d="M32.47 1014.48 L40.52 1025.58 L48.57 1016.74 L56.63 1028.98 L64.68 1028.26 L72.73 1018.49 L80.79 1016.33 L88.84 1006.87 L96.89 1023.42 L104.95 1013.96 L113.00 1025.69 L121.05 1016.33 L129.11 1024.25 L137.16 1022.40 L145.21 1017.77 L153.27 1030.83" fill="none" stroke="#8a2be2" stroke-width="1.15" stroke-dasharray="2.6 1.3"/>
<path d="M169.37 1020.03 L177.43 1022.40 L185.48 1020.96" fill="none" stroke="#8a2be2" stroke-width="1.15" stroke-dasharray="2.6 1.3"/>
<circle cx="32.47" cy="1014.48" r="1.35" fill="#8a2be2"/>
<circle cx="40.52" cy="1025.58" r="1.35" fill="#8a2be2"/>
<circle cx="48.57" cy="1016.74" r="1.35" fill="#8a2be2"/>
<circle cx="56.63" cy="1028.98" r="1.35" fill="#8a2be2"/>
<circle cx="64.68" cy="1028.26" r="1.35" fill="#8a2be2"/>
<circle cx="72.73" cy="1018.49" r="1.35" fill="#8a2be2"/>
<circle cx="80.79" cy="1016.33" r="1.35" fill="#8a2be2"/>
<circle cx="88.84" cy="1006.87" r="1.35" fill="#8a2be2"/>
<circle cx="96.89" cy="1023.42" r="1.35" fill="#8a2be2"/>
<circle cx="104.95" cy="1013.96" r="1.35" fill="#8a2be2"/>
<circle cx="113.00" cy="1025.69" r="1.35" fill="#8a2be2"/>
<circle cx="121.05" cy="1016.33" r="1.35" fill="#8a2be2"/>
<circle cx="129.11" cy="1024.25" r="1.35" fill="#8a2be2"/>
<circle cx="137.16" cy="1022.40" r="1.35" fill="#8a2be2"/>
<circle cx="145.21" cy="1017.77" r="1.35" fill="#8a2be2"/>
<circle cx="153.27" cy="1030.83" r="1.35" fill="#8a2be2"/>
<circle cx="169.37" cy="1020.03" r="1.35" fill="#8a2be2"/>
<circle cx="177.43" cy="1022.40" r="1.35" fill="#8a2be2"/>
<circle cx="185.48" cy="1020.96" r="1.35" fill="#8a2be2"/>
<rect x="22.40" y="852.40" width="181.20" height="181.00" fill="none" stroke="#000" stroke-width="0.8"/>
<text x="113.00" y="846.20" font-size="6.49" font-weight="bold" text-anchor="middle" fill="#000" stroke="#000" stroke-width="0.2" textLength="46.48" lengthAdjust="spacingAndGlyphs">j) Spring (AM)</text>
<text x="6.99" y="942.90" font-size="6.49" font-weight="bold" text-anchor="middle" fill="#000" stroke="#000" stroke-width="0.2" textLength="72.87" lengthAdjust="spacingAndGlyphs" transform="rotate(-90 6.99 942.90)">Relative Humidity (%)</text>
<text x="224.10" y="942.90" font-size="6.49" font-weight="bold" text-anchor="middle" fill="#1e90ff" stroke="#1e90ff" stroke-width="0.2" textLength="76.67" lengthAdjust="spacingAndGlyphs" transform="rotate(-90 224.10 942.90)">Precipitation (mm/day)</text>
<text x="113.00" y="1098.20" font-size="6.49" font-weight="bold" text-anchor="middle" fill="#000" stroke="#000" stroke-width="0.2" textLength="23.68" lengthAdjust="spacingAndGlyphs">Models</text>
<text x="31.27" y="1040.10" font-size="6.21" text-anchor="end" fill="#000" stroke="#000" stroke-width="0.2" textLength="21.26" lengthAdjust="spacingAndGlyphs" transform="rotate(-70 31.27 1040.10)">MIROC6</text>
<text x="39.32" y="1040.10" font-size="6.21" text-anchor="end" fill="#000" stroke="#000" stroke-width="0.2" textLength="38.13" lengthAdjust="spacingAndGlyphs" transform="rotate(-70 39.32 1040.10)">CNRM-ESM2-1</text>
<text x="47.37" y="1040.10" font-size="6.21" text-anchor="end" fill="#000" stroke="#000" stroke-width="0.2" textLength="36.94" lengthAdjust="spacingAndGlyphs" transform="rotate(-70 47.37 1040.10)">IPSL-CM6A-LR</text>
<text x="55.43" y="1040.10" font-size="6.21" text-anchor="end" fill="#000" stroke="#000" stroke-width="0.2" textLength="52.97" lengthAdjust="spacingAndGlyphs" transform="rotate(-70 55.43 1040.10)">CESM2-WACCM-FV2</text>
<text x="63.48" y="1040.10" font-size="6.21" text-anchor="end" fill="#000" stroke="#000" stroke-width="0.2" textLength="33.80" lengthAdjust="spacingAndGlyphs" transform="rotate(-70 63.48 1040.10)">NorESM2-LM</text>
<text x="71.53" y="1040.10" font-size="6.21" text-anchor="end" fill="#000" stroke="#000" stroke-width="0.2" textLength="51.63" lengthAdjust="spacingAndGlyphs" transform="rotate(-70 71.53 1040.10)">IPSL-CM6A-LR-INCA</text>
<text x="79.59" y="1040.10" font-size="6.21" text-anchor="end" fill="#000" stroke="#000" stroke-width="0.2" textLength="35.43" lengthAdjust="spacingAndGlyphs" transform="rotate(-70 79.59 1040.10)">NorESM2-MM</text>
<text x="87.64" y="1040.10" font-size="6.21" text-anchor="end" fill="#000" stroke="#000" stroke-width="0.2" textLength="47.64" lengthAdjust="spacingAndGlyphs" transform="rotate(-70 87.64 1040.10)">MPI-ESM-1-2-HAM</text>
<text x="95.69" y="1040.10" font-size="6.21" text-anchor="end" fill="#000" stroke="#000" stroke-width="0.2" textLength="46.74" lengthAdjust="spacingAndGlyphs" transform="rotate(-70 95.69 1040.10)">IPSL-CM5A2-INCA</text>
<text x="103.75" y="1040.10" font-size="6.21" text-anchor="end" fill="#000" stroke="#000" stroke-width="0.2" textLength="31.97" lengthAdjust="spacingAndGlyphs" transform="rotate(-70 103.75 1040.10)">MRI-ESM2-0</text>
<text x="111.80" y="1040.10" font-size="6.21" text-anchor="end" fill="#000" stroke="#000" stroke-width="0.2" textLength="53.30" lengthAdjust="spacingAndGlyphs" transform="rotate(-70 111.80 1040.10)">EC-Earth3-AerChem</text>
<text x="119.85" y="1040.10" font-size="6.21" text-anchor="end" fill="#000" stroke="#000" stroke-width="0.2" textLength="32.84" lengthAdjust="spacingAndGlyphs" transform="rotate(-70 119.85 1040.10)">GISS-E2-1-G</text>
<text x="127.91" y="1040.10" font-size="6.21" text-anchor="end" fill="#000" stroke="#000" stroke-width="0.2" textLength="32.52" lengthAdjust="spacingAndGlyphs" transform="rotate(-70 127.91 1040.10)">GISS-E2-1-H</text>
<text x="135.96" y="1040.10" font-size="6.21" text-anchor="end" fill="#000" stroke="#000" stroke-width="0.2" textLength="29.22" lengthAdjust="spacingAndGlyphs" transform="rotate(-70 135.96 1040.10)">INM-CM5-0</text>
<text x="144.01" y="1040.10" font-size="6.21" text-anchor="end" fill="#000" stroke="#000" stroke-width="0.2" textLength="29.22" lengthAdjust="spacingAndGlyphs" transform="rotate(-70 144.01 1040.10)">INM-CM4-8</text>
<text x="152.07" y="1040.10" font-size="6.21" text-anchor="end" fill="#000" stroke="#000" stroke-width="0.2" textLength="32.84" lengthAdjust="spacingAndGlyphs" transform="rotate(-70 152.07 1040.10)">GISS-E2-2-G</text>
<text x="168.17" y="1040.10" font-size="6.21" text-anchor="end" fill="#000" stroke="#000" stroke-width="0.2" textLength="43.86" lengthAdjust="spacingAndGlyphs" transform="rotate(-70 168.17 1040.10)">MMM (Low AOD)</text>
<text x="176.23" y="1040.10" font-size="6.21" text-anchor="end" fill="#000" stroke="#000" stroke-width="0.2" textLength="45.62" lengthAdjust="spacingAndGlyphs" transform="rotate(-70 176.23 1040.10)">MMM (High AOD)</text>
<text x="184.28" y="1040.10" font-size="6.21" text-anchor="end" fill="#000" stroke="#000" stroke-width="0.2" textLength="26.36" lengthAdjust="spacingAndGlyphs" transform="rotate(-70 184.28 1040.10)">MMM (All)</text>
<path d="M261.29 1033.40v2.6 M261.29 852.40v-1.8 M269.37 1033.40v2.6 M269.37 852.40v-1.8 M277.45 1033.40v2.6 M277.45 852.40v-1.8 M285.52 1033.40v2.6 M285.52 852.40v-1.8 M293.60 1033.40v2.6 M293.60 852.40v-1.8 M301.67 1033.40v2.6 M301.67 852.40v-1.8 M309.75 1033.40v2.6 M309.75 852.40v-1.8 M317.82 1033.40v2.6 M317.82 852.40v-1.8 M325.90 1033.40v2.6 M325.90 852.40v-1.8 M333.97 1033.40v2.6 M333.97 852.40v-1.8 M342.05 1033.40v2.6 M342.05 852.40v-1.8 M350.13 1033.40v2.6 M350.13 852.40v-1.8 M358.20 1033.40v2.6 M358.20 852.40v-1.8 M366.28 1033.40v2.6 M366.28 852.40v-1.8 M374.35 1033.40v2.6 M374.35 852.40v-1.8 M382.43 1033.40v2.6 M382.43 852.40v-1.8 M390.50 1033.40v2.6 M390.50 852.40v-1.8 M398.58 1033.40v2.6 M398.58 852.40v-1.8 M406.65 1033.40v2.6 M406.65 852.40v-1.8 M414.73 1033.40v2.6 M414.73 852.40v-1.8 M422.81 1033.40v2.6 M422.81 852.40v-1.8 M251.20 1033.40h-2.6 M251.20 1013.29h-2.6 M251.20 993.18h-2.6 M251.20 973.07h-2.6 M251.20 952.96h-2.6 M251.20 932.84h-2.6 M251.20 912.73h-2.6 M251.20 892.62h-2.6 M251.20 872.51h-2.6 M251.20 852.40h-2.6" stroke="#000" stroke-width="0.6" fill="none"/>
<path d="M432.90 1033.40h2.6 M432.90 1007.54h2.6 M432.90 981.69h2.6 M432.90 955.83h2.6 M432.90 929.97h2.6 M432.90 904.11h2.6 M432.90 878.26h2.6 M432.90 852.40h2.6 M432.90 1026.94h1.5 M432.90 1020.47h1.5 M432.90 1014.01h1.5 M432.90 1001.08h1.5 M432.90 994.61h1.5 M432.90 988.15h1.5 M432.90 975.22h1.5 M432.90 968.76h1.5 M432.90 962.29h1.5 M432.90 949.36h1.5 M432.90 942.90h1.5 M432.90 936.44h1.5 M432.90 923.51h1.5 M432.90 917.04h1.5 M432.90 910.58h1.5 M432.90 897.65h1.5 M432.90 891.19h1.5 M432.90 884.72h1.5 M432.90 871.79h1.5 M432.90 865.33h1.5 M432.90 858.86h1.5" stroke="#1e90ff" stroke-width="0.6" fill="none"/>
<text x="246.70" y="1035.50" font-size="6.49" text-anchor="end" fill="#000" stroke="#000" stroke-width="0.2" textLength="3.75" lengthAdjust="spacingAndGlyphs">0</text>
<text x="246.70" y="1015.39" font-size="6.49" text-anchor="end" fill="#000" stroke="#000" stroke-width="0.2" textLength="3.75" lengthAdjust="spacingAndGlyphs">5</text>
<text x="246.70" y="995.28" font-size="6.49" text-anchor="end" fill="#000" stroke="#000" stroke-width="0.2" textLength="7.51" lengthAdjust="spacingAndGlyphs">10</text>
<text x="246.70" y="975.17" font-size="6.49" text-anchor="end" fill="#000" stroke="#000" stroke-width="0.2" textLength="7.51" lengthAdjust="spacingAndGlyphs">15</text>
<text x="246.70" y="955.06" font-size="6.49" text-anchor="end" fill="#000" stroke="#000" stroke-width="0.2" textLength="7.51" lengthAdjust="spacingAndGlyphs">20</text>
<text x="246.70" y="934.94" font-size="6.49" text-anchor="end" fill="#000" stroke="#000" stroke-width="0.2" textLength="7.51" lengthAdjust="spacingAndGlyphs">25</text>
<text x="246.70" y="914.83" font-size="6.49" text-anchor="end" fill="#000" stroke="#000" stroke-width="0.2" textLength="7.51" lengthAdjust="spacingAndGlyphs">30</text>
<text x="246.70" y="894.72" font-size="6.49" text-anchor="end" fill="#000" stroke="#000" stroke-width="0.2" textLength="7.51" lengthAdjust="spacingAndGlyphs">35</text>
<text x="246.70" y="874.61" font-size="6.49" text-anchor="end" fill="#000" stroke="#000" stroke-width="0.2" textLength="7.51" lengthAdjust="spacingAndGlyphs">40</text>
<text x="246.70" y="854.50" font-size="6.49" text-anchor="end" fill="#000" stroke="#000" stroke-width="0.2" textLength="7.51" lengthAdjust="spacingAndGlyphs">45</text>
<text x="437.10" y="1036.30" font-size="6.49" text-anchor="start" fill="#1e90ff" stroke="#1e90ff" stroke-width="0.2" textLength="9.38" lengthAdjust="spacingAndGlyphs">0.0</text>
<text x="437.10" y="1010.44" font-size="6.49" text-anchor="start" fill="#1e90ff" stroke="#1e90ff" stroke-width="0.2" textLength="9.38" lengthAdjust="spacingAndGlyphs">0.2</text>
<text x="437.10" y="984.59" font-size="6.49" text-anchor="start" fill="#1e90ff" stroke="#1e90ff" stroke-width="0.2" textLength="9.38" lengthAdjust="spacingAndGlyphs">0.4</text>
<text x="437.10" y="958.73" font-size="6.49" text-anchor="start" fill="#1e90ff" stroke="#1e90ff" stroke-width="0.2" textLength="9.38" lengthAdjust="spacingAndGlyphs">0.6</text>
<text x="437.10" y="932.87" font-size="6.49" text-anchor="start" fill="#1e90ff" stroke="#1e90ff" stroke-width="0.2" textLength="9.38" lengthAdjust="spacingAndGlyphs">0.8</text>
<text x="437.10" y="907.01" font-size="6.49" text-anchor="start" fill="#1e90ff" stroke="#1e90ff" stroke-width="0.2" textLength="9.38" lengthAdjust="spacingAndGlyphs">1.0</text>
<text x="437.10" y="881.16" font-size="6.49" text-anchor="start" fill="#1e90ff" stroke="#1e90ff" stroke-width="0.2" textLength="9.38" lengthAdjust="spacingAndGlyphs">1.2</text>
<text x="437.10" y="855.30" font-size="6.49" text-anchor="start" fill="#1e90ff" stroke="#1e90ff" stroke-width="0.2" textLength="9.38" lengthAdjust="spacingAndGlyphs">1.4</text>
<rect x="259.28" y="883.80" width="4.04" height="149.60" fill="#b0c4de"/>
<rect x="267.35" y="893.80" width="4.04" height="139.60" fill="#b0c4de"/>
<rect x="275.43" y="903.10" width="4.04" height="130.30" fill="#b0c4de"/>
<rect x="283.50" y="912.00" width="4.04" height="121.40" fill="#b0c4de"/>
<rect x="291.58" y="887.10" width="4.04" height="146.30" fill="#b0c4de"/>
<rect x="299.65" y="883.80" width="4.04" height="149.60" fill="#b0c4de"/>
<rect x="307.73" y="886.80" width="4.04" height="146.60" fill="#b0c4de"/>
<rect x="315.80" y="873.50" width="4.04" height="159.90" fill="#b0c4de"/>
<rect x="331.96" y="889.30" width="4.04" height="144.10" fill="#b0c4de"/>
<rect x="340.03" y="898.90" width="4.04" height="134.50" fill="#b0c4de"/>
<rect x="348.11" y="902.60" width="4.04" height="130.80" fill="#b0c4de"/>
<rect x="356.18" y="900.60" width="4.04" height="132.80" fill="#b0c4de"/>
<rect x="380.41" y="900.60" width="4.04" height="132.80" fill="#b0c4de"/>
<rect x="396.56" y="890.60" width="4.04" height="142.80" fill="#b0c4de"/>
<rect x="404.64" y="900.60" width="4.04" height="132.80" fill="#b0c4de"/>
<rect x="412.71" y="895.60" width="4.04" height="137.80" fill="#b0c4de"/>
<line x1="261.29" y1="879.30" x2="261.29" y2="889.60" stroke="#000" stroke-opacity="0.55" stroke-width="0.6"/>
<line x1="259.79" y1="879.30" x2="262.79" y2="879.30" stroke="#000" stroke-width="0.8"/>
<line x1="259.79" y1="889.60" x2="262.79" y2="889.60" stroke="#000" stroke-width="0.8"/>
<line x1="269.37" y1="886.50" x2="269.37" y2="901.20" stroke="#000" stroke-opacity="0.55" stroke-width="0.6"/>
<line x1="267.87" y1="886.50" x2="270.87" y2="886.50" stroke="#000" stroke-width="0.8"/>
<line x1="267.87" y1="901.20" x2="270.87" y2="901.20" stroke="#000" stroke-width="0.8"/>
<line x1="277.45" y1="898.40" x2="277.45" y2="908.70" stroke="#000" stroke-opacity="0.55" stroke-width="0.6"/>
<line x1="275.95" y1="898.40" x2="278.95" y2="898.40" stroke="#000" stroke-width="0.8"/>
<line x1="275.95" y1="908.70" x2="278.95" y2="908.70" stroke="#000" stroke-width="0.8"/>
<line x1="285.52" y1="904.50" x2="285.52" y2="919.50" stroke="#000" stroke-opacity="0.55" stroke-width="0.6"/>
<line x1="284.02" y1="904.50" x2="287.02" y2="904.50" stroke="#000" stroke-width="0.8"/>
<line x1="284.02" y1="919.50" x2="287.02" y2="919.50" stroke="#000" stroke-width="0.8"/>
<line x1="293.60" y1="882.20" x2="293.60" y2="893.10" stroke="#000" stroke-opacity="0.55" stroke-width="0.6"/>
<line x1="292.10" y1="882.20" x2="295.10" y2="882.20" stroke="#000" stroke-width="0.8"/>
<line x1="292.10" y1="893.10" x2="295.10" y2="893.10" stroke="#000" stroke-width="0.8"/>
<line x1="301.67" y1="878.00" x2="301.67" y2="889.30" stroke="#000" stroke-opacity="0.55" stroke-width="0.6"/>
<line x1="300.17" y1="878.00" x2="303.17" y2="878.00" stroke="#000" stroke-width="0.8"/>
<line x1="300.17" y1="889.30" x2="303.17" y2="889.30" stroke="#000" stroke-width="0.8"/>
<line x1="309.75" y1="881.00" x2="309.75" y2="892.60" stroke="#000" stroke-opacity="0.55" stroke-width="0.6"/>
<line x1="308.25" y1="881.00" x2="311.25" y2="881.00" stroke="#000" stroke-width="0.8"/>
<line x1="308.25" y1="892.60" x2="311.25" y2="892.60" stroke="#000" stroke-width="0.8"/>
<line x1="317.82" y1="867.40" x2="317.82" y2="877.40" stroke="#000" stroke-opacity="0.55" stroke-width="0.6"/>
<line x1="316.32" y1="867.40" x2="319.32" y2="867.40" stroke="#000" stroke-width="0.8"/>
<line x1="316.32" y1="877.40" x2="319.32" y2="877.40" stroke="#000" stroke-width="0.8"/>
<line x1="333.97" y1="882.30" x2="333.97" y2="896.80" stroke="#000" stroke-opacity="0.55" stroke-width="0.6"/>
<line x1="332.47" y1="882.30" x2="335.47" y2="882.30" stroke="#000" stroke-width="0.8"/>
<line x1="332.47" y1="896.80" x2="335.47" y2="896.80" stroke="#000" stroke-width="0.8"/>
<line x1="342.05" y1="894.60" x2="342.05" y2="903.40" stroke="#000" stroke-opacity="0.55" stroke-width="0.6"/>
<line x1="340.55" y1="894.60" x2="343.55" y2="894.60" stroke="#000" stroke-width="0.8"/>
<line x1="340.55" y1="903.40" x2="343.55" y2="903.40" stroke="#000" stroke-width="0.8"/>
<line x1="350.13" y1="896.40" x2="350.13" y2="909.20" stroke="#000" stroke-opacity="0.55" stroke-width="0.6"/>
<line x1="348.63" y1="896.40" x2="351.63" y2="896.40" stroke="#000" stroke-width="0.8"/>
<line x1="348.63" y1="909.20" x2="351.63" y2="909.20" stroke="#000" stroke-width="0.8"/>
<line x1="358.20" y1="895.10" x2="358.20" y2="906.70" stroke="#000" stroke-opacity="0.55" stroke-width="0.6"/>
<line x1="356.70" y1="895.10" x2="359.70" y2="895.10" stroke="#000" stroke-width="0.8"/>
<line x1="356.70" y1="906.70" x2="359.70" y2="906.70" stroke="#000" stroke-width="0.8"/>
<line x1="382.43" y1="894.80" x2="382.43" y2="906.70" stroke="#000" stroke-opacity="0.55" stroke-width="0.6"/>
<line x1="380.93" y1="894.80" x2="383.93" y2="894.80" stroke="#000" stroke-width="0.8"/>
<line x1="380.93" y1="906.70" x2="383.93" y2="906.70" stroke="#000" stroke-width="0.8"/>
<line x1="398.58" y1="885.50" x2="398.58" y2="897.10" stroke="#000" stroke-opacity="0.55" stroke-width="0.6"/>
<line x1="397.08" y1="885.50" x2="400.08" y2="885.50" stroke="#000" stroke-width="0.8"/>
<line x1="397.08" y1="897.10" x2="400.08" y2="897.10" stroke="#000" stroke-width="0.8"/>
<line x1="406.65" y1="894.80" x2="406.65" y2="906.70" stroke="#000" stroke-opacity="0.55" stroke-width="0.6"/>
<line x1="405.15" y1="894.80" x2="408.15" y2="894.80" stroke="#000" stroke-width="0.8"/>
<line x1="405.15" y1="906.70" x2="408.15" y2="906.70" stroke="#000" stroke-width="0.8"/>
<line x1="414.73" y1="890.10" x2="414.73" y2="902.10" stroke="#000" stroke-opacity="0.55" stroke-width="0.6"/>
<line x1="413.23" y1="890.10" x2="416.23" y2="890.10" stroke="#000" stroke-width="0.8"/>
<line x1="413.23" y1="902.10" x2="416.23" y2="902.10" stroke="#000" stroke-width="0.8"/>
<line x1="390.50" y1="852.40" x2="390.50" y2="1033.40" stroke="#777" stroke-width="1.5"/>
<path d="M261.29 876.98 L269.37 871.73 L277.45 875.64 L285.52 888.39 L293.60 907.63 L301.67 893.33 L309.75 893.33 L317.82 872.45 L325.90 886.75 L333.97 871.94 L342.05 865.87 L350.13 882.33 L358.20 885.72 L366.28 894.67 L374.35 889.94 L382.43 922.54" fill="none" stroke="#1e90ff" stroke-width="1.15" stroke-dasharray="2.6 1.3"/>
<path d="M398.58 882.02 L406.65 894.98 L414.73 886.13" fill="none" stroke="#1e90ff" stroke-width="1.15" stroke-dasharray="2.6 1.3"/>
<circle cx="261.29" cy="876.98" r="1.35" fill="#1e90ff"/>
<circle cx="269.37" cy="871.73" r="1.35" fill="#1e90ff"/>
<circle cx="277.45" cy="875.64" r="1.35" fill="#1e90ff"/>
<circle cx="285.52" cy="888.39" r="1.35" fill="#1e90ff"/>
<circle cx="293.60" cy="907.63" r="1.35" fill="#1e90ff"/>
<circle cx="301.67" cy="893.33" r="1.35" fill="#1e90ff"/>
<circle cx="309.75" cy="893.33" r="1.35" fill="#1e90ff"/>
<circle cx="317.82" cy="872.45" r="1.35" fill="#1e90ff"/>
<circle cx="325.90" cy="886.75" r="1.35" fill="#1e90ff"/>
<circle cx="333.97" cy="871.94" r="1.35" fill="#1e90ff"/>
<circle cx="342.05" cy="865.87" r="1.35" fill="#1e90ff"/>
<circle cx="350.13" cy="882.33" r="1.35" fill="#1e90ff"/>
<circle cx="358.20" cy="885.72" r="1.35" fill="#1e90ff"/>
<circle cx="366.28" cy="894.67" r="1.35" fill="#1e90ff"/>
<circle cx="374.35" cy="889.94" r="1.35" fill="#1e90ff"/>
<circle cx="382.43" cy="922.54" r="1.35" fill="#1e90ff"/>
<circle cx="398.58" cy="882.02" r="1.35" fill="#1e90ff"/>
<circle cx="406.65" cy="894.98" r="1.35" fill="#1e90ff"/>
<circle cx="414.73" cy="886.13" r="1.35" fill="#1e90ff"/>
<path d="M261.29 975.09 L269.37 976.84 L277.45 977.97 L285.52 993.60 L293.60 983.01 L301.67 975.29 L309.75 975.29 L317.82 979.31 L325.90 978.17 L333.97 975.91 L342.05 960.79 L350.13 952.88 L358.20 941.05 L366.28 940.23 L374.35 945.27 L382.43 929.53" fill="none" stroke="#ff0000" stroke-width="1.15" stroke-dasharray="2.6 1.3"/>
<path d="M398.58 977.25 L406.65 942.18 L414.73 960.79" fill="none" stroke="#ff0000" stroke-width="1.15" stroke-dasharray="2.6 1.3"/>
<circle cx="261.29" cy="975.09" r="1.35" fill="#ff0000"/>
<circle cx="269.37" cy="976.84" r="1.35" fill="#ff0000"/>
<circle cx="277.45" cy="977.97" r="1.35" fill="#ff0000"/>
<circle cx="285.52" cy="993.60" r="1.35" fill="#ff0000"/>
<circle cx="293.60" cy="983.01" r="1.35" fill="#ff0000"/>
<circle cx="301.67" cy="975.29" r="1.35" fill="#ff0000"/>
<circle cx="309.75" cy="975.29" r="1.35" fill="#ff0000"/>
<circle cx="317.82" cy="979.31" r="1.35" fill="#ff0000"/>
<circle cx="325.90" cy="978.17" r="1.35" fill="#ff0000"/>
<circle cx="333.97" cy="975.91" r="1.35" fill="#ff0000"/>
<circle cx="342.05" cy="960.79" r="1.35" fill="#ff0000"/>
<circle cx="350.13" cy="952.88" r="1.35" fill="#ff0000"/>
<circle cx="358.20" cy="941.05" r="1.35" fill="#ff0000"/>
<circle cx="366.28" cy="940.23" r="1.35" fill="#ff0000"/>
<circle cx="374.35" cy="945.27" r="1.35" fill="#ff0000"/>
<circle cx="382.43" cy="929.53" r="1.35" fill="#ff0000"/>
<circle cx="398.58" cy="977.25" r="1.35" fill="#ff0000"/>
<circle cx="406.65" cy="942.18" r="1.35" fill="#ff0000"/>
<circle cx="414.73" cy="960.79" r="1.35" fill="#ff0000"/>
<path d="M261.29 935.19 L269.37 928.19 L277.45 931.28 L285.52 928.19 L293.60 957.61 L301.67 951.54 L309.75 951.54 L317.82 926.75 L325.90 941.87 L333.97 928.91 L342.05 938.17 L350.13 962.44 L358.20 978.17 L366.28 987.74 L374.35 978.17 L382.43 1025.69" fill="none" stroke="#8a2be2" stroke-width="1.15" stroke-dasharray="2.6 1.3"/>
<path d="M398.58 937.96 L406.65 986.09 L414.73 961.93" fill="none" stroke="#8a2be2" stroke-width="1.15" stroke-dasharray="2.6 1.3"/>
<circle cx="261.29" cy="935.19" r="1.35" fill="#8a2be2"/>
<circle cx="269.37" cy="928.19" r="1.35" fill="#8a2be2"/>
<circle cx="277.45" cy="931.28" r="1.35" fill="#8a2be2"/>
<circle cx="285.52" cy="928.19" r="1.35" fill="#8a2be2"/>
<circle cx="293.60" cy="957.61" r="1.35" fill="#8a2be2"/>
<circle cx="301.67" cy="951.54" r="1.35" fill="#8a2be2"/>
<circle cx="309.75" cy="951.54" r="1.35" fill="#8a2be2"/>
<circle cx="317.82" cy="926.75" r="1.35" fill="#8a2be2"/>
<circle cx="325.90" cy="941.87" r="1.35" fill="#8a2be2"/>
<circle cx="333.97" cy="928.91" r="1.35" fill="#8a2be2"/>
<circle cx="342.05" cy="938.17" r="1.35" fill="#8a2be2"/>
<circle cx="350.13" cy="962.44" r="1.35" fill="#8a2be2"/>
<circle cx="358.20" cy="978.17" r="1.35" fill="#8a2be2"/>
<circle cx="366.28" cy="987.74" r="1.35" fill="#8a2be2"/>
<circle cx="374.35" cy="978.17" r="1.35" fill="#8a2be2"/>
<circle cx="382.43" cy="1025.69" r="1.35" fill="#8a2be2"/>
<circle cx="398.58" cy="937.96" r="1.35" fill="#8a2be2"/>
<circle cx="406.65" cy="986.09" r="1.35" fill="#8a2be2"/>
<circle cx="414.73" cy="961.93" r="1.35" fill="#8a2be2"/>
<rect x="251.20" y="852.40" width="181.70" height="181.00" fill="none" stroke="#000" stroke-width="0.8"/>
<text x="342.05" y="846.20" font-size="6.49" font-weight="bold" text-anchor="middle" fill="#000" stroke="#000" stroke-width="0.2" textLength="52.73" lengthAdjust="spacingAndGlyphs">k) Summer (JJA)</text>
<text x="235.79" y="942.90" font-size="6.49" font-weight="bold" text-anchor="middle" fill="#000" stroke="#000" stroke-width="0.2" textLength="72.87" lengthAdjust="spacingAndGlyphs" transform="rotate(-90 235.79 942.90)">Relative Humidity (%)</text>
<text x="453.40" y="942.90" font-size="6.49" font-weight="bold" text-anchor="middle" fill="#1e90ff" stroke="#1e90ff" stroke-width="0.2" textLength="76.67" lengthAdjust="spacingAndGlyphs" transform="rotate(-90 453.40 942.90)">Precipitation (mm/day)</text>
<text x="342.05" y="1098.20" font-size="6.49" font-weight="bold" text-anchor="middle" fill="#000" stroke="#000" stroke-width="0.2" textLength="23.68" lengthAdjust="spacingAndGlyphs">Models</text>
<text x="260.09" y="1040.10" font-size="6.21" text-anchor="end" fill="#000" stroke="#000" stroke-width="0.2" textLength="21.26" lengthAdjust="spacingAndGlyphs" transform="rotate(-70 260.09 1040.10)">MIROC6</text>
<text x="268.17" y="1040.10" font-size="6.21" text-anchor="end" fill="#000" stroke="#000" stroke-width="0.2" textLength="38.13" lengthAdjust="spacingAndGlyphs" transform="rotate(-70 268.17 1040.10)">CNRM-ESM2-1</text>
<text x="276.25" y="1040.10" font-size="6.21" text-anchor="end" fill="#000" stroke="#000" stroke-width="0.2" textLength="36.94" lengthAdjust="spacingAndGlyphs" transform="rotate(-70 276.25 1040.10)">IPSL-CM6A-LR</text>
<text x="284.32" y="1040.10" font-size="6.21" text-anchor="end" fill="#000" stroke="#000" stroke-width="0.2" textLength="47.64" lengthAdjust="spacingAndGlyphs" transform="rotate(-70 284.32 1040.10)">MPI-ESM-1-2-HAM</text>
<text x="292.40" y="1040.10" font-size="6.21" text-anchor="end" fill="#000" stroke="#000" stroke-width="0.2" textLength="52.97" lengthAdjust="spacingAndGlyphs" transform="rotate(-70 292.40 1040.10)">CESM2-WACCM-FV2</text>
<text x="300.47" y="1040.10" font-size="6.21" text-anchor="end" fill="#000" stroke="#000" stroke-width="0.2" textLength="33.80" lengthAdjust="spacingAndGlyphs" transform="rotate(-70 300.47 1040.10)">NorESM2-LM</text>
<text x="308.55" y="1040.10" font-size="6.21" text-anchor="end" fill="#000" stroke="#000" stroke-width="0.2" textLength="35.43" lengthAdjust="spacingAndGlyphs" transform="rotate(-70 308.55 1040.10)">NorESM2-MM</text>
<text x="316.62" y="1040.10" font-size="6.21" text-anchor="end" fill="#000" stroke="#000" stroke-width="0.2" textLength="51.63" lengthAdjust="spacingAndGlyphs" transform="rotate(-70 316.62 1040.10)">IPSL-CM6A-LR-INCA</text>
<text x="324.70" y="1040.10" font-size="6.21" text-anchor="end" fill="#000" stroke="#000" stroke-width="0.2" textLength="53.30" lengthAdjust="spacingAndGlyphs" transform="rotate(-70 324.70 1040.10)">EC-Earth3-AerChem</text>
<text x="332.77" y="1040.10" font-size="6.21" text-anchor="end" fill="#000" stroke="#000" stroke-width="0.2" textLength="31.97" lengthAdjust="spacingAndGlyphs" transform="rotate(-70 332.77 1040.10)">MRI-ESM2-0</text>
<text x="340.85" y="1040.10" font-size="6.21" text-anchor="end" fill="#000" stroke="#000" stroke-width="0.2" textLength="46.74" lengthAdjust="spacingAndGlyphs" transform="rotate(-70 340.85 1040.10)">IPSL-CM5A2-INCA</text>
<text x="348.93" y="1040.10" font-size="6.21" text-anchor="end" fill="#000" stroke="#000" stroke-width="0.2" textLength="32.52" lengthAdjust="spacingAndGlyphs" transform="rotate(-70 348.93 1040.10)">GISS-E2-1-H</text>
<text x="357.00" y="1040.10" font-size="6.21" text-anchor="end" fill="#000" stroke="#000" stroke-width="0.2" textLength="32.84" lengthAdjust="spacingAndGlyphs" transform="rotate(-70 357.00 1040.10)">GISS-E2-1-G</text>
<text x="365.08" y="1040.10" font-size="6.21" text-anchor="end" fill="#000" stroke="#000" stroke-width="0.2" textLength="29.22" lengthAdjust="spacingAndGlyphs" transform="rotate(-70 365.08 1040.10)">INM-CM5-0</text>
<text x="373.15" y="1040.10" font-size="6.21" text-anchor="end" fill="#000" stroke="#000" stroke-width="0.2" textLength="29.22" lengthAdjust="spacingAndGlyphs" transform="rotate(-70 373.15 1040.10)">INM-CM4-8</text>
<text x="381.23" y="1040.10" font-size="6.21" text-anchor="end" fill="#000" stroke="#000" stroke-width="0.2" textLength="32.84" lengthAdjust="spacingAndGlyphs" transform="rotate(-70 381.23 1040.10)">GISS-E2-2-G</text>
<text x="397.38" y="1040.10" font-size="6.21" text-anchor="end" fill="#000" stroke="#000" stroke-width="0.2" textLength="43.86" lengthAdjust="spacingAndGlyphs" transform="rotate(-70 397.38 1040.10)">MMM (Low AOD)</text>
<text x="405.45" y="1040.10" font-size="6.21" text-anchor="end" fill="#000" stroke="#000" stroke-width="0.2" textLength="45.62" lengthAdjust="spacingAndGlyphs" transform="rotate(-70 405.45 1040.10)">MMM (High AOD)</text>
<text x="413.53" y="1040.10" font-size="6.21" text-anchor="end" fill="#000" stroke="#000" stroke-width="0.2" textLength="26.36" lengthAdjust="spacingAndGlyphs" transform="rotate(-70 413.53 1040.10)">MMM (All)</text>
<path d="M491.17 1033.40v2.6 M491.17 852.40v-1.8 M499.23 1033.40v2.6 M499.23 852.40v-1.8 M507.29 1033.40v2.6 M507.29 852.40v-1.8 M515.35 1033.40v2.6 M515.35 852.40v-1.8 M523.40 1033.40v2.6 M523.40 852.40v-1.8 M531.46 1033.40v2.6 M531.46 852.40v-1.8 M539.52 1033.40v2.6 M539.52 852.40v-1.8 M547.58 1033.40v2.6 M547.58 852.40v-1.8 M555.63 1033.40v2.6 M555.63 852.40v-1.8 M563.69 1033.40v2.6 M563.69 852.40v-1.8 M571.75 1033.40v2.6 M571.75 852.40v-1.8 M579.81 1033.40v2.6 M579.81 852.40v-1.8 M587.87 1033.40v2.6 M587.87 852.40v-1.8 M595.92 1033.40v2.6 M595.92 852.40v-1.8 M603.98 1033.40v2.6 M603.98 852.40v-1.8 M612.04 1033.40v2.6 M612.04 852.40v-1.8 M620.10 1033.40v2.6 M620.10 852.40v-1.8 M628.15 1033.40v2.6 M628.15 852.40v-1.8 M636.21 1033.40v2.6 M636.21 852.40v-1.8 M644.27 1033.40v2.6 M644.27 852.40v-1.8 M652.33 1033.40v2.6 M652.33 852.40v-1.8 M481.10 1033.40h-2.6 M481.10 1013.29h-2.6 M481.10 993.18h-2.6 M481.10 973.07h-2.6 M481.10 952.96h-2.6 M481.10 932.84h-2.6 M481.10 912.73h-2.6 M481.10 892.62h-2.6 M481.10 872.51h-2.6 M481.10 852.40h-2.6" stroke="#000" stroke-width="0.6" fill="none"/>
<path d="M662.40 1033.40h2.6 M662.40 1007.54h2.6 M662.40 981.69h2.6 M662.40 955.83h2.6 M662.40 929.97h2.6 M662.40 904.11h2.6 M662.40 878.26h2.6 M662.40 852.40h2.6 M662.40 1026.94h1.5 M662.40 1020.47h1.5 M662.40 1014.01h1.5 M662.40 1001.08h1.5 M662.40 994.61h1.5 M662.40 988.15h1.5 M662.40 975.22h1.5 M662.40 968.76h1.5 M662.40 962.29h1.5 M662.40 949.36h1.5 M662.40 942.90h1.5 M662.40 936.44h1.5 M662.40 923.51h1.5 M662.40 917.04h1.5 M662.40 910.58h1.5 M662.40 897.65h1.5 M662.40 891.19h1.5 M662.40 884.72h1.5 M662.40 871.79h1.5 M662.40 865.33h1.5 M662.40 858.86h1.5" stroke="#1e90ff" stroke-width="0.6" fill="none"/>
<text x="476.60" y="1035.50" font-size="6.49" text-anchor="end" fill="#000" stroke="#000" stroke-width="0.2" textLength="3.75" lengthAdjust="spacingAndGlyphs">0</text>
<text x="476.60" y="1015.39" font-size="6.49" text-anchor="end" fill="#000" stroke="#000" stroke-width="0.2" textLength="3.75" lengthAdjust="spacingAndGlyphs">5</text>
<text x="476.60" y="995.28" font-size="6.49" text-anchor="end" fill="#000" stroke="#000" stroke-width="0.2" textLength="7.51" lengthAdjust="spacingAndGlyphs">10</text>
<text x="476.60" y="975.17" font-size="6.49" text-anchor="end" fill="#000" stroke="#000" stroke-width="0.2" textLength="7.51" lengthAdjust="spacingAndGlyphs">15</text>
<text x="476.60" y="955.06" font-size="6.49" text-anchor="end" fill="#000" stroke="#000" stroke-width="0.2" textLength="7.51" lengthAdjust="spacingAndGlyphs">20</text>
<text x="476.60" y="934.94" font-size="6.49" text-anchor="end" fill="#000" stroke="#000" stroke-width="0.2" textLength="7.51" lengthAdjust="spacingAndGlyphs">25</text>
<text x="476.60" y="914.83" font-size="6.49" text-anchor="end" fill="#000" stroke="#000" stroke-width="0.2" textLength="7.51" lengthAdjust="spacingAndGlyphs">30</text>
<text x="476.60" y="894.72" font-size="6.49" text-anchor="end" fill="#000" stroke="#000" stroke-width="0.2" textLength="7.51" lengthAdjust="spacingAndGlyphs">35</text>
<text x="476.60" y="874.61" font-size="6.49" text-anchor="end" fill="#000" stroke="#000" stroke-width="0.2" textLength="7.51" lengthAdjust="spacingAndGlyphs">40</text>
<text x="476.60" y="854.50" font-size="6.49" text-anchor="end" fill="#000" stroke="#000" stroke-width="0.2" textLength="7.51" lengthAdjust="spacingAndGlyphs">45</text>
<text x="666.60" y="1036.30" font-size="6.49" text-anchor="start" fill="#1e90ff" stroke="#1e90ff" stroke-width="0.2" textLength="9.38" lengthAdjust="spacingAndGlyphs">0.0</text>
<text x="666.60" y="1010.44" font-size="6.49" text-anchor="start" fill="#1e90ff" stroke="#1e90ff" stroke-width="0.2" textLength="9.38" lengthAdjust="spacingAndGlyphs">0.2</text>
<text x="666.60" y="984.59" font-size="6.49" text-anchor="start" fill="#1e90ff" stroke="#1e90ff" stroke-width="0.2" textLength="9.38" lengthAdjust="spacingAndGlyphs">0.4</text>
<text x="666.60" y="958.73" font-size="6.49" text-anchor="start" fill="#1e90ff" stroke="#1e90ff" stroke-width="0.2" textLength="9.38" lengthAdjust="spacingAndGlyphs">0.6</text>
<text x="666.60" y="932.87" font-size="6.49" text-anchor="start" fill="#1e90ff" stroke="#1e90ff" stroke-width="0.2" textLength="9.38" lengthAdjust="spacingAndGlyphs">0.8</text>
<text x="666.60" y="907.01" font-size="6.49" text-anchor="start" fill="#1e90ff" stroke="#1e90ff" stroke-width="0.2" textLength="9.38" lengthAdjust="spacingAndGlyphs">1.0</text>
<text x="666.60" y="881.16" font-size="6.49" text-anchor="start" fill="#1e90ff" stroke="#1e90ff" stroke-width="0.2" textLength="9.38" lengthAdjust="spacingAndGlyphs">1.2</text>
<text x="666.60" y="855.30" font-size="6.49" text-anchor="start" fill="#1e90ff" stroke="#1e90ff" stroke-width="0.2" textLength="9.38" lengthAdjust="spacingAndGlyphs">1.4</text>
<rect x="489.16" y="887.10" width="4.03" height="146.30" fill="#b0c4de"/>
<rect x="497.22" y="898.10" width="4.03" height="135.30" fill="#b0c4de"/>
<rect x="505.27" y="902.60" width="4.03" height="130.80" fill="#b0c4de"/>
<rect x="513.33" y="889.80" width="4.03" height="143.60" fill="#b0c4de"/>
<rect x="521.39" y="910.80" width="4.03" height="122.60" fill="#b0c4de"/>
<rect x="529.45" y="882.20" width="4.03" height="151.20" fill="#b0c4de"/>
<rect x="537.50" y="888.80" width="4.03" height="144.60" fill="#b0c4de"/>
<rect x="545.56" y="872.20" width="4.03" height="161.20" fill="#b0c4de"/>
<rect x="553.62" y="903.70" width="4.03" height="129.70" fill="#b0c4de"/>
<rect x="569.74" y="889.80" width="4.03" height="143.60" fill="#b0c4de"/>
<rect x="577.79" y="898.10" width="4.03" height="135.30" fill="#b0c4de"/>
<rect x="585.85" y="899.20" width="4.03" height="134.20" fill="#b0c4de"/>
<rect x="610.02" y="898.40" width="4.03" height="135.00" fill="#b0c4de"/>
<rect x="626.14" y="892.60" width="4.03" height="140.80" fill="#b0c4de"/>
<rect x="634.20" y="898.90" width="4.03" height="134.50" fill="#b0c4de"/>
<rect x="642.26" y="895.90" width="4.03" height="137.50" fill="#b0c4de"/>
<line x1="491.17" y1="881.50" x2="491.17" y2="893.40" stroke="#000" stroke-opacity="0.55" stroke-width="0.6"/>
<line x1="489.67" y1="881.50" x2="492.67" y2="881.50" stroke="#000" stroke-width="0.8"/>
<line x1="489.67" y1="893.40" x2="492.67" y2="893.40" stroke="#000" stroke-width="0.8"/>
<line x1="499.23" y1="890.50" x2="499.23" y2="906.40" stroke="#000" stroke-opacity="0.55" stroke-width="0.6"/>
<line x1="497.73" y1="890.50" x2="500.73" y2="890.50" stroke="#000" stroke-width="0.8"/>
<line x1="497.73" y1="906.40" x2="500.73" y2="906.40" stroke="#000" stroke-width="0.8"/>
<line x1="507.29" y1="897.10" x2="507.29" y2="908.40" stroke="#000" stroke-opacity="0.55" stroke-width="0.6"/>
<line x1="505.79" y1="897.10" x2="508.79" y2="897.10" stroke="#000" stroke-width="0.8"/>
<line x1="505.79" y1="908.40" x2="508.79" y2="908.40" stroke="#000" stroke-width="0.8"/>
<line x1="515.35" y1="883.00" x2="515.35" y2="897.10" stroke="#000" stroke-opacity="0.55" stroke-width="0.6"/>
<line x1="513.85" y1="883.00" x2="516.85" y2="883.00" stroke="#000" stroke-width="0.8"/>
<line x1="513.85" y1="897.10" x2="516.85" y2="897.10" stroke="#000" stroke-width="0.8"/>
<line x1="523.40" y1="903.70" x2="523.40" y2="919.50" stroke="#000" stroke-opacity="0.55" stroke-width="0.6"/>
<line x1="521.90" y1="903.70" x2="524.90" y2="903.70" stroke="#000" stroke-width="0.8"/>
<line x1="521.90" y1="919.50" x2="524.90" y2="919.50" stroke="#000" stroke-width="0.8"/>
<line x1="531.46" y1="876.50" x2="531.46" y2="888.10" stroke="#000" stroke-opacity="0.55" stroke-width="0.6"/>
<line x1="529.96" y1="876.50" x2="532.96" y2="876.50" stroke="#000" stroke-width="0.8"/>
<line x1="529.96" y1="888.10" x2="532.96" y2="888.10" stroke="#000" stroke-width="0.8"/>
<line x1="539.52" y1="883.20" x2="539.52" y2="894.80" stroke="#000" stroke-opacity="0.55" stroke-width="0.6"/>
<line x1="538.02" y1="883.20" x2="541.02" y2="883.20" stroke="#000" stroke-width="0.8"/>
<line x1="538.02" y1="894.80" x2="541.02" y2="894.80" stroke="#000" stroke-width="0.8"/>
<line x1="547.58" y1="868.20" x2="547.58" y2="876.50" stroke="#000" stroke-opacity="0.55" stroke-width="0.6"/>
<line x1="546.08" y1="868.20" x2="549.08" y2="868.20" stroke="#000" stroke-width="0.8"/>
<line x1="546.08" y1="876.50" x2="549.08" y2="876.50" stroke="#000" stroke-width="0.8"/>
<line x1="555.63" y1="899.60" x2="555.63" y2="907.90" stroke="#000" stroke-opacity="0.55" stroke-width="0.6"/>
<line x1="554.13" y1="899.60" x2="557.13" y2="899.60" stroke="#000" stroke-width="0.8"/>
<line x1="554.13" y1="907.90" x2="557.13" y2="907.90" stroke="#000" stroke-width="0.8"/>
<line x1="571.75" y1="882.20" x2="571.75" y2="897.60" stroke="#000" stroke-opacity="0.55" stroke-width="0.6"/>
<line x1="570.25" y1="882.20" x2="573.25" y2="882.20" stroke="#000" stroke-width="0.8"/>
<line x1="570.25" y1="897.60" x2="573.25" y2="897.60" stroke="#000" stroke-width="0.8"/>
<line x1="579.81" y1="892.30" x2="579.81" y2="904.00" stroke="#000" stroke-opacity="0.55" stroke-width="0.6"/>
<line x1="578.31" y1="892.30" x2="581.31" y2="892.30" stroke="#000" stroke-width="0.8"/>
<line x1="578.31" y1="904.00" x2="581.31" y2="904.00" stroke="#000" stroke-width="0.8"/>
<line x1="587.87" y1="892.30" x2="587.87" y2="907.00" stroke="#000" stroke-opacity="0.55" stroke-width="0.6"/>
<line x1="586.37" y1="892.30" x2="589.37" y2="892.30" stroke="#000" stroke-width="0.8"/>
<line x1="586.37" y1="907.00" x2="589.37" y2="907.00" stroke="#000" stroke-width="0.8"/>
<line x1="612.04" y1="891.40" x2="612.04" y2="905.90" stroke="#000" stroke-opacity="0.55" stroke-width="0.6"/>
<line x1="610.54" y1="891.40" x2="613.54" y2="891.40" stroke="#000" stroke-width="0.8"/>
<line x1="610.54" y1="905.90" x2="613.54" y2="905.90" stroke="#000" stroke-width="0.8"/>
<line x1="628.15" y1="886.50" x2="628.15" y2="898.70" stroke="#000" stroke-opacity="0.55" stroke-width="0.6"/>
<line x1="626.65" y1="886.50" x2="629.65" y2="886.50" stroke="#000" stroke-width="0.8"/>
<line x1="626.65" y1="898.70" x2="629.65" y2="898.70" stroke="#000" stroke-width="0.8"/>
<line x1="636.21" y1="892.10" x2="636.21" y2="905.90" stroke="#000" stroke-opacity="0.55" stroke-width="0.6"/>
<line x1="634.71" y1="892.10" x2="637.71" y2="892.10" stroke="#000" stroke-width="0.8"/>
<line x1="634.71" y1="905.90" x2="637.71" y2="905.90" stroke="#000" stroke-width="0.8"/>
<line x1="644.27" y1="889.30" x2="644.27" y2="902.60" stroke="#000" stroke-opacity="0.55" stroke-width="0.6"/>
<line x1="642.77" y1="889.30" x2="645.77" y2="889.30" stroke="#000" stroke-width="0.8"/>
<line x1="642.77" y1="902.60" x2="645.77" y2="902.60" stroke="#000" stroke-width="0.8"/>
<line x1="620.10" y1="852.40" x2="620.10" y2="1033.40" stroke="#111" stroke-width="1.0"/>
<path d="M491.17 908.55 L499.23 910.20 L507.29 904.33 L515.35 919.76 L523.40 929.22 L531.46 913.59 L539.52 919.76 L547.58 910.51 L555.63 907.01 L563.69 901.97 L571.75 909.37 L579.81 905.16 L587.87 903.92 L595.92 921.61 L603.98 918.63 L612.04 938.48" fill="none" stroke="#1e90ff" stroke-width="1.15" stroke-dasharray="2.6 1.3"/>
<path d="M628.15 912.36 L636.21 917.40 L644.27 913.90" fill="none" stroke="#1e90ff" stroke-width="1.15" stroke-dasharray="2.6 1.3"/>
<circle cx="491.17" cy="908.55" r="1.35" fill="#1e90ff"/>
<circle cx="499.23" cy="910.20" r="1.35" fill="#1e90ff"/>
<circle cx="507.29" cy="904.33" r="1.35" fill="#1e90ff"/>
<circle cx="515.35" cy="919.76" r="1.35" fill="#1e90ff"/>
<circle cx="523.40" cy="929.22" r="1.35" fill="#1e90ff"/>
<circle cx="531.46" cy="913.59" r="1.35" fill="#1e90ff"/>
<circle cx="539.52" cy="919.76" r="1.35" fill="#1e90ff"/>
<circle cx="547.58" cy="910.51" r="1.35" fill="#1e90ff"/>
<circle cx="555.63" cy="907.01" r="1.35" fill="#1e90ff"/>
<circle cx="563.69" cy="901.97" r="1.35" fill="#1e90ff"/>
<circle cx="571.75" cy="909.37" r="1.35" fill="#1e90ff"/>
<circle cx="579.81" cy="905.16" r="1.35" fill="#1e90ff"/>
<circle cx="587.87" cy="903.92" r="1.35" fill="#1e90ff"/>
<circle cx="595.92" cy="921.61" r="1.35" fill="#1e90ff"/>
<circle cx="603.98" cy="918.63" r="1.35" fill="#1e90ff"/>
<circle cx="612.04" cy="938.48" r="1.35" fill="#1e90ff"/>
<circle cx="628.15" cy="912.36" r="1.35" fill="#1e90ff"/>
<circle cx="636.21" cy="917.40" r="1.35" fill="#1e90ff"/>
<circle cx="644.27" cy="913.90" r="1.35" fill="#1e90ff"/>
<path d="M491.17 966.66 L499.23 966.66 L507.29 963.78 L515.35 974.78 L523.40 969.74 L531.46 961.93 L539.52 969.74 L547.58 977.15 L555.63 957.40 L563.69 963.78 L571.75 960.28 L579.81 948.97 L587.87 936.01 L595.92 949.48 L603.98 953.18 L612.04 943.41" fill="none" stroke="#ff0000" stroke-width="1.15" stroke-dasharray="2.6 1.3"/>
<path d="M628.15 966.35 L636.21 946.40 L644.27 957.40" fill="none" stroke="#ff0000" stroke-width="1.15" stroke-dasharray="2.6 1.3"/>
<circle cx="491.17" cy="966.66" r="1.35" fill="#ff0000"/>
<circle cx="499.23" cy="966.66" r="1.35" fill="#ff0000"/>
<circle cx="507.29" cy="963.78" r="1.35" fill="#ff0000"/>
<circle cx="515.35" cy="974.78" r="1.35" fill="#ff0000"/>
<circle cx="523.40" cy="969.74" r="1.35" fill="#ff0000"/>
<circle cx="531.46" cy="961.93" r="1.35" fill="#ff0000"/>
<circle cx="539.52" cy="969.74" r="1.35" fill="#ff0000"/>
<circle cx="547.58" cy="977.15" r="1.35" fill="#ff0000"/>
<circle cx="555.63" cy="957.40" r="1.35" fill="#ff0000"/>
<circle cx="563.69" cy="963.78" r="1.35" fill="#ff0000"/>
<circle cx="571.75" cy="960.28" r="1.35" fill="#ff0000"/>
<circle cx="579.81" cy="948.97" r="1.35" fill="#ff0000"/>
<circle cx="587.87" cy="936.01" r="1.35" fill="#ff0000"/>
<circle cx="595.92" cy="949.48" r="1.35" fill="#ff0000"/>
<circle cx="603.98" cy="953.18" r="1.35" fill="#ff0000"/>
<circle cx="612.04" cy="943.41" r="1.35" fill="#ff0000"/>
<circle cx="628.15" cy="966.35" r="1.35" fill="#ff0000"/>
<circle cx="636.21" cy="946.40" r="1.35" fill="#ff0000"/>
<circle cx="644.27" cy="957.40" r="1.35" fill="#ff0000"/>
<path d="M491.17 975.09 L499.23 977.15 L507.29 973.96 L515.35 978.48 L523.40 992.78 L531.46 984.86 L539.52 984.04 L547.58 966.66 L555.63 983.01 L563.69 971.39 L571.75 981.88 L579.81 989.38 L587.87 1000.90 L595.92 1004.09 L603.98 997.82 L612.04 1027.85" fill="none" stroke="#8a2be2" stroke-width="1.15" stroke-dasharray="2.6 1.3"/>
<path d="M628.15 979.31 L636.21 1002.96 L644.27 991.13" fill="none" stroke="#8a2be2" stroke-width="1.15" stroke-dasharray="2.6 1.3"/>
<circle cx="491.17" cy="975.09" r="1.35" fill="#8a2be2"/>
<circle cx="499.23" cy="977.15" r="1.35" fill="#8a2be2"/>
<circle cx="507.29" cy="973.96" r="1.35" fill="#8a2be2"/>
<circle cx="515.35" cy="978.48" r="1.35" fill="#8a2be2"/>
<circle cx="523.40" cy="992.78" r="1.35" fill="#8a2be2"/>
<circle cx="531.46" cy="984.86" r="1.35" fill="#8a2be2"/>
<circle cx="539.52" cy="984.04" r="1.35" fill="#8a2be2"/>
<circle cx="547.58" cy="966.66" r="1.35" fill="#8a2be2"/>
<circle cx="555.63" cy="983.01" r="1.35" fill="#8a2be2"/>
<circle cx="563.69" cy="971.39" r="1.35" fill="#8a2be2"/>
<circle cx="571.75" cy="981.88" r="1.35" fill="#8a2be2"/>
<circle cx="579.81" cy="989.38" r="1.35" fill="#8a2be2"/>
<circle cx="587.87" cy="1000.90" r="1.35" fill="#8a2be2"/>
<circle cx="595.92" cy="1004.09" r="1.35" fill="#8a2be2"/>
<circle cx="603.98" cy="997.82" r="1.35" fill="#8a2be2"/>
<circle cx="612.04" cy="1027.85" r="1.35" fill="#8a2be2"/>
<circle cx="628.15" cy="979.31" r="1.35" fill="#8a2be2"/>
<circle cx="636.21" cy="1002.96" r="1.35" fill="#8a2be2"/>
<circle cx="644.27" cy="991.13" r="1.35" fill="#8a2be2"/>
<rect x="481.10" y="852.40" width="181.30" height="181.00" fill="none" stroke="#000" stroke-width="0.8"/>
<text x="571.75" y="846.20" font-size="6.49" font-weight="bold" text-anchor="middle" fill="#000" stroke="#000" stroke-width="0.2" textLength="88.04" lengthAdjust="spacingAndGlyphs">l) Spring+Summer (AMJJA)</text>
<text x="465.69" y="942.90" font-size="6.49" font-weight="bold" text-anchor="middle" fill="#000" stroke="#000" stroke-width="0.2" textLength="72.87" lengthAdjust="spacingAndGlyphs" transform="rotate(-90 465.69 942.90)">Relative Humidity (%)</text>
<text x="682.90" y="942.90" font-size="6.49" font-weight="bold" text-anchor="middle" fill="#1e90ff" stroke="#1e90ff" stroke-width="0.2" textLength="76.67" lengthAdjust="spacingAndGlyphs" transform="rotate(-90 682.90 942.90)">Precipitation (mm/day)</text>
<text x="571.75" y="1098.20" font-size="6.49" font-weight="bold" text-anchor="middle" fill="#000" stroke="#000" stroke-width="0.2" textLength="23.68" lengthAdjust="spacingAndGlyphs">Models</text>
<text x="489.97" y="1040.10" font-size="6.21" text-anchor="end" fill="#000" stroke="#000" stroke-width="0.2" textLength="21.26" lengthAdjust="spacingAndGlyphs" transform="rotate(-70 489.97 1040.10)">MIROC6</text>
<text x="498.03" y="1040.10" font-size="6.21" text-anchor="end" fill="#000" stroke="#000" stroke-width="0.2" textLength="38.13" lengthAdjust="spacingAndGlyphs" transform="rotate(-70 498.03 1040.10)">CNRM-ESM2-1</text>
<text x="506.09" y="1040.10" font-size="6.21" text-anchor="end" fill="#000" stroke="#000" stroke-width="0.2" textLength="36.94" lengthAdjust="spacingAndGlyphs" transform="rotate(-70 506.09 1040.10)">IPSL-CM6A-LR</text>
<text x="514.15" y="1040.10" font-size="6.21" text-anchor="end" fill="#000" stroke="#000" stroke-width="0.2" textLength="52.97" lengthAdjust="spacingAndGlyphs" transform="rotate(-70 514.15 1040.10)">CESM2-WACCM-FV2</text>
<text x="522.20" y="1040.10" font-size="6.21" text-anchor="end" fill="#000" stroke="#000" stroke-width="0.2" textLength="47.64" lengthAdjust="spacingAndGlyphs" transform="rotate(-70 522.20 1040.10)">MPI-ESM-1-2-HAM</text>
<text x="530.26" y="1040.10" font-size="6.21" text-anchor="end" fill="#000" stroke="#000" stroke-width="0.2" textLength="33.80" lengthAdjust="spacingAndGlyphs" transform="rotate(-70 530.26 1040.10)">NorESM2-LM</text>
<text x="538.32" y="1040.10" font-size="6.21" text-anchor="end" fill="#000" stroke="#000" stroke-width="0.2" textLength="35.43" lengthAdjust="spacingAndGlyphs" transform="rotate(-70 538.32 1040.10)">NorESM2-MM</text>
<text x="546.38" y="1040.10" font-size="6.21" text-anchor="end" fill="#000" stroke="#000" stroke-width="0.2" textLength="51.63" lengthAdjust="spacingAndGlyphs" transform="rotate(-70 546.38 1040.10)">IPSL-CM6A-LR-INCA</text>
<text x="554.43" y="1040.10" font-size="6.21" text-anchor="end" fill="#000" stroke="#000" stroke-width="0.2" textLength="46.74" lengthAdjust="spacingAndGlyphs" transform="rotate(-70 554.43 1040.10)">IPSL-CM5A2-INCA</text>
<text x="562.49" y="1040.10" font-size="6.21" text-anchor="end" fill="#000" stroke="#000" stroke-width="0.2" textLength="53.30" lengthAdjust="spacingAndGlyphs" transform="rotate(-70 562.49 1040.10)">EC-Earth3-AerChem</text>
<text x="570.55" y="1040.10" font-size="6.21" text-anchor="end" fill="#000" stroke="#000" stroke-width="0.2" textLength="31.97" lengthAdjust="spacingAndGlyphs" transform="rotate(-70 570.55 1040.10)">MRI-ESM2-0</text>
<text x="578.61" y="1040.10" font-size="6.21" text-anchor="end" fill="#000" stroke="#000" stroke-width="0.2" textLength="32.84" lengthAdjust="spacingAndGlyphs" transform="rotate(-70 578.61 1040.10)">GISS-E2-1-G</text>
<text x="586.67" y="1040.10" font-size="6.21" text-anchor="end" fill="#000" stroke="#000" stroke-width="0.2" textLength="32.52" lengthAdjust="spacingAndGlyphs" transform="rotate(-70 586.67 1040.10)">GISS-E2-1-H</text>
<text x="594.72" y="1040.10" font-size="6.21" text-anchor="end" fill="#000" stroke="#000" stroke-width="0.2" textLength="29.22" lengthAdjust="spacingAndGlyphs" transform="rotate(-70 594.72 1040.10)">INM-CM5-0</text>
<text x="602.78" y="1040.10" font-size="6.21" text-anchor="end" fill="#000" stroke="#000" stroke-width="0.2" textLength="29.22" lengthAdjust="spacingAndGlyphs" transform="rotate(-70 602.78 1040.10)">INM-CM4-8</text>
<text x="610.84" y="1040.10" font-size="6.21" text-anchor="end" fill="#000" stroke="#000" stroke-width="0.2" textLength="32.84" lengthAdjust="spacingAndGlyphs" transform="rotate(-70 610.84 1040.10)">GISS-E2-2-G</text>
<text x="626.95" y="1040.10" font-size="6.21" text-anchor="end" fill="#000" stroke="#000" stroke-width="0.2" textLength="43.86" lengthAdjust="spacingAndGlyphs" transform="rotate(-70 626.95 1040.10)">MMM (Low AOD)</text>
<text x="635.01" y="1040.10" font-size="6.21" text-anchor="end" fill="#000" stroke="#000" stroke-width="0.2" textLength="45.62" lengthAdjust="spacingAndGlyphs" transform="rotate(-70 635.01 1040.10)">MMM (High AOD)</text>
<text x="643.07" y="1040.10" font-size="6.21" text-anchor="end" fill="#000" stroke="#000" stroke-width="0.2" textLength="26.36" lengthAdjust="spacingAndGlyphs" transform="rotate(-70 643.07 1040.10)">MMM (All)</text>
</svg>
</body></html>
